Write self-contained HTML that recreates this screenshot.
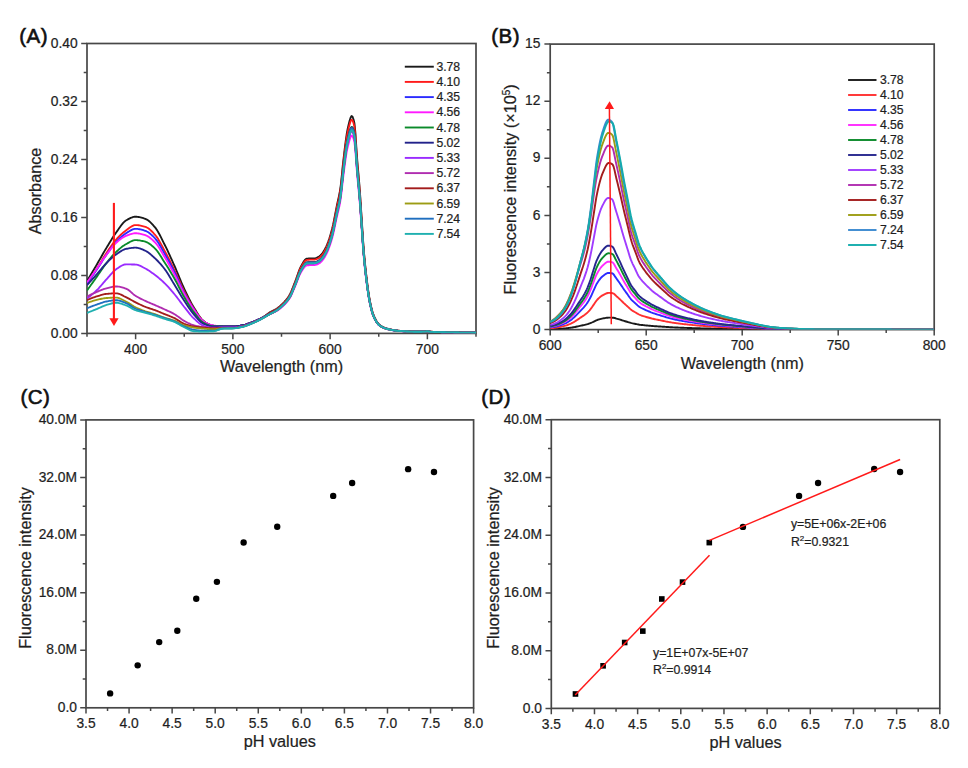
<!DOCTYPE html>
<html><head><meta charset="utf-8"><title>Figure</title>
<style>html,body{margin:0;padding:0;background:#fff;}svg{display:block;}text{fill:#1e1e1e;stroke:#1e1e1e;stroke-width:0.22px;font-family:"Liberation Sans", sans-serif;}</style>
</head><body>
<svg width="968" height="768" viewBox="0 0 968 768">
<rect width="968" height="768" fill="#fff"/>
<text x="19.3" y="42.9" font-size="20.5" text-anchor="start" style="stroke:#111;stroke-width:0.6px;fill:#111" letter-spacing="0.45">(A)</text>
<text x="491.3" y="42.8" font-size="20.5" text-anchor="start" style="stroke:#111;stroke-width:0.6px;fill:#111" letter-spacing="0.45">(B)</text>
<text x="20.6" y="404" font-size="20.5" text-anchor="start" style="stroke:#111;stroke-width:0.6px;fill:#111" letter-spacing="0.45">(C)</text>
<text x="481.3" y="404" font-size="20.5" text-anchor="start" style="stroke:#111;stroke-width:0.6px;fill:#111" letter-spacing="0.45">(D)</text>
<rect x="87" y="43.5" width="389" height="289.9" fill="none" stroke="#474747" stroke-width="1.7"/>
<path d="M87,333.4v3.3 M135.62,333.4v5.8 M184.25,333.4v3.3 M232.88,333.4v5.8 M281.5,333.4v3.3 M330.12,333.4v5.8 M378.75,333.4v3.3 M427.38,333.4v5.8 M476,333.4v3.3" stroke="#474747" stroke-width="1.5" fill="none"/>
<text x="135.62" y="353.6" font-size="13.8" text-anchor="middle">400</text>
<text x="232.88" y="353.6" font-size="13.8" text-anchor="middle">500</text>
<text x="330.12" y="353.6" font-size="13.8" text-anchor="middle">600</text>
<text x="427.38" y="353.6" font-size="13.8" text-anchor="middle">700</text>
<path d="M87,333.4h-5.8 M87,304.41h-3.3 M87,275.42h-5.8 M87,246.43h-3.3 M87,217.44h-5.8 M87,188.45h-3.3 M87,159.46h-5.8 M87,130.47h-3.3 M87,101.48h-5.8 M87,72.49h-3.3 M87,43.5h-5.8" stroke="#474747" stroke-width="1.5" fill="none"/>
<text x="77.6" y="337.5" font-size="13.8" text-anchor="end">0.00</text>
<text x="77.6" y="279.52" font-size="13.8" text-anchor="end">0.08</text>
<text x="77.6" y="221.54" font-size="13.8" text-anchor="end">0.16</text>
<text x="77.6" y="163.56" font-size="13.8" text-anchor="end">0.24</text>
<text x="77.6" y="105.58" font-size="13.8" text-anchor="end">0.32</text>
<text x="77.6" y="47.6" font-size="13.8" text-anchor="end">0.40</text>
<text x="281.6" y="372.3" font-size="16.25" text-anchor="middle">Wavelength (nm)</text>
<text transform="translate(40.8,191) rotate(-90)" font-size="16.25" text-anchor="middle">Absorbance</text>
<svg x="87" y="43.5" width="389" height="289.9" overflow="hidden"><g transform="translate(-87,-43.5)">
<path d="M87,281.07 87.97,279.45 88.94,277.83 89.92,276.2 90.89,274.57 91.86,272.94 92.83,271.3 93.81,269.65 94.78,268 95.75,266.35 96.72,264.69 97.7,263.02 98.67,261.33 99.64,259.63 100.62,257.93 101.59,256.22 102.56,254.52 103.53,252.83 104.5,251.15 105.48,249.5 106.45,247.88 107.42,246.27 108.39,244.66 109.37,243.05 110.34,241.45 111.31,239.87 112.28,238.32 113.26,236.8 114.23,235.32 115.2,233.89 116.17,232.51 117.15,231.14 118.12,229.74 119.09,228.32 120.06,226.93 121.04,225.58 122.01,224.31 122.98,223.15 123.95,222.11 124.93,221.24 125.9,220.56 126.87,219.98 127.84,219.41 128.82,218.87 129.79,218.37 130.76,217.91 131.74,217.51 132.71,217.18 133.68,216.93 134.65,216.77 135.62,216.72 136.6,216.74 137.57,216.83 138.54,216.97 139.51,217.15 140.49,217.37 141.46,217.62 142.43,217.91 143.41,218.22 144.38,218.55 145.35,218.89 146.32,219.31 147.3,219.85 148.27,220.52 149.24,221.3 150.21,222.16 151.19,223.11 152.16,224.12 153.13,225.19 154.1,226.3 155.07,227.44 156.05,228.69 157.02,230.13 157.99,231.72 158.97,233.44 159.94,235.26 160.91,237.16 161.88,239.11 162.86,241.08 163.83,243.04 164.8,244.98 165.77,246.92 166.75,248.91 167.72,250.95 168.69,253.03 169.66,255.14 170.63,257.28 171.61,259.45 172.58,261.62 173.55,263.81 174.53,266 175.5,268.22 176.47,270.51 177.44,272.85 178.41,275.2 179.39,277.57 180.36,279.92 181.33,282.24 182.31,284.51 183.28,286.71 184.25,288.83 185.22,290.89 186.19,292.93 187.17,294.95 188.14,296.93 189.11,298.87 190.09,300.76 191.06,302.6 192.03,304.37 193,306.06 193.98,307.67 194.95,309.25 195.92,310.85 196.89,312.43 197.87,313.98 198.84,315.46 199.81,316.86 200.78,318.15 201.75,319.29 202.73,320.28 203.7,321.08 204.67,321.77 205.64,322.43 206.62,323.06 207.59,323.65 208.56,324.19 209.53,324.67 210.51,325.08 211.48,325.41 212.45,325.65 213.43,325.79 214.4,325.88 215.37,325.95 216.34,326.02 217.31,326.07 218.29,326.12 219.26,326.16 220.23,326.2 221.2,326.24 222.18,326.27 223.15,326.3 224.12,326.33 225.09,326.36 226.07,326.39 227.04,326.42 228.01,326.44 228.98,326.47 229.96,326.49 230.93,326.5 231.9,326.51 232.88,326.51 233.85,326.5 234.82,326.44 235.79,326.36 236.77,326.25 237.74,326.12 238.71,325.97 239.68,325.81 240.66,325.64 241.63,325.46 242.6,325.28 243.57,325.09 244.55,324.85 245.52,324.58 246.49,324.28 247.46,323.96 248.44,323.62 249.41,323.26 250.38,322.9 251.35,322.53 252.32,322.17 253.3,321.8 254.27,321.42 255.24,321.03 256.22,320.63 257.19,320.21 258.16,319.77 259.13,319.31 260.11,318.84 261.08,318.34 262.05,317.82 263.02,317.24 264,316.59 264.97,315.88 265.94,315.15 266.91,314.41 267.88,313.69 268.86,313.01 269.83,312.38 270.8,311.83 271.77,311.33 272.75,310.85 273.72,310.38 274.69,309.89 275.66,309.35 276.64,308.76 277.61,308.09 278.58,307.35 279.56,306.54 280.53,305.68 281.5,304.77 282.47,303.83 283.44,302.85 284.42,301.82 285.39,300.73 286.36,299.56 287.34,298.3 288.31,296.92 289.28,295.42 290.25,293.65 291.23,291.55 292.2,289.21 293.17,286.72 294.14,284.2 295.12,281.73 296.09,279.15 297.06,276.35 298.03,273.51 299,270.79 299.98,268.35 300.95,266.36 301.92,264.62 302.89,262.91 303.87,261.34 304.84,260.03 305.81,259.1 306.78,258.68 307.76,258.57 308.73,258.48 309.7,258.43 310.67,258.39 311.65,258.37 312.62,258.35 313.59,258.34 314.56,258.32 315.54,258.17 316.51,257.86 317.48,257.43 318.45,256.94 319.43,256.3 320.4,255.43 321.37,254.4 322.35,253.23 323.32,251.85 324.29,250.27 325.26,248.51 326.24,246.57 327.21,244.38 328.18,241.86 329.15,239.03 330.12,235.93 331.1,232.59 332.07,229.04 333.04,224.97 334.01,220.28 334.99,215.22 335.96,210.08 336.93,205.12 337.9,200.66 338.88,196.33 339.85,191.39 340.82,184.84 341.8,175.64 342.77,165.68 343.74,157.04 344.71,148.9 345.69,141.1 346.66,134.27 347.63,129.02 348.6,124.73 349.58,120.75 350.55,117.67 351.52,116.07 352.49,116.59 353.47,119.22 354.44,123.22 355.41,132.94 356.38,148.16 357.35,161.55 358.33,172.56 359.3,183.72 360.27,196.82 361.25,212.06 362.22,227.16 363.19,242.13 364.16,254.3 365.13,264.59 366.11,273.65 367.08,281.82 368.05,289.4 369.02,296.02 370,301.32 370.97,305.96 371.94,310.01 372.92,313.33 373.89,315.85 374.86,318.02 375.83,319.96 376.81,321.65 377.78,323.06 378.75,324.18 379.72,325.01 380.69,325.7 381.67,326.33 382.64,326.87 383.61,327.36 384.58,327.78 385.56,328.14 386.53,328.45 387.5,328.72 388.48,328.97 389.45,329.2 390.42,329.42 391.39,329.63 392.37,329.82 393.34,330 394.31,330.17 395.28,330.32 396.25,330.46 397.23,330.58 398.2,330.69 399.17,330.78 400.15,330.86 401.12,330.93 402.09,331 403.06,331.07 404.03,331.14 405.01,331.2 405.98,331.26 406.95,331.32 407.92,331.37 408.9,331.42 409.87,331.47 410.84,331.51 411.81,331.55 412.79,331.58 413.76,331.61 414.73,331.63 415.7,331.65 416.68,331.66 417.65,331.66 418.62,331.66 419.59,331.65 420.57,331.63 421.54,331.61 422.51,331.58 423.49,331.55 424.46,331.52 425.43,331.42 426.4,331.29 427.38,331.23 428.35,331.32 429.32,331.52 430.29,331.66 431.26,331.72 432.24,331.78 433.21,331.83 434.18,331.88 435.16,331.92 436.13,331.96 437.1,332 438.07,332.03 439.05,332.06 440.02,332.08 440.99,332.11 441.96,332.13 442.94,332.16 443.91,332.18 444.88,332.2 445.85,332.22 446.83,332.24 447.8,332.26 448.77,332.28 449.74,332.3 450.72,332.32 451.69,332.34 452.66,332.36 453.63,332.38 454.6,332.4 455.58,332.42 456.55,332.44 457.52,332.46 458.5,332.48 459.47,332.5 460.44,332.51 461.41,332.53 462.38,332.55 463.36,332.56 464.33,332.57 465.3,332.59 466.27,332.6 467.25,332.61 468.22,332.62 469.19,332.63 470.17,332.64 471.14,332.65 472.11,332.66 473.08,332.66 474.06,332.67 475.03,332.67 476,332.68" stroke="#1a1a1a" stroke-width="1.85" fill="none" stroke-linejoin="round"/>
<path d="M87,283.25 87.97,281.88 88.94,280.5 89.92,279.11 90.89,277.69 91.86,276.27 92.83,274.82 93.81,273.36 94.78,271.89 95.75,270.4 96.72,268.9 97.7,267.36 98.67,265.77 99.64,264.15 100.62,262.51 101.59,260.86 102.56,259.21 103.53,257.59 104.5,255.99 105.48,254.44 106.45,252.95 107.42,251.49 108.39,250.04 109.37,248.6 110.34,247.17 111.31,245.78 112.28,244.42 113.26,243.11 114.23,241.86 115.2,240.67 116.17,239.54 117.15,238.48 118.12,237.44 119.09,236.43 120.06,235.45 121.04,234.51 122.01,233.61 122.98,232.76 123.95,231.95 124.93,231.19 125.9,230.49 126.87,229.78 127.84,229.05 128.82,228.31 129.79,227.59 130.76,226.92 131.74,226.31 132.71,225.8 133.68,225.4 134.65,225.14 135.62,225.05 136.6,225.07 137.57,225.14 138.54,225.26 139.51,225.4 140.49,225.59 141.46,225.8 142.43,226.04 143.41,226.3 144.38,226.57 145.35,226.86 146.32,227.23 147.3,227.73 148.27,228.34 149.24,229.07 150.21,229.88 151.19,230.77 152.16,231.72 153.13,232.73 154.1,233.77 155.07,234.83 156.05,236 157.02,237.34 157.99,238.82 158.97,240.42 159.94,242.12 160.91,243.89 161.88,245.7 162.86,247.53 163.83,249.35 164.8,251.14 165.77,252.93 166.75,254.75 167.72,256.62 168.69,258.51 169.66,260.44 170.63,262.39 171.61,264.36 172.58,266.34 173.55,268.34 174.53,270.35 175.5,272.39 176.47,274.49 177.44,276.64 178.41,278.81 179.39,280.99 180.36,283.15 181.33,285.29 182.31,287.38 183.28,289.41 184.25,291.36 185.22,293.26 186.19,295.14 187.17,297 188.14,298.82 189.11,300.61 190.09,302.35 191.06,304.04 192.03,305.68 193,307.25 193.98,308.76 194.95,310.24 195.92,311.75 196.89,313.25 197.87,314.71 198.84,316.12 199.81,317.45 200.78,318.67 201.75,319.76 202.73,320.69 203.7,321.44 204.67,322.08 205.64,322.69 206.62,323.28 207.59,323.82 208.56,324.31 209.53,324.75 210.51,325.13 211.48,325.43 212.45,325.65 213.43,325.79 214.4,325.88 215.37,325.95 216.34,326.01 217.31,326.07 218.29,326.12 219.26,326.16 220.23,326.2 221.2,326.23 222.18,326.27 223.15,326.3 224.12,326.33 225.09,326.36 226.07,326.39 227.04,326.42 228.01,326.44 228.98,326.47 229.96,326.49 230.93,326.5 231.9,326.51 232.88,326.51 233.85,326.5 234.82,326.44 235.79,326.36 236.77,326.25 237.74,326.12 238.71,325.97 239.68,325.81 240.66,325.64 241.63,325.46 242.6,325.28 243.57,325.09 244.55,324.85 245.52,324.58 246.49,324.28 247.46,323.96 248.44,323.62 249.41,323.26 250.38,322.9 251.35,322.53 252.32,322.17 253.3,321.8 254.27,321.42 255.24,321.02 256.22,320.61 257.19,320.19 258.16,319.75 259.13,319.29 260.11,318.82 261.08,318.33 262.05,317.82 263.02,317.26 264,316.65 264.97,316 265.94,315.32 266.91,314.64 267.88,313.97 268.86,313.33 269.83,312.74 270.8,312.2 271.77,311.71 272.75,311.24 273.72,310.78 274.69,310.29 275.66,309.76 276.64,309.18 277.61,308.52 278.58,307.79 279.56,307 280.53,306.15 281.5,305.26 282.47,304.33 283.44,303.37 284.42,302.36 285.39,301.29 286.36,300.14 287.34,298.9 288.31,297.54 289.28,296.07 290.25,294.33 291.23,292.26 292.2,289.96 293.17,287.52 294.14,285.03 295.12,282.6 296.09,280.07 297.06,277.32 298.03,274.53 299,271.85 299.98,269.45 300.95,267.5 301.92,265.79 302.89,264.11 303.87,262.56 304.84,261.27 305.81,260.36 306.78,259.95 307.76,259.84 308.73,259.76 309.7,259.7 310.67,259.66 311.65,259.64 312.62,259.63 313.59,259.62 314.56,259.59 315.54,259.45 316.51,259.14 317.48,258.72 318.45,258.24 319.43,257.61 320.4,256.75 321.37,255.75 322.35,254.59 323.32,253.23 324.29,251.68 325.26,249.95 326.24,248.05 327.21,245.89 328.18,243.41 329.15,240.64 330.12,237.59 331.1,234.31 332.07,230.81 333.04,226.82 334.01,222.2 334.99,217.23 335.96,212.17 336.93,207.3 337.9,202.92 338.88,198.66 339.85,193.8 340.82,187.37 341.8,178.33 342.77,168.53 343.74,160.04 344.71,152.04 345.69,144.37 346.66,137.65 347.63,132.49 348.6,128.28 349.58,124.36 350.55,121.33 351.52,119.77 352.49,120.27 353.47,122.86 354.44,126.8 355.41,136.35 356.38,151.31 357.35,164.47 358.33,175.3 359.3,186.26 360.27,199.14 361.25,214.12 362.22,228.97 363.19,243.68 364.16,255.65 365.13,265.76 366.11,274.67 367.08,282.7 368.05,290.15 369.02,296.65 370,301.87 370.97,306.43 371.94,310.41 372.92,313.68 373.89,316.15 374.86,318.28 375.83,320.19 376.81,321.85 377.78,323.24 378.75,324.34 379.72,325.15 380.69,325.83 381.67,326.45 382.64,326.99 383.61,327.46 384.58,327.87 385.56,328.23 386.53,328.54 387.5,328.8 388.48,329.04 389.45,329.27 390.42,329.49 391.39,329.7 392.37,329.89 393.34,330.06 394.31,330.22 395.28,330.37 396.25,330.51 397.23,330.63 398.2,330.74 399.17,330.83 400.15,330.91 401.12,330.98 402.09,331.05 403.06,331.11 404.03,331.18 405.01,331.24 405.98,331.3 406.95,331.36 407.92,331.41 408.9,331.46 409.87,331.5 410.84,331.54 411.81,331.58 412.79,331.61 413.76,331.64 414.73,331.66 415.7,331.68 416.68,331.69 417.65,331.69 418.62,331.69 419.59,331.68 420.57,331.66 421.54,331.64 422.51,331.61 423.49,331.58 424.46,331.55 425.43,331.46 426.4,331.33 427.38,331.26 428.35,331.36 429.32,331.55 430.29,331.69 431.26,331.75 432.24,331.81 433.21,331.86 434.18,331.9 435.16,331.95 436.13,331.98 437.1,332.02 438.07,332.05 439.05,332.08 440.02,332.11 440.99,332.13 441.96,332.16 442.94,332.18 443.91,332.2 444.88,332.22 445.85,332.24 446.83,332.26 447.8,332.28 448.77,332.3 449.74,332.32 450.72,332.34 451.69,332.36 452.66,332.38 453.63,332.4 454.6,332.42 455.58,332.44 456.55,332.46 457.52,332.48 458.5,332.49 459.47,332.51 460.44,332.53 461.41,332.54 462.38,332.56 463.36,332.57 464.33,332.59 465.3,332.6 466.27,332.61 467.25,332.63 468.22,332.64 469.19,332.65 470.17,332.66 471.14,332.66 472.11,332.67 473.08,332.68 474.06,332.68 475.03,332.69 476,332.69" stroke="#ff1a1a" stroke-width="1.85" fill="none" stroke-linejoin="round"/>
<path d="M87,283.39 87.97,282.06 88.94,280.72 89.92,279.37 90.89,278.01 91.86,276.64 92.83,275.26 93.81,273.86 94.78,272.46 95.75,271.05 96.72,269.62 97.7,268.17 98.67,266.69 99.64,265.18 100.62,263.66 101.59,262.13 102.56,260.6 103.53,259.1 104.5,257.61 105.48,256.17 106.45,254.76 107.42,253.38 108.39,252 109.37,250.62 110.34,249.25 111.31,247.91 112.28,246.61 113.26,245.35 114.23,244.14 115.2,243 116.17,241.94 117.15,240.92 118.12,239.92 119.09,238.96 120.06,238.02 121.04,237.12 122.01,236.27 122.98,235.46 123.95,234.71 124.93,234.01 125.9,233.38 126.87,232.77 127.84,232.15 128.82,231.52 129.79,230.92 130.76,230.36 131.74,229.85 132.71,229.43 133.68,229.1 134.65,228.89 135.62,228.82 136.6,228.85 137.57,228.93 138.54,229.06 139.51,229.23 140.49,229.43 141.46,229.67 142.43,229.94 143.41,230.23 144.38,230.53 145.35,230.85 146.32,231.23 147.3,231.72 148.27,232.32 149.24,233.01 150.21,233.78 151.19,234.61 152.16,235.51 153.13,236.46 154.1,237.45 155.07,238.46 156.05,239.57 157.02,240.85 157.99,242.27 158.97,243.81 159.94,245.43 160.91,247.12 161.88,248.86 162.86,250.6 163.83,252.34 164.8,254.04 165.77,255.73 166.75,257.45 167.72,259.2 168.69,260.98 169.66,262.78 170.63,264.61 171.61,266.46 172.58,268.34 173.55,270.24 174.53,272.16 175.5,274.13 176.47,276.19 177.44,278.3 178.41,280.44 179.39,282.59 180.36,284.74 181.33,286.86 182.31,288.92 183.28,290.91 184.25,292.81 185.22,294.65 186.19,296.46 187.17,298.23 188.14,299.98 189.11,301.68 190.09,303.35 191.06,304.96 192.03,306.53 193,308.03 193.98,309.48 194.95,310.92 195.92,312.39 196.89,313.85 197.87,315.28 198.84,316.66 199.81,317.96 200.78,319.15 201.75,320.21 202.73,321.1 203.7,321.8 204.67,322.4 205.64,322.96 206.62,323.49 207.59,323.99 208.56,324.44 209.53,324.84 210.51,325.18 211.48,325.45 212.45,325.66 213.43,325.79 214.4,325.87 215.37,325.95 216.34,326.01 217.31,326.07 218.29,326.12 219.26,326.16 220.23,326.2 221.2,326.23 222.18,326.27 223.15,326.3 224.12,326.33 225.09,326.36 226.07,326.39 227.04,326.42 228.01,326.44 228.98,326.47 229.96,326.49 230.93,326.5 231.9,326.51 232.88,326.51 233.85,326.5 234.82,326.44 235.79,326.36 236.77,326.25 237.74,326.12 238.71,325.97 239.68,325.81 240.66,325.64 241.63,325.46 242.6,325.28 243.57,325.09 244.55,324.85 245.52,324.58 246.49,324.28 247.46,323.96 248.44,323.62 249.41,323.26 250.38,322.9 251.35,322.53 252.32,322.17 253.3,321.79 254.27,321.4 255.24,320.99 256.22,320.56 257.19,320.13 258.16,319.68 259.13,319.22 260.11,318.76 261.08,318.29 262.05,317.82 263.02,317.34 264,316.84 264.97,316.33 265.94,315.81 266.91,315.29 267.88,314.77 268.86,314.25 269.83,313.75 270.8,313.27 271.77,312.81 272.75,312.37 273.72,311.91 274.69,311.44 275.66,310.92 276.64,310.36 277.61,309.73 278.58,309.04 279.56,308.29 280.53,307.48 281.5,306.63 282.47,305.75 283.44,304.84 284.42,303.88 285.39,302.86 286.36,301.76 287.34,300.58 288.31,299.3 289.28,297.89 290.25,296.24 291.23,294.27 292.2,292.08 293.17,289.76 294.14,287.4 295.12,285.08 296.09,282.67 297.06,280.06 298.03,277.41 299,274.86 299.98,272.58 300.95,270.72 301.92,269.09 302.89,267.49 303.87,266.02 304.84,264.8 305.81,263.93 306.78,263.54 307.76,263.43 308.73,263.35 309.7,263.3 310.67,263.26 311.65,263.24 312.62,263.23 313.59,263.22 314.56,263.2 315.54,263.06 316.51,262.77 317.48,262.37 318.45,261.91 319.43,261.31 320.4,260.49 321.37,259.54 322.35,258.44 323.32,257.15 324.29,255.67 325.26,254.03 326.24,252.22 327.21,250.17 328.18,247.81 329.15,245.17 330.12,242.27 331.1,239.15 332.07,235.82 333.04,232.02 334.01,227.63 334.99,222.9 335.96,218.09 336.93,213.46 337.9,209.29 338.88,205.24 339.85,200.62 340.82,194.5 341.8,185.9 342.77,176.58 343.74,168.51 344.71,160.89 345.69,153.6 346.66,147.21 347.63,142.31 348.6,138.29 349.58,134.57 350.55,131.69 351.52,130.2 352.49,130.68 353.47,133.14 354.44,136.88 355.41,145.97 356.38,160.2 357.35,172.72 358.33,183.02 359.3,193.45 360.27,205.7 361.25,219.95 362.22,234.07 363.19,248.06 364.16,259.44 365.13,269.06 366.11,277.53 367.08,285.18 368.05,292.26 369.02,298.45 370,303.41 370.97,307.75 371.94,311.53 372.92,314.64 373.89,316.99 374.86,319.02 375.83,320.83 376.81,322.41 377.78,323.73 378.75,324.78 379.72,325.55 380.69,326.2 381.67,326.79 382.64,327.3 383.61,327.75 384.58,328.14 385.56,328.48 386.53,328.77 387.5,329.02 388.48,329.26 389.45,329.48 390.42,329.68 391.39,329.88 392.37,330.06 393.34,330.23 394.31,330.38 395.28,330.52 396.25,330.65 397.23,330.76 398.2,330.87 399.17,330.95 400.15,331.03 401.12,331.1 402.09,331.16 403.06,331.22 404.03,331.29 405.01,331.34 405.98,331.4 406.95,331.46 407.92,331.51 408.9,331.55 409.87,331.6 410.84,331.64 411.81,331.67 412.79,331.7 413.76,331.73 414.73,331.75 415.7,331.76 416.68,331.77 417.65,331.77 418.62,331.77 419.59,331.76 420.57,331.75 421.54,331.73 422.51,331.7 423.49,331.67 424.46,331.64 425.43,331.55 426.4,331.43 427.38,331.37 428.35,331.46 429.32,331.64 430.29,331.77 431.26,331.83 432.24,331.88 433.21,331.93 434.18,331.98 435.16,332.02 436.13,332.05 437.1,332.09 438.07,332.12 439.05,332.14 440.02,332.17 440.99,332.19 441.96,332.22 442.94,332.24 443.91,332.26 444.88,332.28 445.85,332.3 446.83,332.32 447.8,332.34 448.77,332.36 449.74,332.37 450.72,332.39 451.69,332.41 452.66,332.43 453.63,332.45 454.6,332.47 455.58,332.49 456.55,332.5 457.52,332.52 458.5,332.54 459.47,332.56 460.44,332.57 461.41,332.59 462.38,332.6 463.36,332.61 464.33,332.63 465.3,332.64 466.27,332.65 467.25,332.66 468.22,332.67 469.19,332.68 470.17,332.69 471.14,332.7 472.11,332.71 473.08,332.71 474.06,332.72 475.03,332.72 476,332.72" stroke="#2b2bff" stroke-width="1.85" fill="none" stroke-linejoin="round"/>
<path d="M87,282.31 87.97,281 88.94,279.68 89.92,278.36 90.89,277.03 91.86,275.69 92.83,274.35 93.81,272.99 94.78,271.64 95.75,270.27 96.72,268.9 97.7,267.5 98.67,266.08 99.64,264.64 100.62,263.18 101.59,261.73 102.56,260.28 103.53,258.85 104.5,257.45 105.48,256.09 106.45,254.76 107.42,253.46 108.39,252.14 109.37,250.83 110.34,249.53 111.31,248.26 112.28,247.03 113.26,245.86 114.23,244.75 115.2,243.73 116.17,242.81 117.15,241.94 118.12,241.1 119.09,240.28 120.06,239.49 121.04,238.75 122.01,238.06 122.98,237.43 123.95,236.85 124.93,236.35 125.9,235.92 126.87,235.53 127.84,235.15 128.82,234.77 129.79,234.42 130.76,234.1 131.74,233.81 132.71,233.58 133.68,233.39 134.65,233.28 135.62,233.24 136.6,233.27 137.57,233.34 138.54,233.47 139.51,233.63 140.49,233.83 141.46,234.06 142.43,234.32 143.41,234.6 144.38,234.89 145.35,235.2 146.32,235.56 147.3,236.03 148.27,236.6 149.24,237.26 150.21,237.99 151.19,238.79 152.16,239.64 153.13,240.54 154.1,241.48 155.07,242.44 156.05,243.5 157.02,244.72 157.99,246.08 158.97,247.54 159.94,249.09 160.91,250.7 161.88,252.35 162.86,254.02 163.83,255.67 164.8,257.3 165.77,258.92 166.75,260.58 167.72,262.26 168.69,263.98 169.66,265.72 170.63,267.48 171.61,269.26 172.58,271.06 173.55,272.87 174.53,274.7 175.5,276.55 176.47,278.47 177.44,280.43 178.41,282.41 179.39,284.4 180.36,286.38 181.33,288.34 182.31,290.26 183.28,292.12 184.25,293.9 185.22,295.64 186.19,297.36 187.17,299.06 188.14,300.73 189.11,302.37 190.09,303.97 191.06,305.53 192.03,307.03 193,308.47 193.98,309.85 194.95,311.2 195.92,312.58 196.89,313.95 197.87,315.29 198.84,316.58 199.81,317.79 200.78,318.91 201.75,319.91 202.73,320.76 203.7,321.44 204.67,322.02 205.64,322.57 206.62,323.08 207.59,323.56 208.56,324 209.53,324.39 210.51,324.73 211.48,325.02 212.45,325.25 213.43,325.43 214.4,325.56 215.37,325.69 216.34,325.8 217.31,325.91 218.29,326 219.26,326.08 220.23,326.15 221.2,326.21 222.18,326.26 223.15,326.3 224.12,326.33 225.09,326.36 226.07,326.4 227.04,326.42 228.01,326.45 228.98,326.47 229.96,326.49 230.93,326.5 231.9,326.51 232.88,326.51 233.85,326.5 234.82,326.44 235.79,326.36 236.77,326.25 237.74,326.12 238.71,325.97 239.68,325.81 240.66,325.64 241.63,325.46 242.6,325.28 243.57,325.09 244.55,324.85 245.52,324.58 246.49,324.28 247.46,323.96 248.44,323.62 249.41,323.26 250.38,322.9 251.35,322.53 252.32,322.17 253.3,321.79 254.27,321.39 255.24,320.97 256.22,320.53 257.19,320.09 258.16,319.63 259.13,319.17 260.11,318.72 261.08,318.26 262.05,317.82 263.02,317.38 264,316.94 264.97,316.5 265.94,316.06 266.91,315.62 267.88,315.18 268.86,314.73 269.83,314.27 270.8,313.83 271.77,313.39 272.75,312.95 273.72,312.5 274.69,312.03 275.66,311.53 276.64,310.98 277.61,310.37 278.58,309.69 279.56,308.96 280.53,308.18 281.5,307.35 282.47,306.49 283.44,305.6 284.42,304.67 285.39,303.67 286.36,302.61 287.34,301.46 288.31,300.21 289.28,298.84 290.25,297.23 291.23,295.32 292.2,293.18 293.17,290.93 294.14,288.63 295.12,286.38 296.09,284.03 297.06,281.49 298.03,278.9 299,276.42 299.98,274.2 300.95,272.39 301.92,270.81 302.89,269.25 303.87,267.82 304.84,266.63 305.81,265.79 306.78,265.4 307.76,265.3 308.73,265.23 309.7,265.17 310.67,265.14 311.65,265.12 312.62,265.11 313.59,265.1 314.56,265.07 315.54,264.95 316.51,264.66 317.48,264.27 318.45,263.82 319.43,263.24 320.4,262.44 321.37,261.51 322.35,260.44 323.32,259.19 324.29,257.75 325.26,256.15 326.24,254.39 327.21,252.39 328.18,250.1 329.15,247.52 330.12,244.71 331.1,241.67 332.07,238.43 333.04,234.73 334.01,230.46 334.99,225.86 335.96,221.18 336.93,216.66 337.9,212.61 338.88,208.67 339.85,204.17 340.82,198.21 341.8,189.84 342.77,180.78 343.74,172.92 344.71,165.51 345.69,158.41 346.66,152.19 347.63,147.41 348.6,143.51 349.58,139.89 350.55,137.08 351.52,135.63 352.49,136.1 353.47,138.49 354.44,142.14 355.41,150.99 356.38,164.83 357.35,177.02 358.33,187.04 359.3,197.19 360.27,209.11 361.25,222.98 362.22,236.73 363.19,250.35 364.16,261.42 365.13,270.78 366.11,279.03 367.08,286.46 368.05,293.36 369.02,299.38 370,304.21 370.97,308.43 371.94,312.12 372.92,315.14 373.89,317.43 374.86,319.4 375.83,321.17 376.81,322.71 377.78,323.99 378.75,325.01 379.72,325.76 380.69,326.4 381.67,326.96 382.64,327.46 383.61,327.9 384.58,328.28 385.56,328.61 386.53,328.9 387.5,329.14 388.48,329.37 389.45,329.58 390.42,329.78 391.39,329.97 392.37,330.15 393.34,330.31 394.31,330.46 395.28,330.6 396.25,330.72 397.23,330.84 398.2,330.93 399.17,331.02 400.15,331.09 401.12,331.16 402.09,331.22 403.06,331.28 404.03,331.34 405.01,331.4 405.98,331.45 406.95,331.51 407.92,331.56 408.9,331.6 409.87,331.64 410.84,331.68 411.81,331.72 412.79,331.75 413.76,331.77 414.73,331.79 415.7,331.81 416.68,331.81 417.65,331.82 418.62,331.81 419.59,331.8 420.57,331.79 421.54,331.77 422.51,331.75 423.49,331.72 424.46,331.69 425.43,331.6 426.4,331.48 427.38,331.42 428.35,331.51 429.32,331.69 430.29,331.82 431.26,331.87 432.24,331.92 433.21,331.97 434.18,332.01 435.16,332.05 436.13,332.09 437.1,332.12 438.07,332.15 439.05,332.18 440.02,332.2 440.99,332.23 441.96,332.25 442.94,332.27 443.91,332.29 444.88,332.31 445.85,332.33 446.83,332.34 447.8,332.36 448.77,332.38 449.74,332.4 450.72,332.42 451.69,332.44 452.66,332.46 453.63,332.48 454.6,332.49 455.58,332.51 456.55,332.53 457.52,332.55 458.5,332.56 459.47,332.58 460.44,332.59 461.41,332.61 462.38,332.62 463.36,332.64 464.33,332.65 465.3,332.66 466.27,332.67 467.25,332.68 468.22,332.69 469.19,332.7 470.17,332.71 471.14,332.72 472.11,332.72 473.08,332.73 474.06,332.73 475.03,332.74 476,332.74" stroke="#ff1aff" stroke-width="1.85" fill="none" stroke-linejoin="round"/>
<path d="M87,290.49 87.97,289.14 88.94,287.78 89.92,286.42 90.89,285.06 91.86,283.7 92.83,282.34 93.81,280.97 94.78,279.61 95.75,278.24 96.72,276.87 97.7,275.49 98.67,274.08 99.64,272.66 100.62,271.24 101.59,269.82 102.56,268.41 103.53,267.03 104.5,265.68 105.48,264.36 106.45,263.1 107.42,261.86 108.39,260.64 109.37,259.43 110.34,258.23 111.31,257.07 112.28,255.94 113.26,254.85 114.23,253.8 115.2,252.8 116.17,251.87 117.15,250.97 118.12,250.08 119.09,249.23 120.06,248.39 121.04,247.6 122.01,246.83 122.98,246.12 123.95,245.44 124.93,244.82 125.9,244.26 126.87,243.71 127.84,243.14 128.82,242.58 129.79,242.03 130.76,241.52 131.74,241.06 132.71,240.68 133.68,240.38 134.65,240.19 135.62,240.12 136.6,240.15 137.57,240.21 138.54,240.31 139.51,240.44 140.49,240.6 141.46,240.79 142.43,240.99 143.41,241.22 144.38,241.46 145.35,241.72 146.32,242.04 147.3,242.47 148.27,243 149.24,243.63 150.21,244.33 151.19,245.1 152.16,245.92 153.13,246.79 154.1,247.68 155.07,248.6 156.05,249.62 157.02,250.78 157.99,252.07 158.97,253.47 159.94,254.95 160.91,256.49 161.88,258.06 162.86,259.65 163.83,261.21 164.8,262.74 165.77,264.24 166.75,265.77 167.72,267.31 168.69,268.86 169.66,270.44 170.63,272.04 171.61,273.66 172.58,275.31 173.55,276.98 174.53,278.68 175.5,280.44 176.47,282.26 177.44,284.14 178.41,286.05 179.39,287.98 180.36,289.9 181.33,291.8 182.31,293.65 183.28,295.45 184.25,297.16 185.22,298.83 186.19,300.48 187.17,302.12 188.14,303.73 189.11,305.3 190.09,306.84 191.06,308.32 192.03,309.74 193,311.1 193.98,312.38 194.95,313.64 195.92,314.91 196.89,316.17 197.87,317.39 198.84,318.57 199.81,319.67 200.78,320.67 201.75,321.56 202.73,322.31 203.7,322.89 204.67,323.38 205.64,323.86 206.62,324.31 207.59,324.73 208.56,325.11 209.53,325.44 210.51,325.72 211.48,325.94 212.45,326.08 213.43,326.15 214.4,326.18 215.37,326.2 216.34,326.21 217.31,326.23 218.29,326.24 219.26,326.25 220.23,326.26 221.2,326.27 222.18,326.28 223.15,326.3 224.12,326.32 225.09,326.34 226.07,326.37 227.04,326.4 228.01,326.43 228.98,326.46 229.96,326.48 230.93,326.5 231.9,326.51 232.88,326.51 233.85,326.5 234.82,326.44 235.79,326.36 236.77,326.25 237.74,326.12 238.71,325.97 239.68,325.81 240.66,325.64 241.63,325.46 242.6,325.28 243.57,325.09 244.55,324.85 245.52,324.58 246.49,324.28 247.46,323.96 248.44,323.62 249.41,323.26 250.38,322.9 251.35,322.53 252.32,322.17 253.3,321.79 254.27,321.41 255.24,321 256.22,320.58 257.19,320.15 258.16,319.7 259.13,319.24 260.11,318.78 261.08,318.3 262.05,317.82 263.02,317.31 264,316.78 264.97,316.22 265.94,315.66 266.91,315.08 267.88,314.52 268.86,313.96 269.83,313.43 270.8,312.94 271.77,312.47 272.75,312.01 273.72,311.56 274.69,311.08 275.66,310.56 276.64,309.99 277.61,309.35 278.58,308.65 279.56,307.89 280.53,307.07 281.5,306.2 282.47,305.31 283.44,304.38 284.42,303.4 285.39,302.37 286.36,301.26 287.34,300.05 288.31,298.75 289.28,297.32 290.25,295.64 291.23,293.64 292.2,291.42 293.17,289.06 294.14,286.66 295.12,284.31 296.09,281.86 297.06,279.21 298.03,276.51 299,273.92 299.98,271.6 300.95,269.71 301.92,268.06 302.89,266.43 303.87,264.94 304.84,263.7 305.81,262.82 306.78,262.41 307.76,262.31 308.73,262.23 309.7,262.17 310.67,262.14 311.65,262.12 312.62,262.11 313.59,262.09 314.56,262.07 315.54,261.94 316.51,261.64 317.48,261.23 318.45,260.76 319.43,260.15 320.4,259.32 321.37,258.35 322.35,257.23 323.32,255.92 324.29,254.43 325.26,252.76 326.24,250.92 327.21,248.83 328.18,246.43 329.15,243.75 330.12,240.81 331.1,237.63 332.07,234.25 333.04,230.39 334.01,225.93 334.99,221.13 335.96,216.24 336.93,211.53 337.9,207.3 338.88,203.18 339.85,198.49 340.82,192.27 341.8,183.53 342.77,174.07 343.74,165.86 344.71,158.13 345.69,150.72 346.66,144.22 347.63,139.24 348.6,135.16 349.58,131.38 350.55,128.45 351.52,126.94 352.49,127.43 353.47,129.92 354.44,133.73 355.41,142.97 356.38,157.42 357.35,170.14 358.33,180.6 359.3,191.2 360.27,203.65 361.25,218.13 362.22,232.48 363.19,246.69 364.16,258.26 365.13,268.03 366.11,276.64 367.08,284.4 368.05,291.6 369.02,297.89 370,302.93 370.97,307.33 371.94,311.18 372.92,314.34 373.89,316.73 374.86,318.79 375.83,320.63 376.81,322.24 377.78,323.58 378.75,324.64 379.72,325.43 380.69,326.09 381.67,326.68 382.64,327.2 383.61,327.66 384.58,328.06 385.56,328.4 386.53,328.7 387.5,328.95 388.48,329.19 389.45,329.41 390.42,329.62 391.39,329.82 392.37,330 393.34,330.17 394.31,330.33 395.28,330.48 396.25,330.61 397.23,330.72 398.2,330.83 399.17,330.91 400.15,330.99 401.12,331.06 402.09,331.12 403.06,331.19 404.03,331.25 405.01,331.31 405.98,331.37 406.95,331.42 407.92,331.48 408.9,331.52 409.87,331.57 410.84,331.61 411.81,331.64 412.79,331.67 413.76,331.7 414.73,331.72 415.7,331.74 416.68,331.74 417.65,331.75 418.62,331.74 419.59,331.73 420.57,331.72 421.54,331.7 422.51,331.67 423.49,331.64 424.46,331.61 425.43,331.52 426.4,331.4 427.38,331.33 428.35,331.43 429.32,331.61 430.29,331.75 431.26,331.81 432.24,331.86 433.21,331.91 434.18,331.95 435.16,331.99 436.13,332.03 437.1,332.07 438.07,332.1 439.05,332.12 440.02,332.15 440.99,332.17 441.96,332.2 442.94,332.22 443.91,332.24 444.88,332.26 445.85,332.28 446.83,332.3 447.8,332.32 448.77,332.34 449.74,332.36 450.72,332.38 451.69,332.4 452.66,332.42 453.63,332.44 454.6,332.45 455.58,332.47 456.55,332.49 457.52,332.51 458.5,332.53 459.47,332.54 460.44,332.56 461.41,332.57 462.38,332.59 463.36,332.6 464.33,332.62 465.3,332.63 466.27,332.64 467.25,332.65 468.22,332.66 469.19,332.67 470.17,332.68 471.14,332.69 472.11,332.7 473.08,332.7 474.06,332.71 475.03,332.71 476,332.71" stroke="#0a8a2a" stroke-width="1.85" fill="none" stroke-linejoin="round"/>
<path d="M87,285.13 87.97,284.07 88.94,283.01 89.92,281.94 90.89,280.86 91.86,279.79 92.83,278.7 93.81,277.62 94.78,276.53 95.75,275.43 96.72,274.33 97.7,273.21 98.67,272.07 99.64,270.91 100.62,269.73 101.59,268.57 102.56,267.41 103.53,266.27 104.5,265.17 105.48,264.11 106.45,263.1 107.42,262.12 108.39,261.15 109.37,260.2 110.34,259.27 111.31,258.36 112.28,257.49 113.26,256.65 114.23,255.85 115.2,255.1 116.17,254.4 117.15,253.73 118.12,253.05 119.09,252.38 120.06,251.73 121.04,251.11 122.01,250.54 122.98,250.03 123.95,249.59 124.93,249.23 125.9,248.97 126.87,248.76 127.84,248.56 128.82,248.38 129.79,248.2 130.76,248.05 131.74,247.92 132.71,247.81 133.68,247.73 134.65,247.68 135.62,247.66 136.6,247.71 137.57,247.84 138.54,248.06 139.51,248.33 140.49,248.67 141.46,249.04 142.43,249.46 143.41,249.89 144.38,250.33 145.35,250.78 146.32,251.27 147.3,251.85 148.27,252.51 149.24,253.23 150.21,254.02 151.19,254.85 152.16,255.71 153.13,256.59 154.1,257.49 155.07,258.39 156.05,259.3 157.02,260.26 157.99,261.25 158.97,262.27 159.94,263.34 160.91,264.45 161.88,265.59 162.86,266.78 163.83,268 164.8,269.26 165.77,270.59 166.75,272.02 167.72,273.52 168.69,275.08 169.66,276.68 170.63,278.32 171.61,279.97 172.58,281.61 173.55,283.24 174.53,284.84 175.5,286.43 176.47,288.04 177.44,289.67 178.41,291.31 179.39,292.94 180.36,294.56 181.33,296.16 182.31,297.74 183.28,299.28 184.25,300.79 185.22,302.27 186.19,303.75 187.17,305.23 188.14,306.69 189.11,308.12 190.09,309.52 191.06,310.87 192.03,312.17 193,313.4 193.98,314.56 194.95,315.69 195.92,316.84 196.89,317.98 197.87,319.1 198.84,320.17 199.81,321.16 200.78,322.06 201.75,322.84 202.73,323.49 203.7,323.98 204.67,324.37 205.64,324.75 206.62,325.11 207.59,325.45 208.56,325.75 209.53,326.01 210.51,326.22 211.48,326.38 212.45,326.48 213.43,326.51 214.4,326.51 215.37,326.49 216.34,326.47 217.31,326.44 218.29,326.41 219.26,326.37 220.23,326.34 221.2,326.32 222.18,326.3 223.15,326.3 224.12,326.3 225.09,326.32 226.07,326.34 227.04,326.37 228.01,326.41 228.98,326.44 229.96,326.47 230.93,326.49 231.9,326.51 232.88,326.51 233.85,326.5 234.82,326.44 235.79,326.36 236.77,326.25 237.74,326.12 238.71,325.97 239.68,325.81 240.66,325.64 241.63,325.46 242.6,325.28 243.57,325.09 244.55,324.85 245.52,324.58 246.49,324.28 247.46,323.96 248.44,323.62 249.41,323.26 250.38,322.9 251.35,322.53 252.32,322.17 253.3,321.79 254.27,321.4 255.24,321 256.22,320.58 257.19,320.14 258.16,319.7 259.13,319.24 260.11,318.77 261.08,318.3 262.05,317.82 263.02,317.32 264,316.79 264.97,316.24 265.94,315.68 266.91,315.11 267.88,314.55 268.86,314 269.83,313.48 270.8,312.98 271.77,312.51 272.75,312.06 273.72,311.6 274.69,311.13 275.66,310.61 276.64,310.04 277.61,309.4 278.58,308.7 279.56,307.94 280.53,307.12 281.5,306.26 282.47,305.36 283.44,304.44 284.42,303.47 285.39,302.43 286.36,301.32 287.34,300.13 288.31,298.82 289.28,297.4 290.25,295.72 291.23,293.73 292.2,291.51 293.17,289.15 294.14,286.76 295.12,284.41 296.09,281.97 297.06,279.32 298.03,276.63 299,274.04 299.98,271.73 300.95,269.85 301.92,268.2 302.89,266.57 303.87,265.08 304.84,263.84 305.81,262.96 306.78,262.56 307.76,262.46 308.73,262.38 309.7,262.32 310.67,262.29 311.65,262.27 312.62,262.26 313.59,262.24 314.56,262.22 315.54,262.09 316.51,261.79 317.48,261.38 318.45,260.91 319.43,260.31 320.4,259.48 321.37,258.51 322.35,257.39 323.32,256.09 324.29,254.59 325.26,252.92 326.24,251.09 327.21,249.01 328.18,246.62 329.15,243.94 330.12,241 331.1,237.84 332.07,234.46 333.04,230.61 334.01,226.16 334.99,221.36 335.96,216.49 336.93,211.79 337.9,207.56 338.88,203.46 339.85,198.77 340.82,192.57 341.8,183.85 342.77,174.4 343.74,166.21 344.71,158.49 345.69,151.1 346.66,144.62 347.63,139.65 348.6,135.58 349.58,131.81 350.55,128.88 351.52,127.37 352.49,127.86 353.47,130.35 354.44,134.15 355.41,143.37 356.38,157.79 357.35,170.49 358.33,180.93 359.3,191.5 360.27,203.92 361.25,218.37 362.22,232.69 363.19,246.88 364.16,258.42 365.13,268.17 366.11,276.76 367.08,284.5 368.05,291.69 369.02,297.96 370,302.99 370.97,307.39 371.94,311.23 372.92,314.38 373.89,316.76 374.86,318.82 375.83,320.66 376.81,322.26 377.78,323.6 378.75,324.66 379.72,325.44 380.69,326.1 381.67,326.69 382.64,327.21 383.61,327.67 384.58,328.07 385.56,328.41 386.53,328.71 387.5,328.96 388.48,329.2 389.45,329.42 390.42,329.63 391.39,329.83 392.37,330.01 393.34,330.18 394.31,330.34 395.28,330.48 396.25,330.61 397.23,330.73 398.2,330.83 399.17,330.92 400.15,331 401.12,331.06 402.09,331.13 403.06,331.19 404.03,331.26 405.01,331.32 405.98,331.37 406.95,331.43 407.92,331.48 408.9,331.53 409.87,331.57 410.84,331.61 411.81,331.65 412.79,331.68 413.76,331.7 414.73,331.72 415.7,331.74 416.68,331.75 417.65,331.75 418.62,331.75 419.59,331.74 420.57,331.72 421.54,331.7 422.51,331.68 423.49,331.65 424.46,331.61 425.43,331.53 426.4,331.4 427.38,331.34 428.35,331.43 429.32,331.62 430.29,331.75 431.26,331.81 432.24,331.86 433.21,331.91 434.18,331.96 435.16,332 436.13,332.03 437.1,332.07 438.07,332.1 439.05,332.13 440.02,332.15 440.99,332.18 441.96,332.2 442.94,332.22 443.91,332.24 444.88,332.26 445.85,332.28 446.83,332.3 447.8,332.32 448.77,332.34 449.74,332.36 450.72,332.38 451.69,332.4 452.66,332.42 453.63,332.44 454.6,332.46 455.58,332.47 456.55,332.49 457.52,332.51 458.5,332.53 459.47,332.54 460.44,332.56 461.41,332.57 462.38,332.59 463.36,332.6 464.33,332.62 465.3,332.63 466.27,332.64 467.25,332.65 468.22,332.66 469.19,332.67 470.17,332.68 471.14,332.69 472.11,332.7 473.08,332.7 474.06,332.71 475.03,332.71 476,332.71" stroke="#22228a" stroke-width="1.85" fill="none" stroke-linejoin="round"/>
<path d="M87,298.32 87.97,297.64 88.94,296.93 89.92,296.19 90.89,295.42 91.86,294.63 92.83,293.8 93.81,292.96 94.78,292.09 95.75,291.19 96.72,290.28 97.7,289.32 98.67,288.3 99.64,287.23 100.62,286.13 101.59,285 102.56,283.86 103.53,282.71 104.5,281.58 105.48,280.48 106.45,279.41 107.42,278.33 108.39,277.22 109.37,276.09 110.34,274.95 111.31,273.84 112.28,272.77 113.26,271.76 114.23,270.82 115.2,269.98 116.17,269.26 117.15,268.59 118.12,267.91 119.09,267.25 120.06,266.6 121.04,266.01 122.01,265.48 122.98,265.04 123.95,264.7 124.93,264.48 125.9,264.4 126.87,264.41 127.84,264.41 128.82,264.42 129.79,264.43 130.76,264.44 131.74,264.46 132.71,264.48 133.68,264.5 134.65,264.52 135.62,264.55 136.6,264.64 137.57,264.84 138.54,265.14 139.51,265.52 140.49,265.96 141.46,266.45 142.43,266.96 143.41,267.5 144.38,268.02 145.35,268.53 146.32,269.05 147.3,269.61 148.27,270.21 149.24,270.84 150.21,271.5 151.19,272.18 152.16,272.88 153.13,273.6 154.1,274.33 155.07,275.06 156.05,275.8 157.02,276.56 157.99,277.34 158.97,278.14 159.94,278.96 160.91,279.8 161.88,280.67 162.86,281.55 163.83,282.46 164.8,283.39 165.77,284.36 166.75,285.36 167.72,286.39 168.69,287.45 169.66,288.54 170.63,289.66 171.61,290.79 172.58,291.94 173.55,293.1 174.53,294.26 175.5,295.46 176.47,296.69 177.44,297.96 178.41,299.25 179.39,300.55 180.36,301.86 181.33,303.16 182.31,304.45 183.28,305.72 184.25,306.95 185.22,308.17 186.19,309.42 187.17,310.67 188.14,311.92 189.11,313.14 190.09,314.34 191.06,315.49 192.03,316.58 193,317.6 193.98,318.54 194.95,319.44 195.92,320.34 196.89,321.23 197.87,322.08 198.84,322.9 199.81,323.65 200.78,324.33 201.75,324.93 202.73,325.42 203.7,325.79 204.67,326.09 205.64,326.39 206.62,326.67 207.59,326.92 208.56,327.15 209.53,327.35 210.51,327.52 211.48,327.64 212.45,327.72 213.43,327.75 214.4,327.74 215.37,327.71 216.34,327.67 217.31,327.62 218.29,327.57 219.26,327.51 220.23,327.46 221.2,327.42 222.18,327.39 223.15,327.38 224.12,327.39 225.09,327.39 226.07,327.39 227.04,327.4 228.01,327.4 228.98,327.41 229.96,327.41 230.93,327.42 231.9,327.42 232.88,327.42 233.85,327.4 234.82,327.34 235.79,327.24 236.77,327.11 237.74,326.96 238.71,326.79 239.68,326.6 240.66,326.41 241.63,326.21 242.6,326.01 243.57,325.79 244.55,325.53 245.52,325.24 246.49,324.93 247.46,324.59 248.44,324.23 249.41,323.86 250.38,323.48 251.35,323.09 252.32,322.71 253.3,322.32 254.27,321.9 255.24,321.47 256.22,321.03 257.19,320.57 258.16,320.1 259.13,319.63 260.11,319.15 261.08,318.66 262.05,318.18 263.02,317.69 264,317.19 264.97,316.67 265.94,316.15 266.91,315.63 267.88,315.1 268.86,314.58 269.83,314.07 270.8,313.58 271.77,313.11 272.75,312.65 273.72,312.18 274.69,311.68 275.66,311.15 276.64,310.57 277.61,309.93 278.58,309.22 279.56,308.46 280.53,307.64 281.5,306.78 282.47,305.89 283.44,304.97 284.42,304.02 285.39,303.01 286.36,301.92 287.34,300.75 288.31,299.48 289.28,298.08 290.25,296.44 291.23,294.48 292.2,292.3 293.17,289.99 294.14,287.64 295.12,285.34 296.09,282.95 297.06,280.35 298.03,277.71 299,275.17 299.98,272.9 300.95,271.05 301.92,269.44 302.89,267.84 303.87,266.38 304.84,265.16 305.81,264.3 306.78,263.91 307.76,263.8 308.73,263.73 309.7,263.67 310.67,263.64 311.65,263.62 312.62,263.61 313.59,263.6 314.56,263.57 315.54,263.44 316.51,263.15 317.48,262.75 318.45,262.29 319.43,261.69 320.4,260.88 321.37,259.93 322.35,258.84 323.32,257.55 324.29,256.09 325.26,254.45 326.24,252.65 327.21,250.61 328.18,248.26 329.15,245.64 330.12,242.76 331.1,239.65 332.07,236.34 333.04,232.56 334.01,228.19 334.99,223.49 335.96,218.71 336.93,214.1 337.9,209.95 338.88,205.92 339.85,201.33 340.82,195.24 341.8,186.69 342.77,177.42 343.74,169.39 344.71,161.82 345.69,154.56 346.66,148.21 347.63,143.33 348.6,139.34 349.58,135.63 350.55,132.77 351.52,131.29 352.49,131.76 353.47,134.21 354.44,137.93 355.41,146.98 356.38,161.13 357.35,173.58 358.33,183.82 359.3,194.19 360.27,206.38 361.25,220.56 362.22,234.6 363.19,248.52 364.16,259.84 365.13,269.41 366.11,277.83 367.08,285.43 368.05,292.48 369.02,298.64 370,303.57 370.97,307.88 371.94,311.65 372.92,314.74 373.89,317.08 374.86,319.1 375.83,320.9 376.81,322.47 377.78,323.79 378.75,324.83 379.72,325.59 380.69,326.24 381.67,326.82 382.64,327.33 383.61,327.78 384.58,328.17 385.56,328.51 386.53,328.8 387.5,329.05 388.48,329.28 389.45,329.5 390.42,329.7 391.39,329.9 392.37,330.08 393.34,330.24 394.31,330.4 395.28,330.54 396.25,330.66 397.23,330.78 398.2,330.88 399.17,330.97 400.15,331.04 401.12,331.11 402.09,331.17 403.06,331.24 404.03,331.3 405.01,331.36 405.98,331.41 406.95,331.47 407.92,331.52 408.9,331.56 409.87,331.61 410.84,331.64 411.81,331.68 412.79,331.71 413.76,331.74 414.73,331.76 415.7,331.77 416.68,331.78 417.65,331.78 418.62,331.78 419.59,331.77 420.57,331.75 421.54,331.73 422.51,331.71 423.49,331.68 424.46,331.65 425.43,331.56 426.4,331.44 427.38,331.38 428.35,331.47 429.32,331.65 430.29,331.78 431.26,331.84 432.24,331.89 433.21,331.94 434.18,331.98 435.16,332.02 436.13,332.06 437.1,332.09 438.07,332.12 439.05,332.15 440.02,332.18 440.99,332.2 441.96,332.22 442.94,332.24 443.91,332.26 444.88,332.28 445.85,332.3 446.83,332.32 447.8,332.34 448.77,332.36 449.74,332.38 450.72,332.4 451.69,332.42 452.66,332.44 453.63,332.46 454.6,332.47 455.58,332.49 456.55,332.51 457.52,332.53 458.5,332.54 459.47,332.56 460.44,332.58 461.41,332.59 462.38,332.61 463.36,332.62 464.33,332.63 465.3,332.64 466.27,332.66 467.25,332.67 468.22,332.68 469.19,332.69 470.17,332.7 471.14,332.7 472.11,332.71 473.08,332.72 474.06,332.72 475.03,332.72 476,332.73" stroke="#9a2bff" stroke-width="1.85" fill="none" stroke-linejoin="round"/>
<path d="M87,296.73 87.97,296.2 88.94,295.68 89.92,295.17 90.89,294.67 91.86,294.18 92.83,293.71 93.81,293.25 94.78,292.8 95.75,292.36 96.72,291.94 97.7,291.53 98.67,291.12 99.64,290.71 100.62,290.31 101.59,289.93 102.56,289.56 103.53,289.21 104.5,288.88 105.48,288.59 106.45,288.32 107.42,288.07 108.39,287.81 109.37,287.55 110.34,287.3 111.31,287.07 112.28,286.86 113.26,286.69 114.23,286.55 115.2,286.47 116.17,286.44 117.15,286.47 118.12,286.56 119.09,286.7 120.06,286.88 121.04,287.11 122.01,287.36 122.98,287.65 123.95,287.96 124.93,288.28 125.9,288.61 126.87,289.03 127.84,289.6 128.82,290.29 129.79,291.07 130.76,291.91 131.74,292.77 132.71,293.63 133.68,294.45 134.65,295.2 135.62,295.86 136.6,296.44 137.57,297 138.54,297.54 139.51,298.06 140.49,298.57 141.46,299.06 142.43,299.54 143.41,300.01 144.38,300.47 145.35,300.93 146.32,301.38 147.3,301.82 148.27,302.25 149.24,302.66 150.21,303.07 151.19,303.48 152.16,303.89 153.13,304.3 154.1,304.71 155.07,305.13 156.05,305.56 157.02,305.99 157.99,306.42 158.97,306.85 159.94,307.28 160.91,307.71 161.88,308.15 162.86,308.59 163.83,309.03 164.8,309.48 165.77,309.93 166.75,310.37 167.72,310.82 168.69,311.26 169.66,311.71 170.63,312.17 171.61,312.65 172.58,313.14 173.55,313.65 174.53,314.19 175.5,314.78 176.47,315.44 177.44,316.13 178.41,316.86 179.39,317.6 180.36,318.33 181.33,319.05 182.31,319.73 183.28,320.37 184.25,320.93 185.22,321.46 186.19,321.98 187.17,322.48 188.14,322.97 189.11,323.43 190.09,323.87 191.06,324.28 192.03,324.65 193,324.99 193.98,325.28 194.95,325.55 195.92,325.8 196.89,326.04 197.87,326.26 198.84,326.47 199.81,326.66 200.78,326.83 201.75,326.99 202.73,327.12 203.7,327.24 204.67,327.35 205.64,327.45 206.62,327.55 207.59,327.65 208.56,327.73 209.53,327.81 210.51,327.87 211.48,327.92 212.45,327.95 213.43,327.96 214.4,327.96 215.37,327.94 216.34,327.92 217.31,327.89 218.29,327.86 219.26,327.83 220.23,327.8 221.2,327.78 222.18,327.76 223.15,327.75 224.12,327.74 225.09,327.74 226.07,327.74 227.04,327.74 228.01,327.74 228.98,327.73 229.96,327.73 230.93,327.73 231.9,327.73 232.88,327.72 233.85,327.7 234.82,327.63 235.79,327.53 236.77,327.39 237.74,327.24 238.71,327.06 239.68,326.87 240.66,326.66 241.63,326.46 242.6,326.25 243.57,326.02 244.55,325.76 245.52,325.47 246.49,325.14 247.46,324.8 248.44,324.44 249.41,324.06 250.38,323.67 251.35,323.28 252.32,322.89 253.3,322.49 254.27,322.08 255.24,321.64 256.22,321.19 257.19,320.73 258.16,320.26 259.13,319.78 260.11,319.29 261.08,318.8 262.05,318.3 263.02,317.8 264,317.27 264.97,316.74 265.94,316.2 266.91,315.65 267.88,315.1 268.86,314.57 269.83,314.04 270.8,313.54 271.77,313.06 272.75,312.58 273.72,312.11 274.69,311.61 275.66,311.07 276.64,310.48 277.61,309.83 278.58,309.11 279.56,308.33 280.53,307.5 281.5,306.63 282.47,305.74 283.44,304.82 284.42,303.86 285.39,302.84 286.36,301.75 287.34,300.57 288.31,299.29 289.28,297.89 290.25,296.24 291.23,294.27 292.2,292.08 293.17,289.76 294.14,287.4 295.12,285.08 296.09,282.67 297.06,280.06 298.03,277.41 299,274.86 299.98,272.58 300.95,270.72 301.92,269.09 302.89,267.49 303.87,266.02 304.84,264.8 305.81,263.93 306.78,263.54 307.76,263.43 308.73,263.35 309.7,263.3 310.67,263.26 311.65,263.24 312.62,263.23 313.59,263.22 314.56,263.2 315.54,263.06 316.51,262.77 317.48,262.37 318.45,261.91 319.43,261.31 320.4,260.49 321.37,259.54 322.35,258.44 323.32,257.15 324.29,255.67 325.26,254.03 326.24,252.22 327.21,250.17 328.18,247.81 329.15,245.17 330.12,242.27 331.1,239.15 332.07,235.82 333.04,232.02 334.01,227.63 334.99,222.9 335.96,218.09 336.93,213.46 337.9,209.29 338.88,205.24 339.85,200.62 340.82,194.5 341.8,185.9 342.77,176.58 343.74,168.51 344.71,160.89 345.69,153.6 346.66,147.21 347.63,142.31 348.6,138.29 349.58,134.57 350.55,131.69 351.52,130.2 352.49,130.68 353.47,133.14 354.44,136.88 355.41,145.97 356.38,160.2 357.35,172.72 358.33,183.02 359.3,193.45 360.27,205.7 361.25,219.95 362.22,234.07 363.19,248.06 364.16,259.44 365.13,269.06 366.11,277.53 367.08,285.18 368.05,292.26 369.02,298.45 370,303.41 370.97,307.75 371.94,311.53 372.92,314.64 373.89,316.99 374.86,319.02 375.83,320.83 376.81,322.41 377.78,323.73 378.75,324.78 379.72,325.55 380.69,326.2 381.67,326.79 382.64,327.3 383.61,327.75 384.58,328.14 385.56,328.48 386.53,328.77 387.5,329.02 388.48,329.26 389.45,329.48 390.42,329.68 391.39,329.88 392.37,330.06 393.34,330.23 394.31,330.38 395.28,330.52 396.25,330.65 397.23,330.76 398.2,330.87 399.17,330.95 400.15,331.03 401.12,331.1 402.09,331.16 403.06,331.22 404.03,331.29 405.01,331.34 405.98,331.4 406.95,331.46 407.92,331.51 408.9,331.55 409.87,331.6 410.84,331.64 411.81,331.67 412.79,331.7 413.76,331.73 414.73,331.75 415.7,331.76 416.68,331.77 417.65,331.77 418.62,331.77 419.59,331.76 420.57,331.75 421.54,331.73 422.51,331.7 423.49,331.67 424.46,331.64 425.43,331.55 426.4,331.43 427.38,331.37 428.35,331.46 429.32,331.64 430.29,331.77 431.26,331.83 432.24,331.88 433.21,331.93 434.18,331.98 435.16,332.02 436.13,332.05 437.1,332.09 438.07,332.12 439.05,332.14 440.02,332.17 440.99,332.19 441.96,332.22 442.94,332.24 443.91,332.26 444.88,332.28 445.85,332.3 446.83,332.32 447.8,332.34 448.77,332.36 449.74,332.37 450.72,332.39 451.69,332.41 452.66,332.43 453.63,332.45 454.6,332.47 455.58,332.49 456.55,332.5 457.52,332.52 458.5,332.54 459.47,332.56 460.44,332.57 461.41,332.59 462.38,332.6 463.36,332.61 464.33,332.63 465.3,332.64 466.27,332.65 467.25,332.66 468.22,332.67 469.19,332.68 470.17,332.69 471.14,332.7 472.11,332.71 473.08,332.71 474.06,332.72 475.03,332.72 476,332.72" stroke="#b02db0" stroke-width="1.85" fill="none" stroke-linejoin="round"/>
<path d="M87,300.06 87.97,299.65 88.94,299.25 89.92,298.85 90.89,298.47 91.86,298.1 92.83,297.74 93.81,297.4 94.78,297.06 95.75,296.74 96.72,296.44 97.7,296.13 98.67,295.82 99.64,295.51 100.62,295.21 101.59,294.91 102.56,294.64 103.53,294.4 104.5,294.19 105.48,294.02 106.45,293.9 107.42,293.81 108.39,293.72 109.37,293.64 110.34,293.56 111.31,293.49 112.28,293.43 113.26,293.39 114.23,293.35 115.2,293.33 116.17,293.32 117.15,293.39 118.12,293.58 119.09,293.87 120.06,294.25 121.04,294.69 122.01,295.17 122.98,295.68 123.95,296.2 124.93,296.7 125.9,297.16 126.87,297.62 127.84,298.12 128.82,298.64 129.79,299.17 130.76,299.72 131.74,300.27 132.71,300.82 133.68,301.36 134.65,301.88 135.62,302.38 136.6,302.86 137.57,303.34 138.54,303.82 139.51,304.29 140.49,304.75 141.46,305.2 142.43,305.65 143.41,306.07 144.38,306.48 145.35,306.87 146.32,307.24 147.3,307.59 148.27,307.93 149.24,308.25 150.21,308.57 151.19,308.88 152.16,309.2 153.13,309.52 154.1,309.85 155.07,310.21 156.05,310.58 157.02,310.96 157.99,311.35 158.97,311.75 159.94,312.16 160.91,312.57 161.88,312.98 162.86,313.39 163.83,313.79 164.8,314.19 165.77,314.59 166.75,314.97 167.72,315.35 168.69,315.72 169.66,316.1 170.63,316.49 171.61,316.88 172.58,317.29 173.55,317.73 174.53,318.18 175.5,318.68 176.47,319.25 177.44,319.86 178.41,320.49 179.39,321.14 180.36,321.77 181.33,322.37 182.31,322.93 183.28,323.42 184.25,323.83 185.22,324.19 186.19,324.53 187.17,324.85 188.14,325.15 189.11,325.44 190.09,325.7 191.06,325.94 192.03,326.15 193,326.35 193.98,326.51 194.95,326.66 195.92,326.8 196.89,326.92 197.87,327.04 198.84,327.14 199.81,327.24 200.78,327.34 201.75,327.43 202.73,327.52 203.7,327.6 204.67,327.69 205.64,327.79 206.62,327.89 207.59,327.98 208.56,328.07 209.53,328.16 210.51,328.22 211.48,328.28 212.45,328.31 213.43,328.33 214.4,328.32 215.37,328.31 216.34,328.29 217.31,328.26 218.29,328.23 219.26,328.2 220.23,328.17 221.2,328.15 222.18,328.13 223.15,328.11 224.12,328.1 225.09,328.09 226.07,328.08 227.04,328.08 228.01,328.07 228.98,328.07 229.96,328.06 230.93,328.05 231.9,328.04 232.88,328.02 233.85,327.99 234.82,327.91 235.79,327.8 236.77,327.67 237.74,327.5 238.71,327.32 239.68,327.12 240.66,326.92 241.63,326.7 242.6,326.49 243.57,326.26 244.55,325.99 245.52,325.69 246.49,325.36 247.46,325.01 248.44,324.64 249.41,324.26 250.38,323.86 251.35,323.47 252.32,323.07 253.3,322.67 254.27,322.25 255.24,321.81 256.22,321.36 257.19,320.89 258.16,320.42 259.13,319.93 260.11,319.43 261.08,318.93 262.05,318.42 263.02,317.89 264,317.34 264.97,316.77 265.94,316.19 266.91,315.6 267.88,315.02 268.86,314.45 269.83,313.9 270.8,313.38 271.77,312.89 272.75,312.4 273.72,311.92 274.69,311.41 275.66,310.86 276.64,310.26 277.61,309.6 278.58,308.87 279.56,308.07 280.53,307.23 281.5,306.35 282.47,305.44 283.44,304.5 284.42,303.53 285.39,302.51 286.36,301.41 287.34,300.22 288.31,298.93 289.28,297.51 290.25,295.84 291.23,293.85 292.2,291.64 293.17,289.29 294.14,286.9 295.12,284.57 296.09,282.13 297.06,279.49 298.03,276.81 299,274.23 299.98,271.93 300.95,270.05 301.92,268.41 302.89,266.79 303.87,265.3 304.84,264.06 305.81,263.19 306.78,262.79 307.76,262.68 308.73,262.6 309.7,262.55 310.67,262.51 311.65,262.49 312.62,262.48 313.59,262.47 314.56,262.45 315.54,262.31 316.51,262.01 317.48,261.61 318.45,261.14 319.43,260.54 320.4,259.71 321.37,258.75 322.35,257.64 323.32,256.33 324.29,254.84 325.26,253.18 326.24,251.35 327.21,249.28 328.18,246.89 329.15,244.22 330.12,241.3 331.1,238.14 332.07,234.78 333.04,230.94 334.01,226.5 334.99,221.72 335.96,216.86 336.93,212.17 337.9,207.96 338.88,203.87 339.85,199.2 340.82,193.01 341.8,184.32 342.77,174.91 343.74,166.74 344.71,159.05 345.69,151.68 346.66,145.22 347.63,140.26 348.6,136.21 349.58,132.44 350.55,129.53 351.52,128.03 352.49,128.51 353.47,131 354.44,134.78 355.41,143.97 356.38,158.35 357.35,171 358.33,181.41 359.3,191.95 360.27,204.33 361.25,218.74 362.22,233.01 363.19,247.15 364.16,258.65 365.13,268.38 366.11,276.94 367.08,284.66 368.05,291.82 369.02,298.07 370,303.09 370.97,307.47 371.94,311.3 372.92,314.44 373.89,316.81 374.86,318.87 375.83,320.7 376.81,322.29 377.78,323.63 378.75,324.69 379.72,325.47 380.69,326.13 381.67,326.71 382.64,327.23 383.61,327.69 384.58,328.09 385.56,328.43 386.53,328.72 387.5,328.98 388.48,329.21 389.45,329.43 390.42,329.64 391.39,329.84 392.37,330.02 393.34,330.19 394.31,330.35 395.28,330.49 396.25,330.62 397.23,330.74 398.2,330.84 399.17,330.93 400.15,331 401.12,331.07 402.09,331.14 403.06,331.2 404.03,331.26 405.01,331.32 405.98,331.38 406.95,331.43 407.92,331.49 408.9,331.53 409.87,331.58 410.84,331.62 411.81,331.65 412.79,331.68 413.76,331.71 414.73,331.73 415.7,331.74 416.68,331.75 417.65,331.76 418.62,331.75 419.59,331.74 420.57,331.73 421.54,331.71 422.51,331.68 423.49,331.65 424.46,331.62 425.43,331.53 426.4,331.41 427.38,331.35 428.35,331.44 429.32,331.62 430.29,331.76 431.26,331.81 432.24,331.87 433.21,331.92 434.18,331.96 435.16,332 436.13,332.04 437.1,332.07 438.07,332.1 439.05,332.13 440.02,332.16 440.99,332.18 441.96,332.2 442.94,332.22 443.91,332.24 444.88,332.26 445.85,332.28 446.83,332.3 447.8,332.32 448.77,332.34 449.74,332.36 450.72,332.38 451.69,332.4 452.66,332.42 453.63,332.44 454.6,332.46 455.58,332.48 456.55,332.5 457.52,332.51 458.5,332.53 459.47,332.55 460.44,332.56 461.41,332.58 462.38,332.59 463.36,332.61 464.33,332.62 465.3,332.63 466.27,332.64 467.25,332.66 468.22,332.67 469.19,332.68 470.17,332.68 471.14,332.69 472.11,332.7 473.08,332.7 474.06,332.71 475.03,332.71 476,332.72" stroke="#a31c1c" stroke-width="1.85" fill="none" stroke-linejoin="round"/>
<path d="M87,302.96 87.97,302.6 88.94,302.25 89.92,301.92 90.89,301.59 91.86,301.28 92.83,300.98 93.81,300.69 94.78,300.42 95.75,300.16 96.72,299.92 97.7,299.68 98.67,299.45 99.64,299.21 100.62,298.99 101.59,298.77 102.56,298.57 103.53,298.4 104.5,298.24 105.48,298.12 106.45,298.03 107.42,297.96 108.39,297.9 109.37,297.83 110.34,297.78 111.31,297.73 112.28,297.68 113.26,297.65 114.23,297.62 115.2,297.6 116.17,297.6 117.15,297.66 118.12,297.85 119.09,298.15 120.06,298.53 121.04,298.97 122.01,299.46 122.98,299.98 123.95,300.51 124.93,301.02 125.9,301.51 126.87,302.01 127.84,302.56 128.82,303.15 129.79,303.77 130.76,304.4 131.74,305.04 132.71,305.66 133.68,306.25 134.65,306.81 135.62,307.31 136.6,307.77 137.57,308.22 138.54,308.65 139.51,309.07 140.49,309.47 141.46,309.86 142.43,310.24 143.41,310.6 144.38,310.95 145.35,311.3 146.32,311.62 147.3,311.92 148.27,312.21 149.24,312.49 150.21,312.76 151.19,313.03 152.16,313.31 153.13,313.59 154.1,313.88 155.07,314.19 156.05,314.53 157.02,314.88 157.99,315.25 158.97,315.62 159.94,316.01 160.91,316.39 161.88,316.76 162.86,317.13 163.83,317.48 164.8,317.82 165.77,318.13 166.75,318.42 167.72,318.69 168.69,318.96 169.66,319.22 170.63,319.49 171.61,319.77 172.58,320.06 173.55,320.37 174.53,320.72 175.5,321.11 176.47,321.57 177.44,322.07 178.41,322.61 179.39,323.15 180.36,323.69 181.33,324.2 182.31,324.67 183.28,325.09 184.25,325.43 185.22,325.72 186.19,325.99 187.17,326.24 188.14,326.48 189.11,326.71 190.09,326.91 191.06,327.11 192.03,327.29 193,327.45 193.98,327.6 194.95,327.74 195.92,327.88 196.89,328.01 197.87,328.13 198.84,328.24 199.81,328.35 200.78,328.44 201.75,328.53 202.73,328.62 203.7,328.69 204.67,328.76 205.64,328.83 206.62,328.9 207.59,328.97 208.56,329.03 209.53,329.08 210.51,329.13 211.48,329.17 212.45,329.19 213.43,329.2 214.4,329.17 215.37,329.11 216.34,329.02 217.31,328.91 218.29,328.79 219.26,328.66 220.23,328.55 221.2,328.44 222.18,328.37 223.15,328.33 224.12,328.31 225.09,328.29 226.07,328.28 227.04,328.28 228.01,328.27 228.98,328.26 229.96,328.25 230.93,328.24 231.9,328.23 232.88,328.21 233.85,328.16 234.82,328.08 235.79,327.97 236.77,327.83 237.74,327.66 238.71,327.48 239.68,327.28 240.66,327.07 241.63,326.85 242.6,326.64 243.57,326.4 244.55,326.13 245.52,325.82 246.49,325.49 247.46,325.14 248.44,324.76 249.41,324.38 250.38,323.98 251.35,323.58 252.32,323.18 253.3,322.77 254.27,322.35 255.24,321.91 256.22,321.45 257.19,320.98 258.16,320.5 259.13,320.01 260.11,319.51 261.08,319 262.05,318.49 263.02,317.97 264,317.43 264.97,316.87 265.94,316.3 266.91,315.73 267.88,315.16 268.86,314.6 269.83,314.05 270.8,313.53 271.77,313.04 272.75,312.55 273.72,312.06 274.69,311.55 275.66,311.01 276.64,310.41 277.61,309.74 278.58,309.01 279.56,308.21 280.53,307.37 281.5,306.49 282.47,305.58 283.44,304.65 284.42,303.69 285.39,302.67 286.36,301.58 287.34,300.4 288.31,299.11 289.28,297.7 290.25,296.04 291.23,294.06 292.2,291.86 293.17,289.53 294.14,287.15 295.12,284.83 296.09,282.4 297.06,279.78 298.03,277.11 299,274.55 299.98,272.25 300.95,270.38 301.92,268.75 302.89,267.14 303.87,265.66 304.84,264.43 305.81,263.56 306.78,263.16 307.76,263.06 308.73,262.98 309.7,262.92 310.67,262.89 311.65,262.87 312.62,262.86 313.59,262.84 314.56,262.82 315.54,262.69 316.51,262.39 317.48,261.99 318.45,261.53 319.43,260.92 320.4,260.1 321.37,259.14 322.35,258.04 323.32,256.74 324.29,255.26 325.26,253.6 326.24,251.78 327.21,249.72 328.18,247.35 329.15,244.69 330.12,241.78 331.1,238.64 332.07,235.3 333.04,231.48 334.01,227.06 334.99,222.31 335.96,217.48 336.93,212.82 337.9,208.62 338.88,204.55 339.85,199.91 340.82,193.76 341.8,185.11 342.77,175.74 343.74,167.62 344.71,159.97 345.69,152.64 346.66,146.22 347.63,141.28 348.6,137.25 349.58,133.51 350.55,130.61 351.52,129.11 352.49,129.6 353.47,132.07 354.44,135.83 355.41,144.97 356.38,159.27 357.35,171.86 358.33,182.21 359.3,192.7 360.27,205.01 361.25,219.34 362.22,233.54 363.19,247.61 364.16,259.05 365.13,268.72 366.11,277.24 367.08,284.92 368.05,292.04 369.02,298.26 370,303.25 370.97,307.61 371.94,311.42 372.92,314.54 373.89,316.9 374.86,318.94 375.83,320.77 376.81,322.35 377.78,323.68 378.75,324.73 379.72,325.51 380.69,326.17 381.67,326.75 382.64,327.27 383.61,327.72 384.58,328.11 385.56,328.46 386.53,328.75 387.5,329 388.48,329.23 389.45,329.45 390.42,329.66 391.39,329.86 392.37,330.04 393.34,330.21 394.31,330.36 395.28,330.51 396.25,330.63 397.23,330.75 398.2,330.85 399.17,330.94 400.15,331.02 401.12,331.08 402.09,331.15 403.06,331.21 404.03,331.27 405.01,331.33 405.98,331.39 406.95,331.44 407.92,331.5 408.9,331.54 409.87,331.59 410.84,331.63 411.81,331.66 412.79,331.69 413.76,331.72 414.73,331.74 415.7,331.75 416.68,331.76 417.65,331.76 418.62,331.76 419.59,331.75 420.57,331.74 421.54,331.72 422.51,331.69 423.49,331.66 424.46,331.63 425.43,331.54 426.4,331.42 427.38,331.36 428.35,331.45 429.32,331.63 430.29,331.76 431.26,331.82 432.24,331.88 433.21,331.92 434.18,331.97 435.16,332.01 436.13,332.05 437.1,332.08 438.07,332.11 439.05,332.14 440.02,332.16 440.99,332.19 441.96,332.21 442.94,332.23 443.91,332.25 444.88,332.27 445.85,332.29 446.83,332.31 447.8,332.33 448.77,332.35 449.74,332.37 450.72,332.39 451.69,332.41 452.66,332.43 453.63,332.45 454.6,332.46 455.58,332.48 456.55,332.5 457.52,332.52 458.5,332.53 459.47,332.55 460.44,332.57 461.41,332.58 462.38,332.6 463.36,332.61 464.33,332.62 465.3,332.64 466.27,332.65 467.25,332.66 468.22,332.67 469.19,332.68 470.17,332.69 471.14,332.7 472.11,332.7 473.08,332.71 474.06,332.71 475.03,332.72 476,332.72" stroke="#9c9c14" stroke-width="1.85" fill="none" stroke-linejoin="round"/>
<path d="M87,308.32 87.97,307.91 88.94,307.51 89.92,307.11 90.89,306.73 91.86,306.34 92.83,305.97 93.81,305.6 94.78,305.25 95.75,304.9 96.72,304.55 97.7,304.21 98.67,303.87 99.64,303.52 100.62,303.17 101.59,302.84 102.56,302.52 103.53,302.22 104.5,301.95 105.48,301.71 106.45,301.51 107.42,301.33 108.39,301.14 109.37,300.96 110.34,300.79 111.31,300.63 112.28,300.49 113.26,300.37 114.23,300.28 115.2,300.23 116.17,300.21 117.15,300.25 118.12,300.39 119.09,300.59 120.06,300.86 121.04,301.18 122.01,301.53 122.98,301.92 123.95,302.31 124.93,302.71 125.9,303.11 126.87,303.54 127.84,304.05 128.82,304.63 129.79,305.25 130.76,305.89 131.74,306.54 132.71,307.17 133.68,307.76 134.65,308.3 135.62,308.76 136.6,309.16 137.57,309.53 138.54,309.88 139.51,310.21 140.49,310.52 141.46,310.83 142.43,311.12 143.41,311.42 144.38,311.72 145.35,312.02 146.32,312.32 147.3,312.62 148.27,312.9 149.24,313.19 150.21,313.47 151.19,313.75 152.16,314.03 153.13,314.32 154.1,314.62 155.07,314.92 156.05,315.23 157.02,315.55 157.99,315.87 158.97,316.2 159.94,316.53 160.91,316.86 161.88,317.19 162.86,317.52 163.83,317.85 164.8,318.18 165.77,318.5 166.75,318.81 167.72,319.11 168.69,319.42 169.66,319.72 170.63,320.03 171.61,320.36 172.58,320.7 173.55,321.06 174.53,321.44 175.5,321.87 176.47,322.35 177.44,322.87 178.41,323.42 179.39,323.98 180.36,324.54 181.33,325.09 182.31,325.61 183.28,326.09 184.25,326.51 185.22,326.91 186.19,327.31 187.17,327.71 188.14,328.09 189.11,328.45 190.09,328.79 191.06,329.09 192.03,329.37 193,329.6 193.98,329.78 194.95,329.93 195.92,330.08 196.89,330.22 197.87,330.36 198.84,330.48 199.81,330.58 200.78,330.67 201.75,330.73 202.73,330.78 203.7,330.79 204.67,330.79 205.64,330.79 206.62,330.79 207.59,330.79 208.56,330.79 209.53,330.79 210.51,330.79 211.48,330.79 212.45,330.79 213.43,330.79 214.4,330.73 215.37,330.56 216.34,330.31 217.31,330 218.29,329.67 219.26,329.33 220.23,329.01 221.2,328.75 222.18,328.56 223.15,328.47 224.12,328.45 225.09,328.43 226.07,328.42 227.04,328.41 228.01,328.4 228.98,328.39 229.96,328.38 230.93,328.37 231.9,328.35 232.88,328.33 233.85,328.28 234.82,328.2 235.79,328.08 236.77,327.94 237.74,327.77 238.71,327.58 239.68,327.38 240.66,327.17 241.63,326.95 242.6,326.73 243.57,326.49 244.55,326.22 245.52,325.91 246.49,325.58 247.46,325.22 248.44,324.84 249.41,324.46 250.38,324.06 251.35,323.66 252.32,323.25 253.3,322.84 254.27,322.42 255.24,321.97 256.22,321.52 257.19,321.05 258.16,320.56 259.13,320.07 260.11,319.57 261.08,319.06 262.05,318.54 263.02,318.01 264,317.45 264.97,316.87 265.94,316.29 266.91,315.7 267.88,315.11 268.86,314.53 269.83,313.97 270.8,313.45 271.77,312.95 272.75,312.46 273.72,311.97 274.69,311.45 275.66,310.9 276.64,310.29 277.61,309.62 278.58,308.88 279.56,308.08 280.53,307.24 281.5,306.35 282.47,305.43 283.44,304.5 284.42,303.53 285.39,302.5 286.36,301.41 287.34,300.22 288.31,298.93 289.28,297.51 290.25,295.84 291.23,293.85 292.2,291.64 293.17,289.29 294.14,286.9 295.12,284.57 296.09,282.13 297.06,279.49 298.03,276.81 299,274.23 299.98,271.93 300.95,270.05 301.92,268.41 302.89,266.79 303.87,265.3 304.84,264.06 305.81,263.19 306.78,262.79 307.76,262.68 308.73,262.6 309.7,262.55 310.67,262.51 311.65,262.49 312.62,262.48 313.59,262.47 314.56,262.45 315.54,262.31 316.51,262.01 317.48,261.61 318.45,261.14 319.43,260.54 320.4,259.71 321.37,258.75 322.35,257.64 323.32,256.33 324.29,254.84 325.26,253.18 326.24,251.35 327.21,249.28 328.18,246.89 329.15,244.22 330.12,241.3 331.1,238.14 332.07,234.78 333.04,230.94 334.01,226.5 334.99,221.72 335.96,216.86 336.93,212.17 337.9,207.96 338.88,203.87 339.85,199.2 340.82,193.01 341.8,184.32 342.77,174.91 343.74,166.74 344.71,159.05 345.69,151.68 346.66,145.22 347.63,140.26 348.6,136.21 349.58,132.44 350.55,129.53 351.52,128.03 352.49,128.51 353.47,131 354.44,134.78 355.41,143.97 356.38,158.35 357.35,171 358.33,181.41 359.3,191.95 360.27,204.33 361.25,218.74 362.22,233.01 363.19,247.15 364.16,258.65 365.13,268.38 366.11,276.94 367.08,284.66 368.05,291.82 369.02,298.07 370,303.09 370.97,307.47 371.94,311.3 372.92,314.44 373.89,316.81 374.86,318.87 375.83,320.7 376.81,322.29 377.78,323.63 378.75,324.69 379.72,325.47 380.69,326.13 381.67,326.71 382.64,327.23 383.61,327.69 384.58,328.09 385.56,328.43 386.53,328.72 387.5,328.98 388.48,329.21 389.45,329.43 390.42,329.64 391.39,329.84 392.37,330.02 393.34,330.19 394.31,330.35 395.28,330.49 396.25,330.62 397.23,330.74 398.2,330.84 399.17,330.93 400.15,331 401.12,331.07 402.09,331.14 403.06,331.2 404.03,331.26 405.01,331.32 405.98,331.38 406.95,331.43 407.92,331.49 408.9,331.53 409.87,331.58 410.84,331.62 411.81,331.65 412.79,331.68 413.76,331.71 414.73,331.73 415.7,331.74 416.68,331.75 417.65,331.76 418.62,331.75 419.59,331.74 420.57,331.73 421.54,331.71 422.51,331.68 423.49,331.65 424.46,331.62 425.43,331.53 426.4,331.41 427.38,331.35 428.35,331.44 429.32,331.62 430.29,331.76 431.26,331.81 432.24,331.87 433.21,331.92 434.18,331.96 435.16,332 436.13,332.04 437.1,332.07 438.07,332.1 439.05,332.13 440.02,332.16 440.99,332.18 441.96,332.2 442.94,332.22 443.91,332.24 444.88,332.26 445.85,332.28 446.83,332.3 447.8,332.32 448.77,332.34 449.74,332.36 450.72,332.38 451.69,332.4 452.66,332.42 453.63,332.44 454.6,332.46 455.58,332.48 456.55,332.5 457.52,332.51 458.5,332.53 459.47,332.55 460.44,332.56 461.41,332.58 462.38,332.59 463.36,332.61 464.33,332.62 465.3,332.63 466.27,332.64 467.25,332.66 468.22,332.67 469.19,332.68 470.17,332.68 471.14,332.69 472.11,332.7 473.08,332.7 474.06,332.71 475.03,332.71 476,332.72" stroke="#1f6fbf" stroke-width="1.85" fill="none" stroke-linejoin="round"/>
<path d="M87,312.89 87.97,312.52 88.94,312.14 89.92,311.76 90.89,311.38 91.86,311 92.83,310.61 93.81,310.22 94.78,309.83 95.75,309.44 96.72,309.05 97.7,308.64 98.67,308.21 99.64,307.77 100.62,307.33 101.59,306.89 102.56,306.46 103.53,306.04 104.5,305.66 105.48,305.3 106.45,304.99 107.42,304.69 108.39,304.39 109.37,304.08 110.34,303.78 111.31,303.5 112.28,303.26 113.26,303.05 114.23,302.88 115.2,302.78 116.17,302.74 117.15,302.79 118.12,302.91 119.09,303.09 120.06,303.34 121.04,303.62 122.01,303.94 122.98,304.29 123.95,304.65 124.93,305 125.9,305.35 126.87,305.73 127.84,306.19 128.82,306.69 129.79,307.23 130.76,307.79 131.74,308.34 132.71,308.88 133.68,309.39 134.65,309.83 135.62,310.21 136.6,310.52 137.57,310.81 138.54,311.08 139.51,311.32 140.49,311.55 141.46,311.78 142.43,312.01 143.41,312.24 144.38,312.48 145.35,312.74 146.32,313.02 147.3,313.29 148.27,313.58 149.24,313.86 150.21,314.15 151.19,314.44 152.16,314.74 153.13,315.04 154.1,315.34 155.07,315.64 156.05,315.96 157.02,316.27 157.99,316.6 158.97,316.93 159.94,317.26 160.91,317.6 161.88,317.93 162.86,318.26 163.83,318.59 164.8,318.9 165.77,319.21 166.75,319.5 167.72,319.78 168.69,320.06 169.66,320.34 170.63,320.62 171.61,320.92 172.58,321.24 173.55,321.58 174.53,321.95 175.5,322.37 176.47,322.85 177.44,323.37 178.41,323.93 179.39,324.51 180.36,325.09 181.33,325.67 182.31,326.23 183.28,326.76 184.25,327.24 185.22,327.71 186.19,328.21 187.17,328.73 188.14,329.23 189.11,329.72 190.09,330.16 191.06,330.55 192.03,330.87 193,331.1 193.98,331.23 194.95,331.29 195.92,331.35 196.89,331.4 197.87,331.45 198.84,331.49 199.81,331.52 200.78,331.55 201.75,331.57 202.73,331.58 203.7,331.59 204.67,331.58 205.64,331.57 206.62,331.55 207.59,331.52 208.56,331.49 209.53,331.44 210.51,331.4 211.48,331.34 212.45,331.29 213.43,331.23 214.4,331.1 215.37,330.88 216.34,330.59 217.31,330.25 218.29,329.88 219.26,329.52 220.23,329.19 221.2,328.91 222.18,328.71 223.15,328.62 224.12,328.59 225.09,328.57 226.07,328.55 227.04,328.54 228.01,328.53 228.98,328.52 229.96,328.51 230.93,328.49 231.9,328.47 232.88,328.45 233.85,328.4 234.82,328.31 235.79,328.19 236.77,328.05 237.74,327.88 238.71,327.69 239.68,327.48 240.66,327.27 241.63,327.05 242.6,326.83 243.57,326.59 244.55,326.31 245.52,326 246.49,325.66 247.46,325.3 248.44,324.93 249.41,324.54 250.38,324.13 251.35,323.73 252.32,323.33 253.3,322.91 254.27,322.48 255.24,322.03 256.22,321.57 257.19,321.09 258.16,320.6 259.13,320.11 260.11,319.61 261.08,319.1 262.05,318.59 263.02,318.07 264,317.53 264.97,316.98 265.94,316.43 266.91,315.87 267.88,315.31 268.86,314.75 269.83,314.21 270.8,313.69 271.77,313.2 272.75,312.71 273.72,312.22 274.69,311.71 275.66,311.16 276.64,310.55 277.61,309.88 278.58,309.15 279.56,308.36 280.53,307.52 281.5,306.63 282.47,305.73 283.44,304.8 284.42,303.84 285.39,302.83 286.36,301.74 287.34,300.57 288.31,299.29 289.28,297.89 290.25,296.24 291.23,294.27 292.2,292.08 293.17,289.76 294.14,287.4 295.12,285.08 296.09,282.67 297.06,280.06 298.03,277.41 299,274.86 299.98,272.58 300.95,270.72 301.92,269.09 302.89,267.49 303.87,266.02 304.84,264.8 305.81,263.93 306.78,263.54 307.76,263.43 308.73,263.35 309.7,263.3 310.67,263.26 311.65,263.24 312.62,263.23 313.59,263.22 314.56,263.2 315.54,263.06 316.51,262.77 317.48,262.37 318.45,261.91 319.43,261.31 320.4,260.49 321.37,259.54 322.35,258.44 323.32,257.15 324.29,255.67 325.26,254.03 326.24,252.22 327.21,250.17 328.18,247.81 329.15,245.17 330.12,242.27 331.1,239.15 332.07,235.82 333.04,232.02 334.01,227.63 334.99,222.9 335.96,218.09 336.93,213.46 337.9,209.29 338.88,205.24 339.85,200.62 340.82,194.5 341.8,185.9 342.77,176.58 343.74,168.51 344.71,160.89 345.69,153.6 346.66,147.21 347.63,142.31 348.6,138.29 349.58,134.57 350.55,131.69 351.52,130.2 352.49,130.68 353.47,133.14 354.44,136.88 355.41,145.97 356.38,160.2 357.35,172.72 358.33,183.02 359.3,193.45 360.27,205.7 361.25,219.95 362.22,234.07 363.19,248.06 364.16,259.44 365.13,269.06 366.11,277.53 367.08,285.18 368.05,292.26 369.02,298.45 370,303.41 370.97,307.75 371.94,311.53 372.92,314.64 373.89,316.99 374.86,319.02 375.83,320.83 376.81,322.41 377.78,323.73 378.75,324.78 379.72,325.55 380.69,326.2 381.67,326.79 382.64,327.3 383.61,327.75 384.58,328.14 385.56,328.48 386.53,328.77 387.5,329.02 388.48,329.26 389.45,329.48 390.42,329.68 391.39,329.88 392.37,330.06 393.34,330.23 394.31,330.38 395.28,330.52 396.25,330.65 397.23,330.76 398.2,330.87 399.17,330.95 400.15,331.03 401.12,331.1 402.09,331.16 403.06,331.22 404.03,331.29 405.01,331.34 405.98,331.4 406.95,331.46 407.92,331.51 408.9,331.55 409.87,331.6 410.84,331.64 411.81,331.67 412.79,331.7 413.76,331.73 414.73,331.75 415.7,331.76 416.68,331.77 417.65,331.77 418.62,331.77 419.59,331.76 420.57,331.75 421.54,331.73 422.51,331.7 423.49,331.67 424.46,331.64 425.43,331.55 426.4,331.43 427.38,331.37 428.35,331.46 429.32,331.64 430.29,331.77 431.26,331.83 432.24,331.88 433.21,331.93 434.18,331.98 435.16,332.02 436.13,332.05 437.1,332.09 438.07,332.12 439.05,332.14 440.02,332.17 440.99,332.19 441.96,332.22 442.94,332.24 443.91,332.26 444.88,332.28 445.85,332.3 446.83,332.32 447.8,332.34 448.77,332.36 449.74,332.37 450.72,332.39 451.69,332.41 452.66,332.43 453.63,332.45 454.6,332.47 455.58,332.49 456.55,332.5 457.52,332.52 458.5,332.54 459.47,332.56 460.44,332.57 461.41,332.59 462.38,332.6 463.36,332.61 464.33,332.63 465.3,332.64 466.27,332.65 467.25,332.66 468.22,332.67 469.19,332.68 470.17,332.69 471.14,332.7 472.11,332.71 473.08,332.71 474.06,332.72 475.03,332.72 476,332.72" stroke="#1fb0b0" stroke-width="1.85" fill="none" stroke-linejoin="round"/>
</g></svg>
<path d="M404.8,66.7H433.8" stroke="#1a1a1a" stroke-width="1.9"/>
<text x="436.4" y="70.8" font-size="12.2" text-anchor="start">3.78</text>
<path d="M404.8,81.9H433.8" stroke="#ff1a1a" stroke-width="1.9"/>
<text x="436.4" y="86" font-size="12.2" text-anchor="start">4.10</text>
<path d="M404.8,97.1H433.8" stroke="#2b2bff" stroke-width="1.9"/>
<text x="436.4" y="101.2" font-size="12.2" text-anchor="start">4.35</text>
<path d="M404.8,112.3H433.8" stroke="#ff1aff" stroke-width="1.9"/>
<text x="436.4" y="116.4" font-size="12.2" text-anchor="start">4.56</text>
<path d="M404.8,127.5H433.8" stroke="#0a8a2a" stroke-width="1.9"/>
<text x="436.4" y="131.6" font-size="12.2" text-anchor="start">4.78</text>
<path d="M404.8,142.7H433.8" stroke="#22228a" stroke-width="1.9"/>
<text x="436.4" y="146.8" font-size="12.2" text-anchor="start">5.02</text>
<path d="M404.8,157.9H433.8" stroke="#9a2bff" stroke-width="1.9"/>
<text x="436.4" y="162" font-size="12.2" text-anchor="start">5.33</text>
<path d="M404.8,173.1H433.8" stroke="#b02db0" stroke-width="1.9"/>
<text x="436.4" y="177.2" font-size="12.2" text-anchor="start">5.72</text>
<path d="M404.8,188.3H433.8" stroke="#a31c1c" stroke-width="1.9"/>
<text x="436.4" y="192.4" font-size="12.2" text-anchor="start">6.37</text>
<path d="M404.8,203.5H433.8" stroke="#9c9c14" stroke-width="1.9"/>
<text x="436.4" y="207.6" font-size="12.2" text-anchor="start">6.59</text>
<path d="M404.8,218.7H433.8" stroke="#1f6fbf" stroke-width="1.9"/>
<text x="436.4" y="222.8" font-size="12.2" text-anchor="start">7.24</text>
<path d="M404.8,233.9H433.8" stroke="#1fb0b0" stroke-width="1.9"/>
<text x="436.4" y="238" font-size="12.2" text-anchor="start">7.54</text>
<path d="M113.9,202.9V319" stroke="#ff1a1a" stroke-width="2.1"/>
<path d="M109.4,318.3L118.6,318.3L114,326Z" fill="#ff1a1a"/>
<rect x="550.2" y="44.1" width="384" height="285.5" fill="none" stroke="#474747" stroke-width="1.7"/>
<path d="M550.2,329.6v5.8 M598.2,329.6v3.3 M646.2,329.6v5.8 M694.2,329.6v3.3 M742.2,329.6v5.8 M790.2,329.6v3.3 M838.2,329.6v5.8 M886.2,329.6v3.3 M934.2,329.6v5.8" stroke="#474747" stroke-width="1.5" fill="none"/>
<text x="550.2" y="350" font-size="13.8" text-anchor="middle">600</text>
<text x="646.2" y="350" font-size="13.8" text-anchor="middle">650</text>
<text x="742.2" y="350" font-size="13.8" text-anchor="middle">700</text>
<text x="838.2" y="350" font-size="13.8" text-anchor="middle">750</text>
<text x="934.2" y="350" font-size="13.8" text-anchor="middle">800</text>
<path d="M550.2,329.6h-5.8 M550.2,301.05h-3.3 M550.2,272.5h-5.8 M550.2,243.95h-3.3 M550.2,215.4h-5.8 M550.2,186.85h-3.3 M550.2,158.3h-5.8 M550.2,129.75h-3.3 M550.2,101.2h-5.8 M550.2,72.65h-3.3 M550.2,44.1h-5.8" stroke="#474747" stroke-width="1.5" fill="none"/>
<text x="540.4" y="333.7" font-size="13.8" text-anchor="end">0</text>
<text x="540.4" y="276.6" font-size="13.8" text-anchor="end">3</text>
<text x="540.4" y="219.5" font-size="13.8" text-anchor="end">6</text>
<text x="540.4" y="162.4" font-size="13.8" text-anchor="end">9</text>
<text x="540.4" y="105.3" font-size="13.8" text-anchor="end">12</text>
<text x="540.4" y="48.2" font-size="13.8" text-anchor="end">15</text>
<text x="742.4" y="369" font-size="16.25" text-anchor="middle">Wavelength (nm)</text>
<text transform="translate(516.0,189.3) rotate(-90)" font-size="16.25" text-anchor="middle">Fluorescence intensity (×10<tspan font-size="10" dy="-6">5</tspan><tspan dy="6">)</tspan></text>
<svg x="550.2" y="44.1" width="384" height="285.5" overflow="hidden"><g transform="translate(-550.2,-44.1)">
<path d="M550.2,329.16 551.16,329.13 552.12,329.11 553.08,329.08 554.04,329.05 555,329.02 555.96,328.98 556.92,328.94 557.88,328.89 558.84,328.83 559.8,328.77 560.76,328.71 561.72,328.65 562.68,328.58 563.64,328.5 564.6,328.43 565.56,328.34 566.52,328.25 567.48,328.14 568.44,328.02 569.4,327.9 570.36,327.76 571.32,327.62 572.28,327.47 573.24,327.3 574.2,327.13 575.16,326.95 576.12,326.75 577.08,326.54 578.04,326.34 579,326.13 579.96,325.91 580.92,325.69 581.88,325.48 582.84,325.28 583.8,325.07 584.76,324.85 585.72,324.61 586.68,324.35 587.64,324.08 588.6,323.78 589.56,323.44 590.52,323.06 591.48,322.67 592.44,322.25 593.4,321.79 594.36,321.33 595.32,320.88 596.28,320.42 597.24,320 598.2,319.66 599.16,319.36 600.12,319.07 601.08,318.82 602.04,318.59 603,318.4 603.96,318.23 604.92,318.07 605.88,317.91 606.84,317.78 607.8,317.68 608.76,317.62 609.72,317.61 610.68,317.63 611.64,317.66 612.6,317.7 613.56,317.77 614.52,317.96 615.48,318.25 616.44,318.57 617.4,318.86 618.36,319.13 619.32,319.42 620.28,319.71 621.24,320.01 622.2,320.31 623.16,320.62 624.12,320.93 625.08,321.22 626.04,321.51 627,321.78 627.96,322.06 628.92,322.35 629.88,322.64 630.84,322.93 631.8,323.19 632.76,323.4 633.72,323.6 634.68,323.77 635.64,323.95 636.6,324.14 637.56,324.33 638.52,324.52 639.48,324.69 640.44,324.82 641.4,324.94 642.36,325.06 643.32,325.16 644.28,325.26 645.24,325.35 646.2,325.44 647.16,325.54 648.12,325.62 649.08,325.71 650.04,325.79 651,325.87 651.96,325.96 652.92,326.04 653.88,326.11 654.84,326.18 655.8,326.25 656.76,326.31 657.72,326.38 658.68,326.44 659.64,326.5 660.6,326.57 661.56,326.63 662.52,326.69 663.48,326.76 664.44,326.82 665.4,326.89 666.36,326.95 667.32,327.01 668.28,327.07 669.24,327.13 670.2,327.19 671.16,327.24 672.12,327.29 673.08,327.34 674.04,327.38 675,327.43 675.96,327.47 676.92,327.52 677.88,327.56 678.84,327.6 679.8,327.64 680.76,327.68 681.72,327.72 682.68,327.75 683.64,327.79 684.6,327.83 685.56,327.86 686.52,327.89 687.48,327.93 688.44,327.96 689.4,327.99 690.36,328.02 691.32,328.05 692.28,328.08 693.24,328.11 694.2,328.14 695.16,328.17 696.12,328.2 697.08,328.23 698.04,328.26 699,328.28 699.96,328.31 700.92,328.34 701.88,328.36 702.84,328.39 703.8,328.41 704.76,328.43 705.72,328.46 706.68,328.48 707.64,328.5 708.6,328.52 709.56,328.55 710.52,328.57 711.48,328.59 712.44,328.61 713.4,328.63 714.36,328.65 715.32,328.67 716.28,328.69 717.24,328.71 718.2,328.73 719.16,328.75 720.12,328.77 721.08,328.78 722.04,328.8 723,328.82 723.96,328.83 724.92,328.85 725.88,328.86 726.84,328.88 727.8,328.89 728.76,328.91 729.72,328.92 730.68,328.93 731.64,328.95 732.6,328.96 733.56,328.97 734.52,328.99 735.48,329 736.44,329.01 737.4,329.03 738.36,329.04 739.32,329.05 740.28,329.07 741.24,329.08 742.2,329.09 743.16,329.11 744.12,329.12 745.08,329.13 746.04,329.15 747,329.16 747.96,329.17 748.92,329.18 749.88,329.2 750.84,329.21 751.8,329.22 752.76,329.23 753.72,329.25 754.68,329.26 755.64,329.27 756.6,329.28 757.56,329.29 758.52,329.31 759.48,329.32 760.44,329.33 761.4,329.34 762.36,329.35 763.32,329.36 764.28,329.38 765.24,329.39 766.2,329.4 767.16,329.41 768.12,329.42 769.08,329.43 770.04,329.44 771,329.44 771.96,329.45 772.92,329.46 773.88,329.46 774.84,329.47 775.8,329.48 776.76,329.48 777.72,329.49 778.68,329.49 779.64,329.5 780.6,329.5 781.56,329.51 782.52,329.51 783.48,329.51 784.44,329.52 785.4,329.52 786.36,329.52 787.32,329.53 788.28,329.53 789.24,329.53 790.2,329.53 791.16,329.54 792.12,329.54 793.08,329.54 794.04,329.54 795,329.55 795.96,329.55 796.92,329.55 797.88,329.55 798.84,329.56 799.8,329.56 800.76,329.56 801.72,329.56 802.68,329.57 803.64,329.57 804.6,329.57 805.56,329.57 806.52,329.57 807.48,329.57 808.44,329.58 809.4,329.58 810.36,329.58 811.32,329.58 812.28,329.58 813.24,329.58 814.2,329.58 815.16,329.58 816.12,329.59 817.08,329.59 818.04,329.59 819,329.59 819.96,329.59 820.92,329.59 821.88,329.59 822.84,329.59 823.8,329.59 824.76,329.59 825.72,329.59 826.68,329.59 827.64,329.59 828.6,329.59 829.56,329.59 830.52,329.59 831.48,329.59 832.44,329.59 833.4,329.59 834.36,329.59 835.32,329.59 836.28,329.59 837.24,329.59 838.2,329.59 839.16,329.59 840.12,329.59 841.08,329.59 842.04,329.59 843,329.59 843.96,329.59 844.92,329.59 845.88,329.59 846.84,329.59 847.8,329.59 848.76,329.59 849.72,329.59 850.68,329.59 851.64,329.59 852.6,329.59 853.56,329.59 854.52,329.59 855.48,329.59 856.44,329.59 857.4,329.59 858.36,329.6 859.32,329.6 860.28,329.6 861.24,329.6 862.2,329.6 863.16,329.6 864.12,329.6 865.08,329.6 866.04,329.6 867,329.6 867.96,329.6 868.92,329.6 869.88,329.6 870.84,329.6 871.8,329.6 872.76,329.6 873.72,329.6 874.68,329.6 875.64,329.6 876.6,329.6 877.56,329.6 878.52,329.6 879.48,329.6 880.44,329.6 881.4,329.6 882.36,329.6 883.32,329.6 884.28,329.6 885.24,329.6 886.2,329.6 887.16,329.6 888.12,329.6 889.08,329.6 890.04,329.6 891,329.6 891.96,329.6 892.92,329.6 893.88,329.6 894.84,329.6 895.8,329.6 896.76,329.6 897.72,329.6 898.68,329.6 899.64,329.6 900.6,329.6 901.56,329.6 902.52,329.6 903.48,329.6 904.44,329.6 905.4,329.6 906.36,329.6 907.32,329.6 908.28,329.6 909.24,329.6 910.2,329.6 911.16,329.6 912.12,329.6 913.08,329.6 914.04,329.6 915,329.6 915.96,329.6 916.92,329.6 917.88,329.6 918.84,329.6 919.8,329.6 920.76,329.6 921.72,329.6 922.68,329.6 923.64,329.6 924.6,329.6 925.56,329.6 926.52,329.6 927.48,329.6 928.44,329.6 929.4,329.6 930.36,329.6 931.32,329.6 932.28,329.6 933.24,329.6 934.2,329.6" stroke="#1a1a1a" stroke-width="1.9" fill="none" stroke-linejoin="round"/>
<path d="M550.2,328.22 551.16,328.15 552.12,328.07 553.08,327.98 554.04,327.88 555,327.77 555.96,327.65 556.92,327.52 557.88,327.36 558.84,327.18 559.8,326.99 560.76,326.8 561.72,326.6 562.68,326.38 563.64,326.15 564.6,325.9 565.56,325.63 566.52,325.33 567.48,324.99 568.44,324.62 569.4,324.22 570.36,323.8 571.32,323.35 572.28,322.86 573.24,322.36 574.2,321.82 575.16,321.23 576.12,320.62 577.08,319.99 578.04,319.35 579,318.7 579.96,318.03 580.92,317.37 581.88,316.73 582.84,316.11 583.8,315.46 584.76,314.75 585.72,314 586.68,313.2 587.64,312.34 588.6,311.37 589.56,310.28 590.52,309.1 591.48,307.86 592.44,306.53 593.4,305.12 594.36,303.73 595.32,302.33 596.28,300.95 597.24,299.76 598.2,298.78 599.16,297.86 600.12,297.02 601.08,296.27 602.04,295.62 603,295.07 603.96,294.57 604.92,294.08 605.88,293.63 606.84,293.25 607.8,292.99 608.76,292.87 609.72,292.88 610.68,292.95 611.64,293.06 612.6,293.2 613.56,293.54 614.52,294.28 615.48,295.24 616.44,296.19 617.4,297.03 618.36,297.89 619.32,298.77 620.28,299.67 621.24,300.58 622.2,301.53 623.16,302.48 624.12,303.4 625.08,304.28 626.04,305.14 627,305.99 627.96,306.85 628.92,307.75 629.88,308.65 630.84,309.5 631.8,310.23 632.76,310.86 633.72,311.43 634.68,311.97 635.64,312.52 636.6,313.1 637.56,313.69 638.52,314.25 639.48,314.72 640.44,315.12 641.4,315.48 642.36,315.81 643.32,316.12 644.28,316.41 645.24,316.7 646.2,316.98 647.16,317.26 648.12,317.52 649.08,317.77 650.04,318.03 651,318.29 651.96,318.55 652.92,318.78 653.88,319 654.84,319.21 655.8,319.41 656.76,319.61 657.72,319.8 658.68,320 659.64,320.19 660.6,320.38 661.56,320.58 662.52,320.78 663.48,320.97 664.44,321.17 665.4,321.37 666.36,321.56 667.32,321.75 668.28,321.93 669.24,322.1 670.2,322.27 671.16,322.43 672.12,322.58 673.08,322.72 674.04,322.87 675,323.01 675.96,323.14 676.92,323.27 677.88,323.4 678.84,323.52 679.8,323.64 680.76,323.76 681.72,323.88 682.68,323.99 683.64,324.1 684.6,324.21 685.56,324.31 686.52,324.41 687.48,324.51 688.44,324.61 689.4,324.71 690.36,324.8 691.32,324.9 692.28,324.99 693.24,325.08 694.2,325.17 695.16,325.26 696.12,325.35 697.08,325.43 698.04,325.52 699,325.6 699.96,325.68 700.92,325.76 701.88,325.84 702.84,325.91 703.8,325.99 704.76,326.06 705.72,326.13 706.68,326.2 707.64,326.27 708.6,326.33 709.56,326.4 710.52,326.46 711.48,326.52 712.44,326.59 713.4,326.65 714.36,326.71 715.32,326.77 716.28,326.83 717.24,326.89 718.2,326.95 719.16,327.01 720.12,327.07 721.08,327.12 722.04,327.17 723,327.22 723.96,327.27 724.92,327.32 725.88,327.36 726.84,327.41 727.8,327.45 728.76,327.49 729.72,327.53 730.68,327.57 731.64,327.61 732.6,327.66 733.56,327.7 734.52,327.74 735.48,327.78 736.44,327.82 737.4,327.86 738.36,327.91 739.32,327.95 740.28,327.99 741.24,328.03 742.2,328.07 743.16,328.11 744.12,328.15 745.08,328.19 746.04,328.22 747,328.26 747.96,328.3 748.92,328.34 749.88,328.38 750.84,328.42 751.8,328.45 752.76,328.49 753.72,328.53 754.68,328.57 755.64,328.6 756.6,328.64 757.56,328.68 758.52,328.72 759.48,328.75 760.44,328.79 761.4,328.83 762.36,328.86 763.32,328.89 764.28,328.92 765.24,328.96 766.2,328.99 767.16,329.02 768.12,329.05 769.08,329.08 770.04,329.11 771,329.13 771.96,329.16 772.92,329.17 773.88,329.19 774.84,329.21 775.8,329.23 776.76,329.24 777.72,329.26 778.68,329.27 779.64,329.29 780.6,329.3 781.56,329.32 782.52,329.33 783.48,329.34 784.44,329.35 785.4,329.36 786.36,329.37 787.32,329.38 788.28,329.39 789.24,329.39 790.2,329.4 791.16,329.41 792.12,329.42 793.08,329.43 794.04,329.43 795,329.44 795.96,329.45 796.92,329.46 797.88,329.46 798.84,329.47 799.8,329.48 800.76,329.48 801.72,329.49 802.68,329.5 803.64,329.5 804.6,329.51 805.56,329.51 806.52,329.52 807.48,329.52 808.44,329.53 809.4,329.53 810.36,329.54 811.32,329.54 812.28,329.55 813.24,329.55 814.2,329.55 815.16,329.55 816.12,329.56 817.08,329.56 818.04,329.56 819,329.56 819.96,329.56 820.92,329.56 821.88,329.56 822.84,329.57 823.8,329.57 824.76,329.57 825.72,329.57 826.68,329.57 827.64,329.57 828.6,329.57 829.56,329.57 830.52,329.57 831.48,329.57 832.44,329.57 833.4,329.57 834.36,329.57 835.32,329.57 836.28,329.57 837.24,329.57 838.2,329.57 839.16,329.58 840.12,329.58 841.08,329.58 842.04,329.58 843,329.58 843.96,329.58 844.92,329.58 845.88,329.58 846.84,329.58 847.8,329.58 848.76,329.58 849.72,329.58 850.68,329.58 851.64,329.58 852.6,329.58 853.56,329.58 854.52,329.58 855.48,329.58 856.44,329.58 857.4,329.58 858.36,329.59 859.32,329.59 860.28,329.59 861.24,329.59 862.2,329.59 863.16,329.59 864.12,329.59 865.08,329.59 866.04,329.59 867,329.59 867.96,329.59 868.92,329.59 869.88,329.59 870.84,329.59 871.8,329.59 872.76,329.59 873.72,329.59 874.68,329.59 875.64,329.59 876.6,329.59 877.56,329.59 878.52,329.59 879.48,329.59 880.44,329.59 881.4,329.59 882.36,329.59 883.32,329.59 884.28,329.59 885.24,329.59 886.2,329.59 887.16,329.59 888.12,329.59 889.08,329.6 890.04,329.6 891,329.6 891.96,329.6 892.92,329.6 893.88,329.6 894.84,329.6 895.8,329.6 896.76,329.6 897.72,329.6 898.68,329.6 899.64,329.6 900.6,329.6 901.56,329.6 902.52,329.6 903.48,329.6 904.44,329.6 905.4,329.6 906.36,329.6 907.32,329.6 908.28,329.6 909.24,329.6 910.2,329.6 911.16,329.6 912.12,329.6 913.08,329.6 914.04,329.6 915,329.6 915.96,329.6 916.92,329.6 917.88,329.6 918.84,329.6 919.8,329.6 920.76,329.6 921.72,329.6 922.68,329.6 923.64,329.6 924.6,329.6 925.56,329.6 926.52,329.6 927.48,329.6 928.44,329.6 929.4,329.6 930.36,329.6 931.32,329.6 932.28,329.6 933.24,329.6 934.2,329.6" stroke="#ff3030" stroke-width="1.9" fill="none" stroke-linejoin="round"/>
<path d="M550.2,327.42 551.16,327.31 552.12,327.18 553.08,327.04 554.04,326.88 555,326.71 555.96,326.51 556.92,326.29 557.88,326.03 558.84,325.75 559.8,325.46 560.76,325.15 561.72,324.83 562.68,324.49 563.64,324.12 564.6,323.73 565.56,323.3 566.52,322.8 567.48,322.26 568.44,321.67 569.4,321.04 570.36,320.37 571.32,319.65 572.28,318.89 573.24,318.09 574.2,317.23 575.16,316.3 576.12,315.34 577.08,314.37 578.04,313.38 579,312.36 579.96,311.33 580.92,310.32 581.88,309.35 582.84,308.38 583.8,307.33 584.76,306.21 585.72,305.03 586.68,303.76 587.64,302.37 588.6,300.79 589.56,299.05 590.52,297.19 591.48,295.24 592.44,293.11 593.4,290.93 594.36,288.8 595.32,286.62 596.28,284.57 597.24,282.91 598.2,281.43 599.16,280.06 600.12,278.82 601.08,277.72 602.04,276.77 603,275.98 603.96,275.21 604.92,274.47 605.88,273.81 606.84,273.29 607.8,272.97 608.76,272.88 609.72,272.94 610.68,273.07 611.64,273.26 612.6,273.52 613.56,274.32 614.52,275.64 615.48,277.15 616.44,278.52 617.4,279.83 618.36,281.18 619.32,282.55 620.28,283.94 621.24,285.37 622.2,286.85 623.16,288.31 624.12,289.7 625.08,291.05 626.04,292.36 627,293.68 627.96,295.02 628.92,296.42 629.88,297.79 630.84,299.04 631.8,300.1 632.76,301.02 633.72,301.88 634.68,302.71 635.64,303.58 636.6,304.49 637.56,305.39 638.52,306.21 639.48,306.88 640.44,307.47 641.4,308.01 642.36,308.5 643.32,308.97 644.28,309.41 645.24,309.85 646.2,310.29 647.16,310.71 648.12,311.1 649.08,311.5 650.04,311.89 651,312.3 651.96,312.68 652.92,313.03 653.88,313.37 654.84,313.69 655.8,313.99 656.76,314.3 657.72,314.59 658.68,314.89 659.64,315.19 660.6,315.49 661.56,315.79 662.52,316.1 663.48,316.4 664.44,316.71 665.4,317.01 666.36,317.3 667.32,317.59 668.28,317.86 669.24,318.13 670.2,318.38 671.16,318.62 672.12,318.85 673.08,319.07 674.04,319.29 675,319.5 675.96,319.71 676.92,319.91 677.88,320.1 678.84,320.29 679.8,320.48 680.76,320.66 681.72,320.84 682.68,321.01 683.64,321.18 684.6,321.34 685.56,321.5 686.52,321.66 687.48,321.81 688.44,321.96 689.4,322.11 690.36,322.25 691.32,322.4 692.28,322.54 693.24,322.68 694.2,322.82 695.16,322.95 696.12,323.09 697.08,323.22 698.04,323.35 699,323.48 699.96,323.6 700.92,323.72 701.88,323.84 702.84,323.95 703.8,324.07 704.76,324.17 705.72,324.28 706.68,324.39 707.64,324.49 708.6,324.59 709.56,324.69 710.52,324.79 711.48,324.89 712.44,324.99 713.4,325.08 714.36,325.18 715.32,325.27 716.28,325.37 717.24,325.46 718.2,325.55 719.16,325.64 720.12,325.72 721.08,325.8 722.04,325.88 723,325.96 723.96,326.03 724.92,326.1 725.88,326.17 726.84,326.24 727.8,326.3 728.76,326.37 729.72,326.43 730.68,326.5 731.64,326.56 732.6,326.62 733.56,326.69 734.52,326.75 735.48,326.82 736.44,326.88 737.4,326.95 738.36,327.01 739.32,327.07 740.28,327.13 741.24,327.2 742.2,327.26 743.16,327.32 744.12,327.38 745.08,327.44 746.04,327.5 747,327.56 747.96,327.62 748.92,327.68 749.88,327.74 750.84,327.79 751.8,327.85 752.76,327.91 753.72,327.97 754.68,328.03 755.64,328.09 756.6,328.14 757.56,328.2 758.52,328.26 759.48,328.32 760.44,328.37 761.4,328.42 762.36,328.48 763.32,328.53 764.28,328.58 765.24,328.63 766.2,328.68 767.16,328.73 768.12,328.77 769.08,328.82 770.04,328.86 771,328.89 771.96,328.93 772.92,328.95 773.88,328.98 774.84,329.01 775.8,329.04 776.76,329.06 777.72,329.08 778.68,329.11 779.64,329.13 780.6,329.15 781.56,329.17 782.52,329.19 783.48,329.2 784.44,329.22 785.4,329.24 786.36,329.25 787.32,329.26 788.28,329.27 789.24,329.29 790.2,329.3 791.16,329.31 792.12,329.32 793.08,329.34 794.04,329.35 795,329.36 795.96,329.37 796.92,329.38 797.88,329.39 798.84,329.4 799.8,329.41 800.76,329.42 801.72,329.43 802.68,329.44 803.64,329.45 804.6,329.46 805.56,329.47 806.52,329.48 807.48,329.49 808.44,329.49 809.4,329.5 810.36,329.51 811.32,329.51 812.28,329.52 813.24,329.52 814.2,329.53 815.16,329.53 816.12,329.53 817.08,329.54 818.04,329.54 819,329.54 819.96,329.54 820.92,329.54 821.88,329.55 822.84,329.55 823.8,329.55 824.76,329.55 825.72,329.55 826.68,329.55 827.64,329.55 828.6,329.55 829.56,329.55 830.52,329.55 831.48,329.56 832.44,329.56 833.4,329.56 834.36,329.56 835.32,329.56 836.28,329.56 837.24,329.56 838.2,329.56 839.16,329.56 840.12,329.56 841.08,329.56 842.04,329.57 843,329.57 843.96,329.57 844.92,329.57 845.88,329.57 846.84,329.57 847.8,329.57 848.76,329.57 849.72,329.57 850.68,329.57 851.64,329.57 852.6,329.57 853.56,329.57 854.52,329.57 855.48,329.58 856.44,329.58 857.4,329.58 858.36,329.58 859.32,329.58 860.28,329.58 861.24,329.58 862.2,329.58 863.16,329.58 864.12,329.58 865.08,329.58 866.04,329.58 867,329.58 867.96,329.58 868.92,329.58 869.88,329.58 870.84,329.58 871.8,329.59 872.76,329.59 873.72,329.59 874.68,329.59 875.64,329.59 876.6,329.59 877.56,329.59 878.52,329.59 879.48,329.59 880.44,329.59 881.4,329.59 882.36,329.59 883.32,329.59 884.28,329.59 885.24,329.59 886.2,329.59 887.16,329.59 888.12,329.59 889.08,329.59 890.04,329.59 891,329.59 891.96,329.59 892.92,329.59 893.88,329.59 894.84,329.59 895.8,329.59 896.76,329.59 897.72,329.6 898.68,329.6 899.64,329.6 900.6,329.6 901.56,329.6 902.52,329.6 903.48,329.6 904.44,329.6 905.4,329.6 906.36,329.6 907.32,329.6 908.28,329.6 909.24,329.6 910.2,329.6 911.16,329.6 912.12,329.6 913.08,329.6 914.04,329.6 915,329.6 915.96,329.6 916.92,329.6 917.88,329.6 918.84,329.6 919.8,329.6 920.76,329.6 921.72,329.6 922.68,329.6 923.64,329.6 924.6,329.6 925.56,329.6 926.52,329.6 927.48,329.6 928.44,329.6 929.4,329.6 930.36,329.6 931.32,329.6 932.28,329.6 933.24,329.6 934.2,329.6" stroke="#2b2bff" stroke-width="1.9" fill="none" stroke-linejoin="round"/>
<path d="M550.2,326.82 551.16,326.67 552.12,326.5 553.08,326.31 554.04,326.1 555,325.87 555.96,325.6 556.92,325.3 557.88,324.97 558.84,324.62 559.8,324.27 560.76,323.89 561.72,323.49 562.68,323.06 563.64,322.6 564.6,322.09 565.56,321.52 566.52,320.89 567.48,320.2 568.44,319.47 569.4,318.69 570.36,317.86 571.32,316.98 572.28,316.05 573.24,315.06 574.2,313.99 575.16,312.87 576.12,311.73 577.08,310.58 578.04,309.39 579,308.19 579.96,306.98 580.92,305.83 581.88,304.71 582.84,303.52 583.8,302.24 584.76,300.89 585.72,299.46 586.68,297.91 587.64,296.19 588.6,294.24 589.56,292.13 590.52,289.91 591.48,287.55 592.44,285.01 593.4,282.46 594.36,279.95 595.32,277.4 596.28,275.1 597.24,273.23 598.2,271.53 599.16,269.95 600.12,268.52 601.08,267.25 602.04,266.17 603,265.26 603.96,264.35 604.92,263.49 605.88,262.73 606.84,262.13 607.8,261.75 608.76,261.65 609.72,261.72 610.68,261.88 611.64,262.1 612.6,262.41 613.56,263.37 614.52,264.95 615.48,266.76 616.44,268.41 617.4,269.98 618.36,271.59 619.32,273.23 620.28,274.9 621.24,276.62 622.2,278.39 623.16,280.14 624.12,281.8 625.08,283.41 626.04,284.99 627,286.57 627.96,288.17 628.92,289.85 629.88,291.49 630.84,292.99 631.8,294.25 632.76,295.36 633.72,296.39 634.68,297.39 635.64,298.43 636.6,299.52 637.56,300.6 638.52,301.58 639.48,302.38 640.44,303.09 641.4,303.73 642.36,304.32 643.32,304.88 644.28,305.42 645.24,305.95 646.2,306.47 647.16,306.97 648.12,307.44 649.08,307.91 650.04,308.39 651,308.87 651.96,309.33 652.92,309.75 653.88,310.15 654.84,310.53 655.8,310.91 656.76,311.27 657.72,311.62 658.68,311.98 659.64,312.33 660.6,312.69 661.56,313.06 662.52,313.42 663.48,313.79 664.44,314.15 665.4,314.51 666.36,314.86 667.32,315.21 668.28,315.54 669.24,315.86 670.2,316.16 671.16,316.44 672.12,316.72 673.08,316.99 674.04,317.25 675,317.5 675.96,317.75 676.92,317.99 677.88,318.22 678.84,318.45 679.8,318.67 680.76,318.89 681.72,319.1 682.68,319.31 683.64,319.51 684.6,319.7 685.56,319.9 686.52,320.08 687.48,320.27 688.44,320.45 689.4,320.62 690.36,320.8 691.32,320.97 692.28,321.14 693.24,321.31 694.2,321.48 695.16,321.64 696.12,321.8 697.08,321.96 698.04,322.11 699,322.26 699.96,322.41 700.92,322.56 701.88,322.7 702.84,322.83 703.8,322.97 704.76,323.1 705.72,323.23 706.68,323.36 707.64,323.48 708.6,323.6 709.56,323.72 710.52,323.84 711.48,323.96 712.44,324.07 713.4,324.19 714.36,324.3 715.32,324.42 716.28,324.53 717.24,324.64 718.2,324.75 719.16,324.85 720.12,324.95 721.08,325.05 722.04,325.15 723,325.24 723.96,325.33 724.92,325.41 725.88,325.49 726.84,325.57 727.8,325.65 728.76,325.73 729.72,325.81 730.68,325.88 731.64,325.96 732.6,326.04 733.56,326.11 734.52,326.19 735.48,326.27 736.44,326.34 737.4,326.42 738.36,326.5 739.32,326.57 740.28,326.65 741.24,326.72 742.2,326.79 743.16,326.87 744.12,326.94 745.08,327.01 746.04,327.08 747,327.16 747.96,327.23 748.92,327.3 749.88,327.37 750.84,327.44 751.8,327.51 752.76,327.58 753.72,327.65 754.68,327.72 755.64,327.79 756.6,327.86 757.56,327.93 758.52,328 759.48,328.06 760.44,328.13 761.4,328.19 762.36,328.25 763.32,328.31 764.28,328.38 765.24,328.44 766.2,328.5 767.16,328.56 768.12,328.61 769.08,328.66 770.04,328.71 771,328.75 771.96,328.79 772.92,328.83 773.88,328.86 774.84,328.89 775.8,328.92 776.76,328.95 777.72,328.98 778.68,329.01 779.64,329.03 780.6,329.06 781.56,329.08 782.52,329.1 783.48,329.13 784.44,329.14 785.4,329.16 786.36,329.18 787.32,329.2 788.28,329.21 789.24,329.23 790.2,329.24 791.16,329.25 792.12,329.27 793.08,329.28 794.04,329.3 795,329.31 795.96,329.33 796.92,329.34 797.88,329.35 798.84,329.36 799.8,329.38 800.76,329.39 801.72,329.4 802.68,329.41 803.64,329.42 804.6,329.43 805.56,329.44 806.52,329.45 807.48,329.46 808.44,329.47 809.4,329.48 810.36,329.49 811.32,329.49 812.28,329.5 813.24,329.51 814.2,329.51 815.16,329.52 816.12,329.52 817.08,329.53 818.04,329.53 819,329.53 819.96,329.53 820.92,329.53 821.88,329.53 822.84,329.54 823.8,329.54 824.76,329.54 825.72,329.54 826.68,329.54 827.64,329.54 828.6,329.54 829.56,329.54 830.52,329.55 831.48,329.55 832.44,329.55 833.4,329.55 834.36,329.55 835.32,329.55 836.28,329.55 837.24,329.55 838.2,329.55 839.16,329.56 840.12,329.56 841.08,329.56 842.04,329.56 843,329.56 843.96,329.56 844.92,329.56 845.88,329.56 846.84,329.56 847.8,329.56 848.76,329.56 849.72,329.57 850.68,329.57 851.64,329.57 852.6,329.57 853.56,329.57 854.52,329.57 855.48,329.57 856.44,329.57 857.4,329.57 858.36,329.57 859.32,329.57 860.28,329.57 861.24,329.57 862.2,329.58 863.16,329.58 864.12,329.58 865.08,329.58 866.04,329.58 867,329.58 867.96,329.58 868.92,329.58 869.88,329.58 870.84,329.58 871.8,329.58 872.76,329.58 873.72,329.58 874.68,329.58 875.64,329.58 876.6,329.58 877.56,329.59 878.52,329.59 879.48,329.59 880.44,329.59 881.4,329.59 882.36,329.59 883.32,329.59 884.28,329.59 885.24,329.59 886.2,329.59 887.16,329.59 888.12,329.59 889.08,329.59 890.04,329.59 891,329.59 891.96,329.59 892.92,329.59 893.88,329.59 894.84,329.59 895.8,329.59 896.76,329.59 897.72,329.59 898.68,329.59 899.64,329.59 900.6,329.6 901.56,329.6 902.52,329.6 903.48,329.6 904.44,329.6 905.4,329.6 906.36,329.6 907.32,329.6 908.28,329.6 909.24,329.6 910.2,329.6 911.16,329.6 912.12,329.6 913.08,329.6 914.04,329.6 915,329.6 915.96,329.6 916.92,329.6 917.88,329.6 918.84,329.6 919.8,329.6 920.76,329.6 921.72,329.6 922.68,329.6 923.64,329.6 924.6,329.6 925.56,329.6 926.52,329.6 927.48,329.6 928.44,329.6 929.4,329.6 930.36,329.6 931.32,329.6 932.28,329.6 933.24,329.6 934.2,329.6" stroke="#ff2bff" stroke-width="1.9" fill="none" stroke-linejoin="round"/>
<path d="M550.2,326.48 551.16,326.31 552.12,326.12 553.08,325.91 554.04,325.67 555,325.41 555.96,325.11 556.92,324.77 557.88,324.4 558.84,324.01 559.8,323.61 560.76,323.19 561.72,322.74 562.68,322.25 563.64,321.73 564.6,321.17 565.56,320.53 566.52,319.81 567.48,319.04 568.44,318.23 569.4,317.35 570.36,316.41 571.32,315.42 572.28,314.38 573.24,313.27 574.2,312.07 575.16,310.81 576.12,309.53 577.08,308.24 578.04,306.9 579,305.55 579.96,304.2 580.92,302.89 581.88,301.64 582.84,300.31 583.8,298.87 584.76,297.36 585.72,295.75 586.68,294 587.64,292.07 588.6,289.88 589.56,287.51 590.52,285.02 591.48,282.37 592.44,279.51 593.4,276.65 594.36,273.83 595.32,270.97 596.28,268.38 597.24,266.29 598.2,264.37 599.16,262.6 600.12,260.99 601.08,259.57 602.04,258.35 603,257.32 603.96,256.31 604.92,255.34 605.88,254.48 606.84,253.81 607.8,253.39 608.76,253.28 609.72,253.36 610.68,253.53 611.64,253.79 612.6,254.13 613.56,255.21 614.52,256.99 615.48,259.02 616.44,260.87 617.4,262.63 618.36,264.44 619.32,266.29 620.28,268.16 621.24,270.09 622.2,272.07 623.16,274.04 624.12,275.91 625.08,277.72 626.04,279.49 627,281.26 627.96,283.07 628.92,284.95 629.88,286.79 630.84,288.47 631.8,289.9 632.76,291.15 633.72,292.3 634.68,293.42 635.64,294.59 636.6,295.82 637.56,297.03 638.52,298.12 639.48,299.03 640.44,299.82 641.4,300.54 642.36,301.21 643.32,301.83 644.28,302.44 645.24,303.03 646.2,303.62 647.16,304.18 648.12,304.71 649.08,305.24 650.04,305.77 651,306.32 651.96,306.84 652.92,307.31 653.88,307.75 654.84,308.18 655.8,308.6 656.76,309.01 657.72,309.41 658.68,309.81 659.64,310.21 660.6,310.61 661.56,311.02 662.52,311.43 663.48,311.84 664.44,312.25 665.4,312.65 666.36,313.05 667.32,313.43 668.28,313.8 669.24,314.16 670.2,314.5 671.16,314.82 672.12,315.13 673.08,315.43 674.04,315.73 675,316.01 675.96,316.29 676.92,316.56 677.88,316.82 678.84,317.08 679.8,317.33 680.76,317.57 681.72,317.81 682.68,318.04 683.64,318.26 684.6,318.48 685.56,318.7 686.52,318.91 687.48,319.12 688.44,319.32 689.4,319.52 690.36,319.71 691.32,319.91 692.28,320.1 693.24,320.29 694.2,320.47 695.16,320.66 696.12,320.84 697.08,321.02 698.04,321.19 699,321.36 699.96,321.53 700.92,321.69 701.88,321.85 702.84,322 703.8,322.15 704.76,322.3 705.72,322.44 706.68,322.59 707.64,322.73 708.6,322.86 709.56,323 710.52,323.13 711.48,323.26 712.44,323.39 713.4,323.52 714.36,323.65 715.32,323.78 716.28,323.9 717.24,324.03 718.2,324.15 719.16,324.26 720.12,324.38 721.08,324.49 722.04,324.6 723,324.7 723.96,324.8 724.92,324.89 725.88,324.99 726.84,325.08 727.8,325.17 728.76,325.25 729.72,325.34 730.68,325.42 731.64,325.51 732.6,325.6 733.56,325.68 734.52,325.77 735.48,325.86 736.44,325.94 737.4,326.03 738.36,326.11 739.32,326.2 740.28,326.28 741.24,326.37 742.2,326.45 743.16,326.53 744.12,326.61 745.08,326.69 746.04,326.77 747,326.85 747.96,326.93 748.92,327.01 749.88,327.09 750.84,327.17 751.8,327.25 752.76,327.33 753.72,327.4 754.68,327.48 755.64,327.56 756.6,327.64 757.56,327.72 758.52,327.8 759.48,327.87 760.44,327.95 761.4,328.02 762.36,328.09 763.32,328.16 764.28,328.22 765.24,328.29 766.2,328.36 767.16,328.43 768.12,328.49 769.08,328.55 770.04,328.6 771,328.65 771.96,328.69 772.92,328.73 773.88,328.77 774.84,328.81 775.8,328.84 776.76,328.87 777.72,328.91 778.68,328.94 779.64,328.96 780.6,328.99 781.56,329.02 782.52,329.04 783.48,329.07 784.44,329.09 785.4,329.11 786.36,329.13 787.32,329.15 788.28,329.16 789.24,329.18 790.2,329.2 791.16,329.21 792.12,329.23 793.08,329.24 794.04,329.26 795,329.28 795.96,329.29 796.92,329.31 797.88,329.32 798.84,329.34 799.8,329.35 800.76,329.36 801.72,329.38 802.68,329.39 803.64,329.4 804.6,329.41 805.56,329.42 806.52,329.44 807.48,329.45 808.44,329.46 809.4,329.47 810.36,329.47 811.32,329.48 812.28,329.49 813.24,329.5 814.2,329.5 815.16,329.51 816.12,329.51 817.08,329.52 818.04,329.52 819,329.52 819.96,329.52 820.92,329.53 821.88,329.53 822.84,329.53 823.8,329.53 824.76,329.53 825.72,329.53 826.68,329.53 827.64,329.53 828.6,329.54 829.56,329.54 830.52,329.54 831.48,329.54 832.44,329.54 833.4,329.54 834.36,329.54 835.32,329.54 836.28,329.55 837.24,329.55 838.2,329.55 839.16,329.55 840.12,329.55 841.08,329.55 842.04,329.55 843,329.55 843.96,329.56 844.92,329.56 845.88,329.56 846.84,329.56 847.8,329.56 848.76,329.56 849.72,329.56 850.68,329.56 851.64,329.56 852.6,329.56 853.56,329.56 854.52,329.57 855.48,329.57 856.44,329.57 857.4,329.57 858.36,329.57 859.32,329.57 860.28,329.57 861.24,329.57 862.2,329.57 863.16,329.57 864.12,329.57 865.08,329.57 866.04,329.58 867,329.58 867.96,329.58 868.92,329.58 869.88,329.58 870.84,329.58 871.8,329.58 872.76,329.58 873.72,329.58 874.68,329.58 875.64,329.58 876.6,329.58 877.56,329.58 878.52,329.58 879.48,329.58 880.44,329.59 881.4,329.59 882.36,329.59 883.32,329.59 884.28,329.59 885.24,329.59 886.2,329.59 887.16,329.59 888.12,329.59 889.08,329.59 890.04,329.59 891,329.59 891.96,329.59 892.92,329.59 893.88,329.59 894.84,329.59 895.8,329.59 896.76,329.59 897.72,329.59 898.68,329.59 899.64,329.59 900.6,329.59 901.56,329.59 902.52,329.6 903.48,329.6 904.44,329.6 905.4,329.6 906.36,329.6 907.32,329.6 908.28,329.6 909.24,329.6 910.2,329.6 911.16,329.6 912.12,329.6 913.08,329.6 914.04,329.6 915,329.6 915.96,329.6 916.92,329.6 917.88,329.6 918.84,329.6 919.8,329.6 920.76,329.6 921.72,329.6 922.68,329.6 923.64,329.6 924.6,329.6 925.56,329.6 926.52,329.6 927.48,329.6 928.44,329.6 929.4,329.6 930.36,329.6 931.32,329.6 932.28,329.6 933.24,329.6 934.2,329.6" stroke="#0a8a2a" stroke-width="1.9" fill="none" stroke-linejoin="round"/>
<path d="M550.2,326.02 551.16,325.81 552.12,325.59 553.08,325.34 554.04,325.06 555,324.74 555.96,324.38 556.92,323.98 557.88,323.57 558.84,323.13 559.8,322.68 560.76,322.2 561.72,321.68 562.68,321.13 563.64,320.54 564.6,319.87 565.56,319.11 566.52,318.3 567.48,317.43 568.44,316.5 569.4,315.5 570.36,314.45 571.32,313.34 572.28,312.16 573.24,310.89 574.2,309.55 575.16,308.16 576.12,306.76 577.08,305.33 578.04,303.86 579,302.38 579.96,300.93 580.92,299.55 581.88,298.16 582.84,296.65 583.8,295.05 584.76,293.36 585.72,291.54 586.68,289.57 587.64,287.34 588.6,284.87 589.56,282.23 590.52,279.47 591.48,276.48 592.44,273.34 593.4,270.28 594.36,267.16 595.32,264.1 596.28,261.47 597.24,259.29 598.2,257.25 599.16,255.37 600.12,253.68 601.08,252.19 602.04,250.93 603,249.83 603.96,248.73 604.92,247.7 605.88,246.8 606.84,246.13 607.8,245.73 608.76,245.67 609.72,245.78 610.68,245.99 611.64,246.29 612.6,246.76 613.56,248.13 614.52,250.18 615.48,252.42 616.44,254.4 617.4,256.34 618.36,258.34 619.32,260.38 620.28,262.45 621.24,264.59 622.2,266.77 623.16,268.92 624.12,270.96 625.08,272.94 626.04,274.88 627,276.83 627.96,278.84 628.92,280.91 629.88,282.91 630.84,284.71 631.8,286.22 632.76,287.57 633.72,288.82 634.68,290.06 635.64,291.36 636.6,292.72 637.56,294.03 638.52,295.2 639.48,296.16 640.44,297.01 641.4,297.79 642.36,298.52 643.32,299.2 644.28,299.86 645.24,300.51 646.2,301.15 647.16,301.76 648.12,302.34 649.08,302.93 650.04,303.52 651,304.11 651.96,304.67 652.92,305.18 653.88,305.67 654.84,306.14 655.8,306.6 656.76,307.04 657.72,307.48 658.68,307.92 659.64,308.36 660.6,308.81 661.56,309.26 662.52,309.71 663.48,310.16 664.44,310.61 665.4,311.05 666.36,311.48 667.32,311.9 668.28,312.31 669.24,312.7 670.2,313.06 671.16,313.42 672.12,313.76 673.08,314.09 674.04,314.41 675,314.72 675.96,315.02 676.92,315.31 677.88,315.6 678.84,315.88 679.8,316.15 680.76,316.42 681.72,316.68 682.68,316.94 683.64,317.18 684.6,317.42 685.56,317.66 686.52,317.89 687.48,318.11 688.44,318.34 689.4,318.55 690.36,318.77 691.32,318.98 692.28,319.19 693.24,319.4 694.2,319.6 695.16,319.81 696.12,320 697.08,320.2 698.04,320.39 699,320.57 699.96,320.76 700.92,320.93 701.88,321.11 702.84,321.28 703.8,321.44 704.76,321.6 705.72,321.76 706.68,321.92 707.64,322.07 708.6,322.22 709.56,322.37 710.52,322.52 711.48,322.66 712.44,322.8 713.4,322.94 714.36,323.09 715.32,323.22 716.28,323.36 717.24,323.5 718.2,323.63 719.16,323.76 720.12,323.88 721.08,324 722.04,324.12 723,324.23 723.96,324.34 724.92,324.45 725.88,324.55 726.84,324.65 727.8,324.74 728.76,324.84 729.72,324.93 730.68,325.03 731.64,325.12 732.6,325.22 733.56,325.31 734.52,325.41 735.48,325.5 736.44,325.6 737.4,325.69 738.36,325.78 739.32,325.88 740.28,325.97 741.24,326.06 742.2,326.15 743.16,326.24 744.12,326.33 745.08,326.42 746.04,326.51 747,326.6 747.96,326.69 748.92,326.77 749.88,326.86 750.84,326.94 751.8,327.03 752.76,327.12 753.72,327.2 754.68,327.29 755.64,327.38 756.6,327.46 757.56,327.55 758.52,327.63 759.48,327.72 760.44,327.8 761.4,327.88 762.36,327.95 763.32,328.03 764.28,328.1 765.24,328.18 766.2,328.25 767.16,328.32 768.12,328.39 769.08,328.45 770.04,328.51 771,328.56 771.96,328.61 772.92,328.65 773.88,328.69 774.84,328.73 775.8,328.77 776.76,328.81 777.72,328.84 778.68,328.88 779.64,328.91 780.6,328.94 781.56,328.97 782.52,328.99 783.48,329.02 784.44,329.04 785.4,329.06 786.36,329.08 787.32,329.1 788.28,329.12 789.24,329.14 790.2,329.16 791.16,329.18 792.12,329.2 793.08,329.21 794.04,329.23 795,329.25 795.96,329.26 796.92,329.28 797.88,329.3 798.84,329.31 799.8,329.33 800.76,329.34 801.72,329.36 802.68,329.37 803.64,329.38 804.6,329.4 805.56,329.41 806.52,329.42 807.48,329.43 808.44,329.44 809.4,329.45 810.36,329.46 811.32,329.47 812.28,329.48 813.24,329.49 814.2,329.49 815.16,329.5 816.12,329.5 817.08,329.51 818.04,329.51 819,329.51 819.96,329.52 820.92,329.52 821.88,329.52 822.84,329.52 823.8,329.52 824.76,329.52 825.72,329.53 826.68,329.53 827.64,329.53 828.6,329.53 829.56,329.53 830.52,329.53 831.48,329.53 832.44,329.54 833.4,329.54 834.36,329.54 835.32,329.54 836.28,329.54 837.24,329.54 838.2,329.54 839.16,329.54 840.12,329.55 841.08,329.55 842.04,329.55 843,329.55 843.96,329.55 844.92,329.55 845.88,329.55 846.84,329.55 847.8,329.56 848.76,329.56 849.72,329.56 850.68,329.56 851.64,329.56 852.6,329.56 853.56,329.56 854.52,329.56 855.48,329.56 856.44,329.56 857.4,329.57 858.36,329.57 859.32,329.57 860.28,329.57 861.24,329.57 862.2,329.57 863.16,329.57 864.12,329.57 865.08,329.57 866.04,329.57 867,329.57 867.96,329.57 868.92,329.58 869.88,329.58 870.84,329.58 871.8,329.58 872.76,329.58 873.72,329.58 874.68,329.58 875.64,329.58 876.6,329.58 877.56,329.58 878.52,329.58 879.48,329.58 880.44,329.58 881.4,329.58 882.36,329.59 883.32,329.59 884.28,329.59 885.24,329.59 886.2,329.59 887.16,329.59 888.12,329.59 889.08,329.59 890.04,329.59 891,329.59 891.96,329.59 892.92,329.59 893.88,329.59 894.84,329.59 895.8,329.59 896.76,329.59 897.72,329.59 898.68,329.59 899.64,329.59 900.6,329.59 901.56,329.59 902.52,329.59 903.48,329.6 904.44,329.6 905.4,329.6 906.36,329.6 907.32,329.6 908.28,329.6 909.24,329.6 910.2,329.6 911.16,329.6 912.12,329.6 913.08,329.6 914.04,329.6 915,329.6 915.96,329.6 916.92,329.6 917.88,329.6 918.84,329.6 919.8,329.6 920.76,329.6 921.72,329.6 922.68,329.6 923.64,329.6 924.6,329.6 925.56,329.6 926.52,329.6 927.48,329.6 928.44,329.6 929.4,329.6 930.36,329.6 931.32,329.6 932.28,329.6 933.24,329.6 934.2,329.6" stroke="#26268e" stroke-width="1.9" fill="none" stroke-linejoin="round"/>
<path d="M550.2,324.89 551.16,324.64 552.12,324.37 553.08,324.08 554.04,323.75 555,323.38 555.96,322.98 556.92,322.53 557.88,322 558.84,321.39 559.8,320.73 560.76,320.04 561.72,319.31 562.68,318.54 563.64,317.73 564.6,316.85 565.56,315.9 566.52,314.86 567.48,313.66 568.44,312.33 569.4,310.91 570.36,309.4 571.32,307.76 572.28,306.02 573.24,304.17 574.2,302.22 575.16,300.09 576.12,297.84 577.08,295.52 578.04,293.19 579,290.78 579.96,288.32 580.92,285.87 581.88,283.51 582.84,281.23 583.8,278.8 584.76,276.17 585.72,273.4 586.68,270.43 587.64,267.18 588.6,263.52 589.56,259.42 590.52,255 591.48,250.38 592.44,245.34 593.4,240.11 594.36,235.03 595.32,229.8 596.28,224.92 597.24,220.97 598.2,217.46 599.16,214.21 600.12,211.28 601.08,208.7 602.04,206.51 603,204.66 603.96,202.82 604.92,201.09 605.88,199.62 606.84,198.52 607.8,197.94 608.76,197.92 609.72,198.13 610.68,198.49 611.64,198.98 612.6,199.92 613.56,202.35 614.52,205.69 615.48,209.15 616.44,212.2 617.4,215.27 618.36,218.42 619.32,221.63 620.28,224.89 621.24,228.27 622.2,231.7 623.16,235.03 624.12,238.21 625.08,241.3 626.04,244.35 627,247.41 627.96,250.59 628.92,253.84 629.88,256.93 630.84,259.66 631.8,261.97 632.76,264.05 633.72,266 634.68,267.95 635.64,270.02 636.6,272.15 637.56,274.18 638.52,275.95 639.48,277.41 640.44,278.72 641.4,279.92 642.36,281.04 643.32,282.1 644.28,283.13 645.24,284.16 646.2,285.16 647.16,286.1 648.12,287.01 649.08,287.93 650.04,288.86 651,289.79 651.96,290.65 652.92,291.44 653.88,292.2 654.84,292.93 655.8,293.64 656.76,294.34 657.72,295.03 658.68,295.72 659.64,296.41 660.6,297.11 661.56,297.82 662.52,298.53 663.48,299.24 664.44,299.94 665.4,300.63 666.36,301.31 667.32,301.96 668.28,302.59 669.24,303.19 670.2,303.76 671.16,304.31 672.12,304.84 673.08,305.36 674.04,305.86 675,306.34 675.96,306.82 676.92,307.27 677.88,307.72 678.84,308.16 679.8,308.59 680.76,309 681.72,309.41 682.68,309.81 683.64,310.19 684.6,310.57 685.56,310.94 686.52,311.3 687.48,311.65 688.44,311.99 689.4,312.34 690.36,312.67 691.32,313.01 692.28,313.33 693.24,313.66 694.2,313.98 695.16,314.29 696.12,314.6 697.08,314.91 698.04,315.2 699,315.49 699.96,315.78 700.92,316.06 701.88,316.33 702.84,316.59 703.8,316.85 704.76,317.1 705.72,317.35 706.68,317.59 707.64,317.83 708.6,318.07 709.56,318.3 710.52,318.53 711.48,318.75 712.44,318.98 713.4,319.2 714.36,319.42 715.32,319.64 716.28,319.85 717.24,320.07 718.2,320.27 719.16,320.47 720.12,320.67 721.08,320.86 722.04,321.04 723,321.21 723.96,321.38 724.92,321.54 725.88,321.7 726.84,321.86 727.8,322.01 728.76,322.16 729.72,322.3 730.68,322.45 731.64,322.6 732.6,322.75 733.56,322.9 734.52,323.05 735.48,323.2 736.44,323.35 737.4,323.5 738.36,323.64 739.32,323.79 740.28,323.93 741.24,324.08 742.2,324.22 743.16,324.36 744.12,324.5 745.08,324.64 746.04,324.78 747,324.92 747.96,325.05 748.92,325.19 749.88,325.33 750.84,325.46 751.8,325.59 752.76,325.73 753.72,325.87 754.68,326 755.64,326.14 756.6,326.27 757.56,326.41 758.52,326.54 759.48,326.67 760.44,326.8 761.4,326.92 762.36,327.04 763.32,327.16 764.28,327.27 765.24,327.39 766.2,327.51 767.16,327.62 768.12,327.72 769.08,327.82 770.04,327.91 771,327.99 771.96,328.06 772.92,328.13 773.88,328.19 774.84,328.25 775.8,328.31 776.76,328.37 777.72,328.42 778.68,328.47 779.64,328.52 780.6,328.57 781.56,328.61 782.52,328.66 783.48,328.7 784.44,328.73 785.4,328.77 786.36,328.8 787.32,328.83 788.28,328.86 789.24,328.89 790.2,328.91 791.16,328.94 792.12,328.97 793.08,329 794.04,329.03 795,329.05 795.96,329.08 796.92,329.1 797.88,329.13 798.84,329.15 799.8,329.18 800.76,329.2 801.72,329.22 802.68,329.24 803.64,329.27 804.6,329.29 805.56,329.31 806.52,329.32 807.48,329.34 808.44,329.36 809.4,329.37 810.36,329.39 811.32,329.4 812.28,329.41 813.24,329.43 814.2,329.44 815.16,329.44 816.12,329.45 817.08,329.46 818.04,329.46 819,329.47 819.96,329.47 820.92,329.47 821.88,329.47 822.84,329.48 823.8,329.48 824.76,329.48 825.72,329.48 826.68,329.49 827.64,329.49 828.6,329.49 829.56,329.49 830.52,329.5 831.48,329.5 832.44,329.5 833.4,329.5 834.36,329.5 835.32,329.51 836.28,329.51 837.24,329.51 838.2,329.51 839.16,329.51 840.12,329.52 841.08,329.52 842.04,329.52 843,329.52 843.96,329.52 844.92,329.52 845.88,329.53 846.84,329.53 847.8,329.53 848.76,329.53 849.72,329.53 850.68,329.54 851.64,329.54 852.6,329.54 853.56,329.54 854.52,329.54 855.48,329.54 856.44,329.54 857.4,329.55 858.36,329.55 859.32,329.55 860.28,329.55 861.24,329.55 862.2,329.55 863.16,329.55 864.12,329.56 865.08,329.56 866.04,329.56 867,329.56 867.96,329.56 868.92,329.56 869.88,329.56 870.84,329.56 871.8,329.57 872.76,329.57 873.72,329.57 874.68,329.57 875.64,329.57 876.6,329.57 877.56,329.57 878.52,329.57 879.48,329.57 880.44,329.58 881.4,329.58 882.36,329.58 883.32,329.58 884.28,329.58 885.24,329.58 886.2,329.58 887.16,329.58 888.12,329.58 889.08,329.58 890.04,329.58 891,329.58 891.96,329.59 892.92,329.59 893.88,329.59 894.84,329.59 895.8,329.59 896.76,329.59 897.72,329.59 898.68,329.59 899.64,329.59 900.6,329.59 901.56,329.59 902.52,329.59 903.48,329.59 904.44,329.59 905.4,329.59 906.36,329.59 907.32,329.59 908.28,329.59 909.24,329.59 910.2,329.6 911.16,329.6 912.12,329.6 913.08,329.6 914.04,329.6 915,329.6 915.96,329.6 916.92,329.6 917.88,329.6 918.84,329.6 919.8,329.6 920.76,329.6 921.72,329.6 922.68,329.6 923.64,329.6 924.6,329.6 925.56,329.6 926.52,329.6 927.48,329.6 928.44,329.6 929.4,329.6 930.36,329.6 931.32,329.6 932.28,329.6 933.24,329.6 934.2,329.6" stroke="#a03cff" stroke-width="1.9" fill="none" stroke-linejoin="round"/>
<path d="M550.2,321.47 551.16,320.99 552.12,320.48 553.08,319.91 554.04,319.26 555,318.5 555.96,317.67 556.92,316.78 557.88,315.86 558.84,314.9 559.8,313.89 560.76,312.81 561.72,311.65 562.68,310.4 563.64,309.05 564.6,307.5 565.56,305.8 566.52,303.97 567.48,302.03 568.44,299.95 569.4,297.74 570.36,295.39 571.32,292.94 572.28,290.31 573.24,287.48 574.2,284.51 575.16,281.48 576.12,278.44 577.08,275.31 578.04,272.1 579,268.91 579.96,265.8 580.92,262.83 581.88,259.75 582.84,256.39 583.8,252.88 584.76,249.15 585.72,245.13 586.68,240.74 587.64,235.78 588.6,230.32 589.56,224.52 590.52,218.47 591.48,211.88 592.44,205.07 593.4,198.45 594.36,191.65 595.32,185.09 596.28,179.56 597.24,174.87 598.2,170.48 599.16,166.45 600.12,162.81 601.08,159.62 602.04,156.93 603,154.54 603.96,152.15 604.92,149.92 605.88,148 606.84,146.54 607.8,145.7 608.76,145.57 609.72,145.8 610.68,146.27 611.64,146.92 612.6,147.94 613.56,150.97 614.52,155.46 615.48,160.35 616.44,164.7 617.4,168.96 618.36,173.35 619.32,177.82 620.28,182.36 621.24,187.04 622.2,191.84 623.16,196.54 624.12,201.01 625.08,205.35 626.04,209.62 627,213.89 627.96,218.29 628.92,222.83 629.88,227.22 630.84,231.16 631.8,234.49 632.76,237.44 633.72,240.18 634.68,242.9 635.64,245.75 636.6,248.73 637.56,251.61 638.52,254.17 639.48,256.28 640.44,258.15 641.4,259.86 642.36,261.44 643.32,262.94 644.28,264.38 645.24,265.81 646.2,267.22 647.16,268.55 648.12,269.84 649.08,271.11 650.04,272.41 651,273.71 651.96,274.94 652.92,276.06 653.88,277.13 654.84,278.16 655.8,279.16 656.76,280.14 657.72,281.1 658.68,282.06 659.64,283.02 660.6,284 661.56,284.99 662.52,285.98 663.48,286.97 664.44,287.96 665.4,288.93 666.36,289.87 667.32,290.8 668.28,291.69 669.24,292.54 670.2,293.34 671.16,294.11 672.12,294.86 673.08,295.58 674.04,296.28 675,296.97 675.96,297.63 676.92,298.28 677.88,298.91 678.84,299.52 679.8,300.12 680.76,300.7 681.72,301.28 682.68,301.83 683.64,302.37 684.6,302.9 685.56,303.42 686.52,303.92 687.48,304.42 688.44,304.9 689.4,305.38 690.36,305.85 691.32,306.32 692.28,306.78 693.24,307.23 694.2,307.68 695.16,308.12 696.12,308.56 697.08,308.98 698.04,309.4 699,309.81 699.96,310.21 700.92,310.6 701.88,310.98 702.84,311.35 703.8,311.71 704.76,312.07 705.72,312.41 706.68,312.76 707.64,313.09 708.6,313.42 709.56,313.75 710.52,314.07 711.48,314.38 712.44,314.7 713.4,315.01 714.36,315.32 715.32,315.62 716.28,315.92 717.24,316.22 718.2,316.51 719.16,316.79 720.12,317.06 721.08,317.33 722.04,317.59 723,317.83 723.96,318.07 724.92,318.3 725.88,318.52 726.84,318.74 727.8,318.95 728.76,319.16 729.72,319.36 730.68,319.57 731.64,319.78 732.6,319.99 733.56,320.2 734.52,320.41 735.48,320.62 736.44,320.82 737.4,321.03 738.36,321.23 739.32,321.44 740.28,321.64 741.24,321.84 742.2,322.04 743.16,322.24 744.12,322.43 745.08,322.63 746.04,322.82 747,323.02 747.96,323.21 748.92,323.4 749.88,323.59 750.84,323.78 751.8,323.97 752.76,324.15 753.72,324.34 754.68,324.53 755.64,324.73 756.6,324.92 757.56,325.1 758.52,325.29 759.48,325.47 760.44,325.65 761.4,325.82 762.36,325.98 763.32,326.15 764.28,326.32 765.24,326.48 766.2,326.64 767.16,326.8 768.12,326.95 769.08,327.09 770.04,327.22 771,327.33 771.96,327.43 772.92,327.52 773.88,327.61 774.84,327.7 775.8,327.78 776.76,327.86 777.72,327.94 778.68,328.01 779.64,328.08 780.6,328.15 781.56,328.21 782.52,328.27 783.48,328.33 784.44,328.38 785.4,328.43 786.36,328.47 787.32,328.51 788.28,328.55 789.24,328.59 790.2,328.63 791.16,328.67 792.12,328.71 793.08,328.75 794.04,328.79 795,328.83 795.96,328.86 796.92,328.9 797.88,328.93 798.84,328.97 799.8,329 800.76,329.04 801.72,329.07 802.68,329.1 803.64,329.13 804.6,329.16 805.56,329.18 806.52,329.21 807.48,329.23 808.44,329.26 809.4,329.28 810.36,329.3 811.32,329.32 812.28,329.34 813.24,329.35 814.2,329.37 815.16,329.38 816.12,329.39 817.08,329.4 818.04,329.41 819,329.41 819.96,329.42 820.92,329.42 821.88,329.42 822.84,329.43 823.8,329.43 824.76,329.43 825.72,329.44 826.68,329.44 827.64,329.44 828.6,329.45 829.56,329.45 830.52,329.45 831.48,329.46 832.44,329.46 833.4,329.46 834.36,329.47 835.32,329.47 836.28,329.47 837.24,329.47 838.2,329.48 839.16,329.48 840.12,329.48 841.08,329.48 842.04,329.49 843,329.49 843.96,329.49 844.92,329.49 845.88,329.5 846.84,329.5 847.8,329.5 848.76,329.5 849.72,329.51 850.68,329.51 851.64,329.51 852.6,329.51 853.56,329.52 854.52,329.52 855.48,329.52 856.44,329.52 857.4,329.52 858.36,329.53 859.32,329.53 860.28,329.53 861.24,329.53 862.2,329.53 863.16,329.54 864.12,329.54 865.08,329.54 866.04,329.54 867,329.54 867.96,329.55 868.92,329.55 869.88,329.55 870.84,329.55 871.8,329.55 872.76,329.55 873.72,329.55 874.68,329.56 875.64,329.56 876.6,329.56 877.56,329.56 878.52,329.56 879.48,329.56 880.44,329.56 881.4,329.57 882.36,329.57 883.32,329.57 884.28,329.57 885.24,329.57 886.2,329.57 887.16,329.57 888.12,329.57 889.08,329.58 890.04,329.58 891,329.58 891.96,329.58 892.92,329.58 893.88,329.58 894.84,329.58 895.8,329.58 896.76,329.58 897.72,329.58 898.68,329.59 899.64,329.59 900.6,329.59 901.56,329.59 902.52,329.59 903.48,329.59 904.44,329.59 905.4,329.59 906.36,329.59 907.32,329.59 908.28,329.59 909.24,329.59 910.2,329.59 911.16,329.59 912.12,329.59 913.08,329.59 914.04,329.6 915,329.6 915.96,329.6 916.92,329.6 917.88,329.6 918.84,329.6 919.8,329.6 920.76,329.6 921.72,329.6 922.68,329.6 923.64,329.6 924.6,329.6 925.56,329.6 926.52,329.6 927.48,329.6 928.44,329.6 929.4,329.6 930.36,329.6 931.32,329.6 932.28,329.6 933.24,329.6 934.2,329.6" stroke="#b02db0" stroke-width="1.9" fill="none" stroke-linejoin="round"/>
<path d="M550.2,323.06 551.16,322.72 552.12,322.33 553.08,321.9 554.04,321.42 555,320.9 555.96,320.3 556.92,319.61 557.88,318.84 558.84,318.01 559.8,317.15 560.76,316.25 561.72,315.3 562.68,314.28 563.64,313.19 564.6,312.02 565.56,310.72 566.52,309.25 567.48,307.62 568.44,305.89 569.4,304.04 570.36,302.05 571.32,299.94 572.28,297.71 573.24,295.36 574.2,292.81 575.16,290.09 576.12,287.29 577.08,284.45 578.04,281.56 579,278.59 579.96,275.59 580.92,272.65 581.88,269.85 582.84,267.03 583.8,263.94 584.76,260.69 585.72,257.24 586.68,253.53 587.64,249.47 588.6,244.88 589.56,239.79 590.52,234.37 591.48,228.71 592.44,222.53 593.4,216.18 594.36,210 595.32,203.63 596.28,197.63 597.24,192.7 598.2,188.38 599.16,184.37 600.12,180.71 601.08,177.45 602.04,174.63 603,172.29 603.96,170.05 604.92,167.87 605.88,165.91 606.84,164.32 607.8,163.26 608.76,162.87 609.72,162.99 610.68,163.33 611.64,163.86 612.6,164.54 613.56,166.47 614.52,170.12 615.48,174.53 616.44,178.71 617.4,182.52 618.36,186.45 619.32,190.48 620.28,194.57 621.24,198.74 622.2,203.06 623.16,207.38 624.12,211.51 625.08,215.48 626.04,219.37 627,223.23 627.96,227.14 628.92,231.24 629.88,235.3 630.84,239.06 631.8,242.28 632.76,245.07 633.72,247.62 634.68,250.07 635.64,252.59 636.6,255.26 637.56,257.93 638.52,260.39 639.48,262.45 640.44,264.21 641.4,265.82 642.36,267.29 643.32,268.68 644.28,270 645.24,271.3 646.2,272.59 647.16,273.82 648.12,275 649.08,276.15 650.04,277.31 651,278.5 651.96,279.65 652.92,280.7 653.88,281.68 654.84,282.63 655.8,283.55 656.76,284.44 657.72,285.32 658.68,286.19 659.64,287.06 660.6,287.94 661.56,288.83 662.52,289.73 663.48,290.63 664.44,291.52 665.4,292.4 666.36,293.27 667.32,294.12 668.28,294.93 669.24,295.72 670.2,296.47 671.16,297.17 672.12,297.86 673.08,298.52 674.04,299.17 675,299.79 675.96,300.4 676.92,300.99 677.88,301.57 678.84,302.13 679.8,302.68 680.76,303.21 681.72,303.74 682.68,304.24 683.64,304.74 684.6,305.22 685.56,305.69 686.52,306.16 687.48,306.61 688.44,307.05 689.4,307.49 690.36,307.92 691.32,308.34 692.28,308.76 693.24,309.17 694.2,309.58 695.16,309.98 696.12,310.38 697.08,310.77 698.04,311.15 699,311.52 699.96,311.89 700.92,312.25 701.88,312.59 702.84,312.93 703.8,313.26 704.76,313.59 705.72,313.91 706.68,314.22 707.64,314.52 708.6,314.82 709.56,315.12 710.52,315.41 711.48,315.7 712.44,315.98 713.4,316.27 714.36,316.55 715.32,316.83 716.28,317.1 717.24,317.37 718.2,317.64 719.16,317.89 720.12,318.15 721.08,318.39 722.04,318.63 723,318.85 723.96,319.07 724.92,319.28 725.88,319.48 726.84,319.68 727.8,319.87 728.76,320.06 729.72,320.25 730.68,320.44 731.64,320.63 732.6,320.82 733.56,321.01 734.52,321.2 735.48,321.39 736.44,321.57 737.4,321.76 738.36,321.95 739.32,322.13 740.28,322.31 741.24,322.5 742.2,322.68 743.16,322.86 744.12,323.04 745.08,323.22 746.04,323.39 747,323.57 747.96,323.74 748.92,323.91 749.88,324.09 750.84,324.26 751.8,324.43 752.76,324.6 753.72,324.77 754.68,324.94 755.64,325.11 756.6,325.29 757.56,325.46 758.52,325.63 759.48,325.79 760.44,325.96 761.4,326.11 762.36,326.27 763.32,326.41 764.28,326.57 765.24,326.72 766.2,326.86 767.16,327.01 768.12,327.15 769.08,327.28 770.04,327.4 771,327.5 771.96,327.6 772.92,327.69 773.88,327.77 774.84,327.85 775.8,327.92 776.76,328 777.72,328.07 778.68,328.14 779.64,328.2 780.6,328.26 781.56,328.32 782.52,328.37 783.48,328.43 784.44,328.47 785.4,328.52 786.36,328.56 787.32,328.6 788.28,328.64 789.24,328.67 790.2,328.71 791.16,328.75 792.12,328.78 793.08,328.82 794.04,328.85 795,328.89 795.96,328.92 796.92,328.95 797.88,328.98 798.84,329.02 799.8,329.05 800.76,329.08 801.72,329.11 802.68,329.13 803.64,329.16 804.6,329.19 805.56,329.21 806.52,329.24 807.48,329.26 808.44,329.28 809.4,329.3 810.36,329.32 811.32,329.34 812.28,329.36 813.24,329.37 814.2,329.38 815.16,329.4 816.12,329.41 817.08,329.42 818.04,329.42 819,329.43 819.96,329.43 820.92,329.44 821.88,329.44 822.84,329.44 823.8,329.45 824.76,329.45 825.72,329.45 826.68,329.45 827.64,329.46 828.6,329.46 829.56,329.46 830.52,329.47 831.48,329.47 832.44,329.47 833.4,329.47 834.36,329.48 835.32,329.48 836.28,329.48 837.24,329.48 838.2,329.49 839.16,329.49 840.12,329.49 841.08,329.49 842.04,329.5 843,329.5 843.96,329.5 844.92,329.5 845.88,329.51 846.84,329.51 847.8,329.51 848.76,329.51 849.72,329.51 850.68,329.52 851.64,329.52 852.6,329.52 853.56,329.52 854.52,329.52 855.48,329.53 856.44,329.53 857.4,329.53 858.36,329.53 859.32,329.53 860.28,329.54 861.24,329.54 862.2,329.54 863.16,329.54 864.12,329.54 865.08,329.54 866.04,329.55 867,329.55 867.96,329.55 868.92,329.55 869.88,329.55 870.84,329.55 871.8,329.56 872.76,329.56 873.72,329.56 874.68,329.56 875.64,329.56 876.6,329.56 877.56,329.56 878.52,329.57 879.48,329.57 880.44,329.57 881.4,329.57 882.36,329.57 883.32,329.57 884.28,329.57 885.24,329.57 886.2,329.57 887.16,329.58 888.12,329.58 889.08,329.58 890.04,329.58 891,329.58 891.96,329.58 892.92,329.58 893.88,329.58 894.84,329.58 895.8,329.58 896.76,329.58 897.72,329.59 898.68,329.59 899.64,329.59 900.6,329.59 901.56,329.59 902.52,329.59 903.48,329.59 904.44,329.59 905.4,329.59 906.36,329.59 907.32,329.59 908.28,329.59 909.24,329.59 910.2,329.59 911.16,329.59 912.12,329.59 913.08,329.6 914.04,329.6 915,329.6 915.96,329.6 916.92,329.6 917.88,329.6 918.84,329.6 919.8,329.6 920.76,329.6 921.72,329.6 922.68,329.6 923.64,329.6 924.6,329.6 925.56,329.6 926.52,329.6 927.48,329.6 928.44,329.6 929.4,329.6 930.36,329.6 931.32,329.6 932.28,329.6 933.24,329.6 934.2,329.6" stroke="#a31c1c" stroke-width="1.9" fill="none" stroke-linejoin="round"/>
<path d="M550.2,321.47 551.16,321.02 552.12,320.51 553.08,319.96 554.04,319.35 555,318.66 555.96,317.85 556.92,316.95 557.88,315.99 558.84,314.98 559.8,313.94 560.76,312.83 561.72,311.66 562.68,310.39 563.64,309.03 564.6,307.55 565.56,305.85 566.52,303.97 567.48,301.97 568.44,299.83 569.4,297.54 570.36,295.1 571.32,292.52 572.28,289.81 573.24,286.88 574.2,283.75 575.16,280.49 576.12,277.18 577.08,273.84 578.04,270.38 579,266.87 579.96,263.41 580.92,260.09 581.88,256.84 582.84,253.34 583.8,249.59 584.76,245.65 585.72,241.44 586.68,236.85 587.64,231.74 588.6,226 589.56,219.8 590.52,213.33 591.48,206.36 592.44,198.95 593.4,191.65 594.36,184.31 595.32,176.99 596.28,170.57 597.24,165.33 598.2,160.46 599.16,155.97 600.12,151.92 601.08,148.35 602.04,145.33 603,142.71 603.96,140.1 604.92,137.65 605.88,135.52 606.84,133.9 607.8,132.96 608.76,132.82 609.72,133.07 610.68,133.56 611.64,134.26 612.6,135.36 613.56,138.59 614.52,143.4 615.48,148.63 616.44,153.27 617.4,157.83 618.36,162.52 619.32,167.31 620.28,172.16 621.24,177.16 622.2,182.29 623.16,187.32 624.12,192.1 625.08,196.74 626.04,201.31 627,205.88 627.96,210.58 628.92,215.44 629.88,220.13 630.84,224.34 631.8,227.9 632.76,231.05 633.72,233.99 634.68,236.89 635.64,239.94 636.6,243.12 637.56,246.21 638.52,248.95 639.48,251.2 640.44,253.2 641.4,255.03 642.36,256.72 643.32,258.32 644.28,259.86 645.24,261.39 646.2,262.9 647.16,264.32 648.12,265.7 649.08,267.06 650.04,268.45 651,269.84 651.96,271.15 652.92,272.35 653.88,273.49 654.84,274.6 655.8,275.66 656.76,276.71 657.72,277.74 658.68,278.77 659.64,279.8 660.6,280.84 661.56,281.9 662.52,282.96 663.48,284.02 664.44,285.07 665.4,286.11 666.36,287.12 667.32,288.11 668.28,289.06 669.24,289.97 670.2,290.83 671.16,291.65 672.12,292.45 673.08,293.22 674.04,293.98 675,294.71 675.96,295.41 676.92,296.11 677.88,296.78 678.84,297.43 679.8,298.08 680.76,298.7 681.72,299.31 682.68,299.91 683.64,300.49 684.6,301.05 685.56,301.6 686.52,302.14 687.48,302.67 688.44,303.19 689.4,303.7 690.36,304.21 691.32,304.71 692.28,305.2 693.24,305.68 694.2,306.16 695.16,306.63 696.12,307.1 697.08,307.55 698.04,308 699,308.44 699.96,308.86 700.92,309.28 701.88,309.69 702.84,310.08 703.8,310.47 704.76,310.85 705.72,311.22 706.68,311.59 707.64,311.95 708.6,312.3 709.56,312.65 710.52,312.99 711.48,313.33 712.44,313.66 713.4,314 714.36,314.33 715.32,314.65 716.28,314.97 717.24,315.29 718.2,315.6 719.16,315.9 720.12,316.2 721.08,316.48 722.04,316.75 723,317.02 723.96,317.27 724.92,317.51 725.88,317.75 726.84,317.98 727.8,318.21 728.76,318.43 729.72,318.66 730.68,318.88 731.64,319.1 732.6,319.32 733.56,319.55 734.52,319.77 735.48,319.99 736.44,320.21 737.4,320.43 738.36,320.65 739.32,320.87 740.28,321.09 741.24,321.3 742.2,321.52 743.16,321.73 744.12,321.94 745.08,322.15 746.04,322.35 747,322.56 747.96,322.77 748.92,322.97 749.88,323.17 750.84,323.37 751.8,323.58 752.76,323.78 753.72,323.98 754.68,324.18 755.64,324.39 756.6,324.59 757.56,324.79 758.52,324.99 759.48,325.19 760.44,325.37 761.4,325.56 762.36,325.73 763.32,325.91 764.28,326.09 765.24,326.27 766.2,326.44 767.16,326.61 768.12,326.77 769.08,326.91 770.04,327.05 771,327.17 771.96,327.28 772.92,327.38 773.88,327.48 774.84,327.57 775.8,327.66 776.76,327.74 777.72,327.82 778.68,327.9 779.64,327.98 780.6,328.05 781.56,328.11 782.52,328.18 783.48,328.24 784.44,328.29 785.4,328.34 786.36,328.39 787.32,328.44 788.28,328.48 789.24,328.52 790.2,328.57 791.16,328.61 792.12,328.65 793.08,328.69 794.04,328.73 795,328.77 795.96,328.81 796.92,328.85 797.88,328.89 798.84,328.93 799.8,328.96 800.76,329 801.72,329.03 802.68,329.06 803.64,329.09 804.6,329.12 805.56,329.15 806.52,329.18 807.48,329.21 808.44,329.23 809.4,329.26 810.36,329.28 811.32,329.3 812.28,329.32 813.24,329.34 814.2,329.35 815.16,329.36 816.12,329.38 817.08,329.39 818.04,329.39 819,329.4 819.96,329.4 820.92,329.41 821.88,329.41 822.84,329.42 823.8,329.42 824.76,329.42 825.72,329.43 826.68,329.43 827.64,329.43 828.6,329.44 829.56,329.44 830.52,329.44 831.48,329.45 832.44,329.45 833.4,329.45 834.36,329.46 835.32,329.46 836.28,329.46 837.24,329.46 838.2,329.47 839.16,329.47 840.12,329.47 841.08,329.48 842.04,329.48 843,329.48 843.96,329.48 844.92,329.49 845.88,329.49 846.84,329.49 847.8,329.5 848.76,329.5 849.72,329.5 850.68,329.5 851.64,329.51 852.6,329.51 853.56,329.51 854.52,329.51 855.48,329.51 856.44,329.52 857.4,329.52 858.36,329.52 859.32,329.52 860.28,329.53 861.24,329.53 862.2,329.53 863.16,329.53 864.12,329.53 865.08,329.54 866.04,329.54 867,329.54 867.96,329.54 868.92,329.54 869.88,329.54 870.84,329.55 871.8,329.55 872.76,329.55 873.72,329.55 874.68,329.55 875.64,329.55 876.6,329.56 877.56,329.56 878.52,329.56 879.48,329.56 880.44,329.56 881.4,329.56 882.36,329.57 883.32,329.57 884.28,329.57 885.24,329.57 886.2,329.57 887.16,329.57 888.12,329.57 889.08,329.57 890.04,329.58 891,329.58 891.96,329.58 892.92,329.58 893.88,329.58 894.84,329.58 895.8,329.58 896.76,329.58 897.72,329.58 898.68,329.58 899.64,329.59 900.6,329.59 901.56,329.59 902.52,329.59 903.48,329.59 904.44,329.59 905.4,329.59 906.36,329.59 907.32,329.59 908.28,329.59 909.24,329.59 910.2,329.59 911.16,329.59 912.12,329.59 913.08,329.59 914.04,329.6 915,329.6 915.96,329.6 916.92,329.6 917.88,329.6 918.84,329.6 919.8,329.6 920.76,329.6 921.72,329.6 922.68,329.6 923.64,329.6 924.6,329.6 925.56,329.6 926.52,329.6 927.48,329.6 928.44,329.6 929.4,329.6 930.36,329.6 931.32,329.6 932.28,329.6 933.24,329.6 934.2,329.6" stroke="#9c9c14" stroke-width="1.9" fill="none" stroke-linejoin="round"/>
<path d="M550.2,322.1 551.16,321.7 552.12,321.27 553.08,320.8 554.04,320.28 555,319.69 555.96,319.05 556.92,318.33 557.88,317.49 558.84,316.52 559.8,315.47 560.76,314.36 561.72,313.2 562.68,311.98 563.64,310.68 564.6,309.27 565.56,307.76 566.52,306.1 567.48,304.19 568.44,302.08 569.4,299.82 570.36,297.4 571.32,294.79 572.28,292.01 573.24,289.07 574.2,285.96 575.16,282.57 576.12,278.98 577.08,275.28 578.04,271.56 579,267.73 579.96,263.81 580.92,259.9 581.88,256.14 582.84,252.5 583.8,248.62 584.76,244.43 585.72,240.02 586.68,235.29 587.64,230.11 588.6,224.28 589.56,217.73 590.52,210.69 591.48,203.34 592.44,195.29 593.4,186.96 594.36,178.86 595.32,170.52 596.28,162.74 597.24,156.45 598.2,150.85 599.16,145.68 600.12,141.01 601.08,136.89 602.04,133.41 603,130.45 603.96,127.52 604.92,124.77 605.88,122.41 606.84,120.67 607.8,119.75 608.76,119.72 609.72,120.04 610.68,120.61 611.64,121.4 612.6,122.89 613.56,126.77 614.52,132.09 615.48,137.61 616.44,142.47 617.4,147.36 618.36,152.39 619.32,157.51 620.28,162.7 621.24,168.08 622.2,173.55 623.16,178.86 624.12,183.93 625.08,188.86 626.04,193.72 627,198.6 627.96,203.67 628.92,208.84 629.88,213.77 630.84,218.12 631.8,221.81 632.76,225.11 633.72,228.23 634.68,231.34 635.64,234.63 636.6,238.03 637.56,241.26 638.52,244.08 639.48,246.41 640.44,248.5 641.4,250.42 642.36,252.2 643.32,253.9 644.28,255.54 645.24,257.17 646.2,258.76 647.16,260.26 648.12,261.72 649.08,263.18 650.04,264.66 651,266.14 651.96,267.51 652.92,268.78 653.88,269.99 654.84,271.16 655.8,272.29 656.76,273.4 657.72,274.5 658.68,275.59 659.64,276.7 660.6,277.81 661.56,278.94 662.52,280.08 663.48,281.2 664.44,282.32 665.4,283.42 666.36,284.5 667.32,285.54 668.28,286.55 669.24,287.51 670.2,288.42 671.16,289.29 672.12,290.14 673.08,290.96 674.04,291.76 675,292.53 675.96,293.28 676.92,294.02 677.88,294.73 678.84,295.43 679.8,296.11 680.76,296.77 681.72,297.42 682.68,298.05 683.64,298.66 684.6,299.26 685.56,299.85 686.52,300.42 687.48,300.99 688.44,301.54 689.4,302.08 690.36,302.62 691.32,303.15 692.28,303.67 693.24,304.19 694.2,304.7 695.16,305.2 696.12,305.69 697.08,306.18 698.04,306.65 699,307.12 699.96,307.57 700.92,308.01 701.88,308.44 702.84,308.86 703.8,309.28 704.76,309.68 705.72,310.08 706.68,310.46 707.64,310.84 708.6,311.22 709.56,311.59 710.52,311.95 711.48,312.31 712.44,312.67 713.4,313.03 714.36,313.38 715.32,313.72 716.28,314.07 717.24,314.4 718.2,314.73 719.16,315.05 720.12,315.36 721.08,315.66 722.04,315.95 723,316.23 723.96,316.5 724.92,316.76 725.88,317.01 726.84,317.26 727.8,317.5 728.76,317.74 729.72,317.97 730.68,318.21 731.64,318.44 732.6,318.68 733.56,318.92 734.52,319.16 735.48,319.4 736.44,319.63 737.4,319.87 738.36,320.1 739.32,320.33 740.28,320.56 741.24,320.79 742.2,321.02 743.16,321.25 744.12,321.47 745.08,321.69 746.04,321.92 747,322.13 747.96,322.35 748.92,322.57 749.88,322.79 750.84,323 751.8,323.22 752.76,323.43 753.72,323.65 754.68,323.87 755.64,324.08 756.6,324.3 757.56,324.51 758.52,324.73 759.48,324.93 760.44,325.13 761.4,325.33 762.36,325.51 763.32,325.7 764.28,325.89 765.24,326.08 766.2,326.26 767.16,326.44 768.12,326.61 769.08,326.77 770.04,326.91 771,327.04 771.96,327.15 772.92,327.25 773.88,327.35 774.84,327.45 775.8,327.55 776.76,327.64 777.72,327.72 778.68,327.81 779.64,327.88 780.6,327.96 781.56,328.03 782.52,328.1 783.48,328.16 784.44,328.22 785.4,328.27 786.36,328.32 787.32,328.37 788.28,328.41 789.24,328.46 790.2,328.51 791.16,328.55 792.12,328.6 793.08,328.64 794.04,328.68 795,328.73 795.96,328.77 796.92,328.81 797.88,328.85 798.84,328.89 799.8,328.93 800.76,328.96 801.72,329 802.68,329.03 803.64,329.07 804.6,329.1 805.56,329.13 806.52,329.16 807.48,329.19 808.44,329.21 809.4,329.24 810.36,329.26 811.32,329.28 812.28,329.3 813.24,329.32 814.2,329.34 815.16,329.35 816.12,329.36 817.08,329.37 818.04,329.38 819,329.39 819.96,329.39 820.92,329.4 821.88,329.4 822.84,329.4 823.8,329.41 824.76,329.41 825.72,329.42 826.68,329.42 827.64,329.42 828.6,329.43 829.56,329.43 830.52,329.43 831.48,329.44 832.44,329.44 833.4,329.44 834.36,329.45 835.32,329.45 836.28,329.45 837.24,329.46 838.2,329.46 839.16,329.46 840.12,329.47 841.08,329.47 842.04,329.47 843,329.47 843.96,329.48 844.92,329.48 845.88,329.48 846.84,329.49 847.8,329.49 848.76,329.49 849.72,329.49 850.68,329.5 851.64,329.5 852.6,329.5 853.56,329.5 854.52,329.51 855.48,329.51 856.44,329.51 857.4,329.51 858.36,329.52 859.32,329.52 860.28,329.52 861.24,329.52 862.2,329.53 863.16,329.53 864.12,329.53 865.08,329.53 866.04,329.53 867,329.54 867.96,329.54 868.92,329.54 869.88,329.54 870.84,329.54 871.8,329.55 872.76,329.55 873.72,329.55 874.68,329.55 875.64,329.55 876.6,329.55 877.56,329.56 878.52,329.56 879.48,329.56 880.44,329.56 881.4,329.56 882.36,329.56 883.32,329.56 884.28,329.57 885.24,329.57 886.2,329.57 887.16,329.57 888.12,329.57 889.08,329.57 890.04,329.57 891,329.57 891.96,329.58 892.92,329.58 893.88,329.58 894.84,329.58 895.8,329.58 896.76,329.58 897.72,329.58 898.68,329.58 899.64,329.58 900.6,329.59 901.56,329.59 902.52,329.59 903.48,329.59 904.44,329.59 905.4,329.59 906.36,329.59 907.32,329.59 908.28,329.59 909.24,329.59 910.2,329.59 911.16,329.59 912.12,329.59 913.08,329.59 914.04,329.59 915,329.6 915.96,329.6 916.92,329.6 917.88,329.6 918.84,329.6 919.8,329.6 920.76,329.6 921.72,329.6 922.68,329.6 923.64,329.6 924.6,329.6 925.56,329.6 926.52,329.6 927.48,329.6 928.44,329.6 929.4,329.6 930.36,329.6 931.32,329.6 932.28,329.6 933.24,329.6 934.2,329.6" stroke="#3a8ad0" stroke-width="1.9" fill="none" stroke-linejoin="round"/>
<path d="M550.2,321.77 551.16,321.36 552.12,320.91 553.08,320.41 554.04,319.86 555,319.24 555.96,318.56 556.92,317.78 557.88,316.88 558.84,315.88 559.8,314.82 560.76,313.73 561.72,312.58 562.68,311.35 563.64,310.04 564.6,308.64 565.56,307.11 566.52,305.4 567.48,303.46 568.44,301.36 569.4,299.12 570.36,296.72 571.32,294.15 572.28,291.42 573.24,288.55 574.2,285.48 575.16,282.17 576.12,278.68 577.08,275.11 578.04,271.52 579,267.82 579.96,264.04 580.92,260.28 581.88,256.66 582.84,253.16 583.8,249.43 584.76,245.41 585.72,241.18 586.68,236.66 587.64,231.74 588.6,226.25 589.56,220.07 590.52,213.38 591.48,206.39 592.44,198.83 593.4,190.83 594.36,182.97 595.32,175.01 596.28,167.17 597.24,160.45 598.2,154.89 599.16,149.7 600.12,144.95 601.08,140.68 602.04,136.97 603,133.87 603.96,131.05 604.92,128.26 605.88,125.71 606.84,123.58 607.8,122.08 608.76,121.4 609.72,121.47 610.68,121.85 611.64,122.46 612.6,123.27 613.56,125.18 614.52,129.41 615.48,134.82 616.44,140.19 617.4,144.95 618.36,149.84 619.32,154.84 620.28,159.93 621.24,165.11 622.2,170.49 623.16,175.9 624.12,181.11 625.08,186.1 626.04,190.97 627,195.79 627.96,200.65 628.92,205.73 629.88,210.84 630.84,215.64 631.8,219.8 632.76,223.37 633.72,226.59 634.68,229.66 635.64,232.78 636.6,236.08 637.56,239.44 638.52,242.58 639.48,245.27 640.44,247.52 641.4,249.56 642.36,251.43 643.32,253.18 644.28,254.84 645.24,256.47 646.2,258.09 647.16,259.64 648.12,261.12 649.08,262.56 650.04,264.01 651,265.49 651.96,266.94 652.92,268.27 653.88,269.52 654.84,270.71 655.8,271.86 656.76,272.98 657.72,274.08 658.68,275.16 659.64,276.25 660.6,277.35 661.56,278.46 662.52,279.58 663.48,280.7 664.44,281.82 665.4,282.93 666.36,284.02 667.32,285.08 668.28,286.11 669.24,287.1 670.2,288.04 671.16,288.93 672.12,289.79 673.08,290.62 674.04,291.43 675,292.22 675.96,292.98 676.92,293.73 677.88,294.45 678.84,295.15 679.8,295.84 680.76,296.51 681.72,297.17 682.68,297.81 683.64,298.43 684.6,299.04 685.56,299.63 686.52,300.21 687.48,300.77 688.44,301.33 689.4,301.88 690.36,302.41 691.32,302.94 692.28,303.47 693.24,303.99 694.2,304.5 695.16,305 696.12,305.5 697.08,305.99 698.04,306.46 699,306.93 699.96,307.39 700.92,307.84 701.88,308.28 702.84,308.7 703.8,309.12 704.76,309.52 705.72,309.92 706.68,310.31 707.64,310.7 708.6,311.07 709.56,311.44 710.52,311.81 711.48,312.17 712.44,312.53 713.4,312.88 714.36,313.23 715.32,313.58 716.28,313.92 717.24,314.26 718.2,314.59 719.16,314.92 720.12,315.23 721.08,315.54 722.04,315.84 723,316.12 723.96,316.4 724.92,316.66 725.88,316.91 726.84,317.16 727.8,317.41 728.76,317.64 729.72,317.88 730.68,318.11 731.64,318.35 732.6,318.58 733.56,318.82 734.52,319.06 735.48,319.29 736.44,319.53 737.4,319.76 738.36,320 739.32,320.23 740.28,320.46 741.24,320.68 742.2,320.91 743.16,321.14 744.12,321.36 745.08,321.58 746.04,321.8 747,322.02 747.96,322.24 748.92,322.46 749.88,322.67 750.84,322.88 751.8,323.1 752.76,323.31 753.72,323.52 754.68,323.74 755.64,323.96 756.6,324.17 757.56,324.39 758.52,324.6 759.48,324.81 760.44,325.01 761.4,325.21 762.36,325.4 763.32,325.58 764.28,325.77 765.24,325.96 766.2,326.15 767.16,326.33 768.12,326.5 769.08,326.67 770.04,326.82 771,326.96 771.96,327.08 772.92,327.19 773.88,327.29 774.84,327.39 775.8,327.49 776.76,327.58 777.72,327.67 778.68,327.76 779.64,327.84 780.6,327.91 781.56,327.99 782.52,328.06 783.48,328.12 784.44,328.18 785.4,328.24 786.36,328.29 787.32,328.34 788.28,328.39 789.24,328.43 790.2,328.48 791.16,328.52 792.12,328.57 793.08,328.61 794.04,328.66 795,328.7 795.96,328.74 796.92,328.78 797.88,328.82 798.84,328.86 799.8,328.9 800.76,328.94 801.72,328.98 802.68,329.01 803.64,329.05 804.6,329.08 805.56,329.11 806.52,329.14 807.48,329.17 808.44,329.2 809.4,329.22 810.36,329.25 811.32,329.27 812.28,329.29 813.24,329.31 814.2,329.33 815.16,329.34 816.12,329.36 817.08,329.37 818.04,329.38 819,329.39 819.96,329.39 820.92,329.39 821.88,329.4 822.84,329.4 823.8,329.41 824.76,329.41 825.72,329.41 826.68,329.42 827.64,329.42 828.6,329.42 829.56,329.43 830.52,329.43 831.48,329.44 832.44,329.44 833.4,329.44 834.36,329.45 835.32,329.45 836.28,329.45 837.24,329.46 838.2,329.46 839.16,329.46 840.12,329.46 841.08,329.47 842.04,329.47 843,329.47 843.96,329.48 844.92,329.48 845.88,329.48 846.84,329.48 847.8,329.49 848.76,329.49 849.72,329.49 850.68,329.5 851.64,329.5 852.6,329.5 853.56,329.5 854.52,329.51 855.48,329.51 856.44,329.51 857.4,329.51 858.36,329.52 859.32,329.52 860.28,329.52 861.24,329.52 862.2,329.52 863.16,329.53 864.12,329.53 865.08,329.53 866.04,329.53 867,329.53 867.96,329.54 868.92,329.54 869.88,329.54 870.84,329.54 871.8,329.54 872.76,329.55 873.72,329.55 874.68,329.55 875.64,329.55 876.6,329.55 877.56,329.55 878.52,329.56 879.48,329.56 880.44,329.56 881.4,329.56 882.36,329.56 883.32,329.56 884.28,329.57 885.24,329.57 886.2,329.57 887.16,329.57 888.12,329.57 889.08,329.57 890.04,329.57 891,329.57 891.96,329.58 892.92,329.58 893.88,329.58 894.84,329.58 895.8,329.58 896.76,329.58 897.72,329.58 898.68,329.58 899.64,329.58 900.6,329.58 901.56,329.59 902.52,329.59 903.48,329.59 904.44,329.59 905.4,329.59 906.36,329.59 907.32,329.59 908.28,329.59 909.24,329.59 910.2,329.59 911.16,329.59 912.12,329.59 913.08,329.59 914.04,329.59 915,329.59 915.96,329.6 916.92,329.6 917.88,329.6 918.84,329.6 919.8,329.6 920.76,329.6 921.72,329.6 922.68,329.6 923.64,329.6 924.6,329.6 925.56,329.6 926.52,329.6 927.48,329.6 928.44,329.6 929.4,329.6 930.36,329.6 931.32,329.6 932.28,329.6 933.24,329.6 934.2,329.6" stroke="#14acac" stroke-width="1.9" fill="none" stroke-linejoin="round"/>
</g></svg>
<path d="M848.1,80H876.5" stroke="#1a1a1a" stroke-width="1.9"/>
<text x="879.9" y="84.1" font-size="12.2" text-anchor="start">3.78</text>
<path d="M848.1,95H876.5" stroke="#ff3030" stroke-width="1.9"/>
<text x="879.9" y="99.1" font-size="12.2" text-anchor="start">4.10</text>
<path d="M848.1,110H876.5" stroke="#2b2bff" stroke-width="1.9"/>
<text x="879.9" y="114.1" font-size="12.2" text-anchor="start">4.35</text>
<path d="M848.1,125H876.5" stroke="#ff2bff" stroke-width="1.9"/>
<text x="879.9" y="129.1" font-size="12.2" text-anchor="start">4.56</text>
<path d="M848.1,140H876.5" stroke="#0a8a2a" stroke-width="1.9"/>
<text x="879.9" y="144.1" font-size="12.2" text-anchor="start">4.78</text>
<path d="M848.1,155H876.5" stroke="#26268e" stroke-width="1.9"/>
<text x="879.9" y="159.1" font-size="12.2" text-anchor="start">5.02</text>
<path d="M848.1,170H876.5" stroke="#a03cff" stroke-width="1.9"/>
<text x="879.9" y="174.1" font-size="12.2" text-anchor="start">5.33</text>
<path d="M848.1,185H876.5" stroke="#b02db0" stroke-width="1.9"/>
<text x="879.9" y="189.1" font-size="12.2" text-anchor="start">5.72</text>
<path d="M848.1,200H876.5" stroke="#a31c1c" stroke-width="1.9"/>
<text x="879.9" y="204.1" font-size="12.2" text-anchor="start">6.37</text>
<path d="M848.1,215H876.5" stroke="#9c9c14" stroke-width="1.9"/>
<text x="879.9" y="219.1" font-size="12.2" text-anchor="start">6.59</text>
<path d="M848.1,230H876.5" stroke="#3a8ad0" stroke-width="1.9"/>
<text x="879.9" y="234.1" font-size="12.2" text-anchor="start">7.24</text>
<path d="M848.1,245H876.5" stroke="#14acac" stroke-width="1.9"/>
<text x="879.9" y="249.1" font-size="12.2" text-anchor="start">7.54</text>
<path d="M611.3,324.2L609.4,108.5" stroke="#ff1a1a" stroke-width="1.5"/>
<path d="M604.8,108.9L614,108.9L609.6,101.3Z" fill="#ff1a1a"/>
<rect x="86" y="419.9" width="387.6" height="287.9" fill="none" stroke="#474747" stroke-width="1.7"/>
<path d="M86,707.8v5.8 M107.53,707.8v3.3 M129.07,707.8v5.8 M150.6,707.8v3.3 M172.13,707.8v5.8 M193.67,707.8v3.3 M215.2,707.8v5.8 M236.73,707.8v3.3 M258.27,707.8v5.8 M279.8,707.8v3.3 M301.33,707.8v5.8 M322.87,707.8v3.3 M344.4,707.8v5.8 M365.93,707.8v3.3 M387.47,707.8v5.8 M409,707.8v3.3 M430.53,707.8v5.8 M452.07,707.8v3.3 M473.6,707.8v5.8" stroke="#474747" stroke-width="1.5" fill="none"/>
<text x="86" y="727.8" font-size="13.8" text-anchor="middle">3.5</text>
<text x="129.07" y="727.8" font-size="13.8" text-anchor="middle">4.0</text>
<text x="172.13" y="727.8" font-size="13.8" text-anchor="middle">4.5</text>
<text x="215.2" y="727.8" font-size="13.8" text-anchor="middle">5.0</text>
<text x="258.27" y="727.8" font-size="13.8" text-anchor="middle">5.5</text>
<text x="301.33" y="727.8" font-size="13.8" text-anchor="middle">6.0</text>
<text x="344.4" y="727.8" font-size="13.8" text-anchor="middle">6.5</text>
<text x="387.47" y="727.8" font-size="13.8" text-anchor="middle">7.0</text>
<text x="430.53" y="727.8" font-size="13.8" text-anchor="middle">7.5</text>
<text x="473.6" y="727.8" font-size="13.8" text-anchor="middle">8.0</text>
<path d="M86,707.8h-5.8 M86,679.01h-3.3 M86,650.22h-5.8 M86,621.43h-3.3 M86,592.64h-5.8 M86,563.85h-3.3 M86,535.06h-5.8 M86,506.27h-3.3 M86,477.48h-5.8 M86,448.69h-3.3 M86,419.9h-5.8" stroke="#474747" stroke-width="1.5" fill="none"/>
<text x="77" y="711.9" font-size="13.8" text-anchor="end">0.0</text>
<text x="77" y="654.32" font-size="13.8" text-anchor="end">8.0M</text>
<text x="77" y="596.74" font-size="13.8" text-anchor="end">16.0M</text>
<text x="77" y="539.16" font-size="13.8" text-anchor="end">24.0M</text>
<text x="77" y="481.58" font-size="13.8" text-anchor="end">32.0M</text>
<text x="77" y="424" font-size="13.8" text-anchor="end">40.0M</text>
<text x="279.8" y="747.2" font-size="16.25" text-anchor="middle">pH values</text>
<text transform="translate(31.1,568) rotate(-90)" font-size="16.25" text-anchor="middle">Fluorescence intensity</text>
<circle cx="110.12" cy="693.4" r="3.2" fill="#000"/>
<circle cx="137.68" cy="665.33" r="3.2" fill="#000"/>
<circle cx="159.21" cy="642.09" r="3.2" fill="#000"/>
<circle cx="177.3" cy="630.71" r="3.2" fill="#000"/>
<circle cx="196.25" cy="598.69" r="3.2" fill="#000"/>
<circle cx="216.92" cy="581.84" r="3.2" fill="#000"/>
<circle cx="243.62" cy="542.47" r="3.2" fill="#000"/>
<circle cx="277.22" cy="526.78" r="3.2" fill="#000"/>
<circle cx="333.2" cy="495.91" r="3.2" fill="#000"/>
<circle cx="352.15" cy="483.02" r="3.2" fill="#000"/>
<circle cx="408.14" cy="469.13" r="3.2" fill="#000"/>
<circle cx="433.98" cy="472.01" r="3.2" fill="#000"/>
<rect x="551.3" y="419.7" width="388.5" height="288.7" fill="none" stroke="#474747" stroke-width="1.7"/>
<path d="M551.3,708.4v5.8 M572.88,708.4v3.3 M594.47,708.4v5.8 M616.05,708.4v3.3 M637.63,708.4v5.8 M659.22,708.4v3.3 M680.8,708.4v5.8 M702.38,708.4v3.3 M723.97,708.4v5.8 M745.55,708.4v3.3 M767.13,708.4v5.8 M788.72,708.4v3.3 M810.3,708.4v5.8 M831.88,708.4v3.3 M853.47,708.4v5.8 M875.05,708.4v3.3 M896.63,708.4v5.8 M918.22,708.4v3.3 M939.8,708.4v5.8" stroke="#474747" stroke-width="1.5" fill="none"/>
<text x="551.3" y="728.6" font-size="13.8" text-anchor="middle">3.5</text>
<text x="594.47" y="728.6" font-size="13.8" text-anchor="middle">4.0</text>
<text x="637.63" y="728.6" font-size="13.8" text-anchor="middle">4.5</text>
<text x="680.8" y="728.6" font-size="13.8" text-anchor="middle">5.0</text>
<text x="723.97" y="728.6" font-size="13.8" text-anchor="middle">5.5</text>
<text x="767.13" y="728.6" font-size="13.8" text-anchor="middle">6.0</text>
<text x="810.3" y="728.6" font-size="13.8" text-anchor="middle">6.5</text>
<text x="853.47" y="728.6" font-size="13.8" text-anchor="middle">7.0</text>
<text x="896.63" y="728.6" font-size="13.8" text-anchor="middle">7.5</text>
<text x="939.8" y="728.6" font-size="13.8" text-anchor="middle">8.0</text>
<path d="M551.3,708.4h-5.8 M551.3,679.53h-3.3 M551.3,650.66h-5.8 M551.3,621.79h-3.3 M551.3,592.92h-5.8 M551.3,564.05h-3.3 M551.3,535.18h-5.8 M551.3,506.31h-3.3 M551.3,477.44h-5.8 M551.3,448.57h-3.3 M551.3,419.7h-5.8" stroke="#474747" stroke-width="1.5" fill="none"/>
<text x="542" y="712.5" font-size="13.8" text-anchor="end">0.0</text>
<text x="542" y="654.76" font-size="13.8" text-anchor="end">8.0M</text>
<text x="542" y="597.02" font-size="13.8" text-anchor="end">16.0M</text>
<text x="542" y="539.28" font-size="13.8" text-anchor="end">24.0M</text>
<text x="542" y="481.54" font-size="13.8" text-anchor="end">32.0M</text>
<text x="542" y="423.8" font-size="13.8" text-anchor="end">40.0M</text>
<text x="745.55" y="747.8" font-size="16.25" text-anchor="middle">pH values</text>
<text transform="translate(498.6,568) rotate(-90)" font-size="16.25" text-anchor="middle">Fluorescence intensity</text>
<rect x="572.67" y="691.17" width="5.6" height="5.6" fill="#000"/>
<rect x="600.3" y="663.02" width="5.6" height="5.6" fill="#000"/>
<rect x="621.88" y="639.7" width="5.6" height="5.6" fill="#000"/>
<rect x="640.01" y="628.3" width="5.6" height="5.6" fill="#000"/>
<rect x="659.01" y="596.18" width="5.6" height="5.6" fill="#000"/>
<rect x="679.73" y="579.29" width="5.6" height="5.6" fill="#000"/>
<rect x="706.49" y="539.81" width="5.6" height="5.6" fill="#000"/>
<circle cx="742.96" cy="526.88" r="3.2" fill="#000"/>
<circle cx="799.08" cy="495.92" r="3.2" fill="#000"/>
<circle cx="818.07" cy="483" r="3.2" fill="#000"/>
<circle cx="874.19" cy="469.07" r="3.2" fill="#000"/>
<circle cx="900.09" cy="471.95" r="3.2" fill="#000"/>
<path d="M575.2,695.1L709.5,555.2" stroke="#ff1a1a" stroke-width="1.5"/>
<path d="M709.5,540.4L900.1,459.5" stroke="#ff1a1a" stroke-width="1.5"/>
<text x="790.9" y="528.3" font-size="12.3" text-anchor="start">y=5E+06x-2E+06</text>
<text x="790.9" y="545.6" font-size="12.3" text-anchor="start">R<tspan font-size="8" dy="-5">2</tspan><tspan dy="5">=0.9321</tspan></text>
<text x="653" y="656.7" font-size="12.3" text-anchor="start">y=1E+07x-5E+07</text>
<text x="653" y="673.8" font-size="12.3" text-anchor="start">R<tspan font-size="8" dy="-5">2</tspan><tspan dy="5">=0.9914</tspan></text>
</svg>
</body></html>
